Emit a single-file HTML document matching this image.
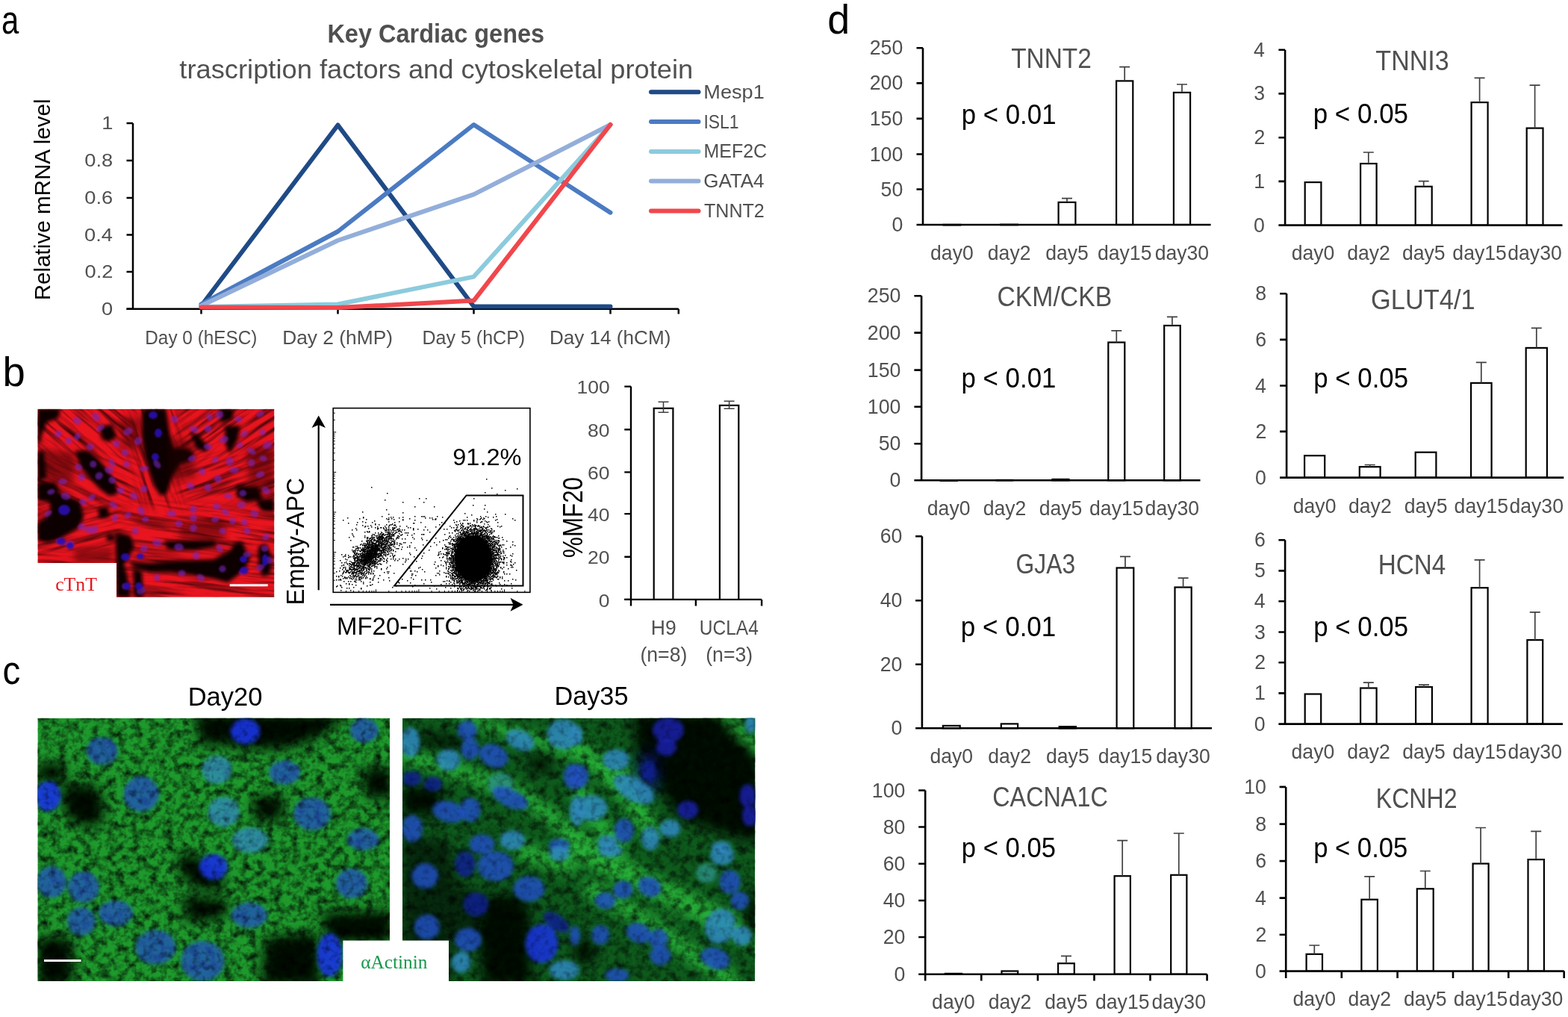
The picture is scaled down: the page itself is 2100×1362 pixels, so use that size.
<!DOCTYPE html>
<html><head><meta charset="utf-8"><title>Figure</title>
<style>html,body{margin:0;padding:0;background:#fff;overflow:hidden}svg{display:block}</style>
</head><body>
<svg width="2100" height="1362" viewBox="0 0 2100 1362">
<rect width="2100" height="1362" fill="#fff"/>
<defs>
<clipPath id="cR"><rect x="50.4" y="547.8" width="317" height="252"/></clipPath>
<clipPath id="cG1"><rect x="50.4" y="961.7" width="471.6" height="352.3"/></clipPath>
<clipPath id="cG2"><rect x="539" y="961.7" width="472.2" height="352.3"/></clipPath>
<filter id="b1" x="-20%" y="-20%" width="140%" height="140%"><feGaussianBlur stdDeviation="1.2"/></filter>
<filter id="b2" x="-20%" y="-20%" width="140%" height="140%"><feGaussianBlur stdDeviation="2.5"/></filter>
<filter id="b4" x="-20%" y="-20%" width="140%" height="140%"><feGaussianBlur stdDeviation="4"/></filter>
<filter id="b8" x="-30%" y="-30%" width="160%" height="160%"><feGaussianBlur stdDeviation="8"/></filter>
<filter id="fibR" x="0" y="0" width="100%" height="100%">
  <feTurbulence type="fractalNoise" baseFrequency="0.012 0.16" numOctaves="3" seed="7" result="n"/>
  <feColorMatrix in="n" type="matrix" values="0 0 0 0 0  0 0 0 0 0  0 0 0 0 0  -2.2 0 0 0 1.25"/>
</filter>
<filter id="fibR2" x="0" y="0" width="100%" height="100%">
  <feTurbulence type="fractalNoise" baseFrequency="0.02 0.2" numOctaves="2" seed="23" result="n"/>
  <feColorMatrix in="n" type="matrix" values="0 0 0 0 0  0 0 0 0 0  0 0 0 0 0  -2.4 0 0 0 1.3"/>
</filter>
<filter id="fibG2" x="0" y="0" width="100%" height="100%">
  <feTurbulence type="fractalNoise" baseFrequency="0.12 0.12" numOctaves="2" seed="19" result="n"/>
  <feColorMatrix in="n" type="matrix" values="0 0 0 0 0  0 0 0 0 0  0 0 0 0 0  -2.5 0 0 0 1.3"/>
</filter>
<filter id="fibG" x="0" y="0" width="100%" height="100%">
  <feTurbulence type="fractalNoise" baseFrequency="0.09 0.09" numOctaves="3" seed="11" result="n"/>
  <feColorMatrix in="n" type="matrix" values="0 0 0 0 0  0 0 0 0 0  0 0 0 0 0  -2.0 0 0 0 1.15"/>
</filter>
</defs>
<text transform="translate(2.02,44.70) scale(0.7975,1)" font-family="'Liberation Sans', sans-serif" font-size="52.59" fill="#000">a</text>
<text transform="translate(3.46,517.40) scale(0.9770,1)" font-family="'Liberation Sans', sans-serif" font-size="55.72" fill="#000">b</text>
<text transform="translate(3.60,916.00) scale(0.8985,1)" font-family="'Liberation Sans', sans-serif" font-size="52.96" fill="#000">c</text>
<text transform="translate(1108.25,44.50) scale(0.9675,1)" font-family="'Liberation Sans', sans-serif" font-size="55.59" fill="#000">d</text>
<text transform="translate(438.39,57.00) scale(0.9423,1)" font-family="'Liberation Sans', sans-serif" font-weight="bold" font-size="34.49" fill="#505050">Key Cardiac genes</text>
<text transform="translate(240.36,105.40) scale(1.0163,1)" font-family="'Liberation Sans', sans-serif" font-size="35.72" fill="#505050">trascription factors and cytoskeletal protein</text>
<text transform="translate(67.00,402.27) rotate(-90) scale(0.9944,1)" font-family="'Liberation Sans', sans-serif" font-size="29.79" fill="#000">Relative mRNA level</text>
<path d="M178.0,165 V413.75 M169.5,413.75 H908.8" stroke="#000" stroke-width="2.5" fill="none"/>
<path d="M169.5,165.0 H178.0 M169.5,215.0 H178.0 M169.5,265.0 H178.0 M169.5,314.5 H178.0 M169.5,364.0 H178.0 M169.5,413.75 H178.0 M269.5,413.75 V420.5 M452.5,413.75 V420.5 M634.5,413.75 V420.5 M817.5,413.75 V420.5 M908.8,413.75 V420.5 " stroke="#000" stroke-width="2.5" fill="none"/>
<text transform="translate(136.20,173.30) scale(1.1091,1)" font-family="'Liberation Sans', sans-serif" font-size="24.57" fill="#505050">1</text>
<text transform="translate(113.31,223.30) scale(1.1091,1)" font-family="'Liberation Sans', sans-serif" font-size="24.57" fill="#505050">0.8</text>
<text transform="translate(113.31,273.30) scale(1.1091,1)" font-family="'Liberation Sans', sans-serif" font-size="24.57" fill="#505050">0.6</text>
<text transform="translate(113.04,322.80) scale(1.1091,1)" font-family="'Liberation Sans', sans-serif" font-size="24.57" fill="#505050">0.4</text>
<text transform="translate(113.58,372.30) scale(1.1091,1)" font-family="'Liberation Sans', sans-serif" font-size="24.57" fill="#505050">0.2</text>
<text transform="translate(135.93,422.05) scale(1.1091,1)" font-family="'Liberation Sans', sans-serif" font-size="24.57" fill="#505050">0</text>
<text transform="translate(194.25,460.80) scale(0.9445,1)" font-family="'Liberation Sans', sans-serif" font-size="25.80" fill="#505050">Day 0 (hESC)</text>
<text transform="translate(378.19,460.80) scale(1.0212,1)" font-family="'Liberation Sans', sans-serif" font-size="25.80" fill="#505050">Day 2 (hMP)</text>
<text transform="translate(565.50,461.20) scale(0.9651,1)" font-family="'Liberation Sans', sans-serif" font-size="25.94" fill="#505050">Day 5 (hCP)</text>
<text transform="translate(735.91,461.20) scale(1.0062,1)" font-family="'Liberation Sans', sans-serif" font-size="25.94" fill="#505050">Day 14 (hCM)</text>
<polyline points="269.5,409.5 452.5,167.5 634.5,410.5 817.5,410.5" fill="none" stroke="#1F4A86" stroke-width="6" stroke-linejoin="round" stroke-linecap="round"/>
<polyline points="269.5,407.5 452.5,310.0 634.5,167.0 817.5,284.7" fill="none" stroke="#4B7BC2" stroke-width="6" stroke-linejoin="round" stroke-linecap="round"/>
<polyline points="269.5,411.0 452.5,407.5 634.5,370.6 817.5,167.0" fill="none" stroke="#8CCBDD" stroke-width="6" stroke-linejoin="round" stroke-linecap="round"/>
<polyline points="269.5,409.5 452.5,322.0 634.5,260.4 817.5,167.0" fill="none" stroke="#93AEDA" stroke-width="6" stroke-linejoin="round" stroke-linecap="round"/>
<polyline points="269.5,411.5 452.5,412.0 634.5,402.6 817.5,167.0" fill="none" stroke="#F0474C" stroke-width="6" stroke-linejoin="round" stroke-linecap="round"/>
<line x1="872" y1="123.2" x2="935.5" y2="123.2" stroke="#1F4A86" stroke-width="6" stroke-linecap="round"/>
<text transform="translate(942.33,131.80) scale(1.0697,1)" font-family="'Liberation Sans', sans-serif" font-size="25.36" fill="#505050">Mesp1</text>
<line x1="872" y1="163.0" x2="935.5" y2="163.0" stroke="#4B7BC2" stroke-width="6" stroke-linecap="round"/>
<text transform="translate(942.44,171.60) scale(0.9167,1)" font-family="'Liberation Sans', sans-serif" font-size="25.00" fill="#505050">ISL1</text>
<line x1="872" y1="203.1" x2="935.5" y2="203.1" stroke="#8CCBDD" stroke-width="6" stroke-linecap="round"/>
<text transform="translate(942.50,211.30) scale(0.9839,1)" font-family="'Liberation Sans', sans-serif" font-size="25.36" fill="#505050">MEF2C</text>
<line x1="872" y1="242.5" x2="935.5" y2="242.5" stroke="#93AEDA" stroke-width="6" stroke-linecap="round"/>
<text transform="translate(942.20,251.40) scale(1.0400,1)" font-family="'Liberation Sans', sans-serif" font-size="25.00" fill="#505050">GATA4</text>
<line x1="872" y1="282.6" x2="935.5" y2="282.6" stroke="#F0474C" stroke-width="6" stroke-linecap="round"/>
<text transform="translate(943.00,290.90) scale(1.0032,1)" font-family="'Liberation Sans', sans-serif" font-size="25.00" fill="#505050">TNNT2</text>
<g clip-path="url(#cR)"><rect x="50.4" y="547.8" width="317" height="252" fill="#E8141E"/><mask id="fr0" maskUnits="userSpaceOnUse" x="0" y="500" width="450" height="350"><rect x="30" y="530" width="150" height="82" fill="#fff" filter="url(#b8)"/></mask><g mask="url(#fr0)"><g transform="rotate(40 105.0 571.0)"><rect x="-95.0" y="371.0" width="400" height="400" fill="#300000" filter="url(#fibR)" opacity="0.75"/></g></g><mask id="fr1" maskUnits="userSpaceOnUse" x="0" y="500" width="450" height="350"><rect x="180" y="530" width="60" height="146" fill="#fff" filter="url(#b8)"/></mask><g mask="url(#fr1)"><g transform="rotate(70 210.0 603.0)"><rect x="10.0" y="403.0" width="400" height="400" fill="#300000" filter="url(#fibR)" opacity="0.75"/></g></g><mask id="fr2" maskUnits="userSpaceOnUse" x="0" y="500" width="450" height="350"><rect x="240" y="530" width="150" height="82" fill="#fff" filter="url(#b8)"/></mask><g mask="url(#fr2)"><g transform="rotate(-35 315.0 571.0)"><rect x="115.0" y="371.0" width="400" height="400" fill="#300000" filter="url(#fibR)" opacity="0.75"/></g></g><mask id="fr3" maskUnits="userSpaceOnUse" x="0" y="500" width="450" height="350"><rect x="30" y="612" width="150" height="64" fill="#fff" filter="url(#b8)"/></mask><g mask="url(#fr3)"><g transform="rotate(25 105.0 644.0)"><rect x="-95.0" y="444.0" width="400" height="400" fill="#300000" filter="url(#fibR)" opacity="0.75"/></g></g><mask id="fr4" maskUnits="userSpaceOnUse" x="0" y="500" width="450" height="350"><rect x="240" y="612" width="150" height="64" fill="#fff" filter="url(#b8)"/></mask><g mask="url(#fr4)"><g transform="rotate(-20 315.0 644.0)"><rect x="115.0" y="444.0" width="400" height="400" fill="#300000" filter="url(#fibR)" opacity="0.75"/></g></g><mask id="fr5" maskUnits="userSpaceOnUse" x="0" y="500" width="450" height="350"><rect x="30" y="676" width="130" height="64" fill="#fff" filter="url(#b8)"/></mask><g mask="url(#fr5)"><g transform="rotate(-15 95.0 708.0)"><rect x="-105.0" y="508.0" width="400" height="400" fill="#300000" filter="url(#fibR)" opacity="0.75"/></g></g><mask id="fr6" maskUnits="userSpaceOnUse" x="0" y="500" width="450" height="350"><rect x="160" y="676" width="230" height="64" fill="#fff" filter="url(#b8)"/></mask><g mask="url(#fr6)"><g transform="rotate(8 275.0 708.0)"><rect x="75.0" y="508.0" width="400" height="400" fill="#300000" filter="url(#fibR)" opacity="0.75"/></g></g><mask id="fr7" maskUnits="userSpaceOnUse" x="0" y="500" width="450" height="350"><rect x="30" y="740" width="360" height="80" fill="#fff" filter="url(#b8)"/></mask><g mask="url(#fr7)"><g transform="rotate(5 210.0 780.0)"><rect x="10.0" y="580.0" width="400" height="400" fill="#300000" filter="url(#fibR)" opacity="0.75"/></g></g><g filter="url(#b2)" fill="#070005"><polygon points="50.0,547.0 81.0,547.0 78.0,560.0 62.0,566.0 57.0,580.0 50.0,600.0"/><polygon points="50.0,604.0 59.0,604.0 63.0,640.0 50.0,645.0"/><polygon points="134.0,572.0 150.0,568.0 156.0,584.0 146.0,592.0 136.0,588.0"/><polygon points="192.0,547.0 222.0,547.0 225.0,565.0 228.0,585.0 232.0,600.0 248.0,600.0 258.0,605.0 258.0,615.0 240.0,622.0 230.0,640.0 224.0,660.0 215.0,664.0 206.0,650.0 200.0,630.0 194.0,610.0 190.0,585.0 190.0,560.0"/><polygon points="255.0,577.0 268.0,585.0 280.0,600.0 275.0,605.0 262.0,600.0"/><polygon points="100.0,604.0 118.0,603.0 131.0,614.0 146.0,632.0 156.0,650.0 157.0,662.0 146.0,664.0 134.0,655.0 120.0,640.0 108.0,625.0"/><polygon points="50.0,646.0 74.0,646.0 80.0,660.0 100.0,668.0 108.0,672.0 112.0,694.0 104.0,708.0 90.0,716.0 78.0,723.0 64.0,727.0 50.0,724.0 50.0,700.0 60.0,694.0 68.0,684.0 66.0,672.0 50.0,670.0"/><polygon points="301.0,570.0 322.0,570.0 318.0,590.0 308.0,607.0 302.0,596.0"/><polygon points="293.0,547.0 313.0,547.0 311.0,562.0 296.0,566.0"/><polygon points="155.0,713.0 174.0,717.0 180.0,732.0 172.0,746.0 166.0,756.0 170.0,770.0 175.0,800.0 156.0,800.0"/><polygon points="178.0,762.0 190.0,765.0 192.0,800.0 180.0,800.0"/><polygon points="172.0,752.0 200.0,754.0 238.0,751.0 286.0,749.0 309.0,737.0 314.0,727.0 324.0,725.0 329.0,737.0 335.0,746.0 329.0,761.0 319.0,770.0 305.0,780.0 286.0,775.0 257.0,770.0 229.0,766.0 200.0,766.0 180.0,760.0"/><polygon points="346.0,732.0 356.0,728.0 364.0,745.0 362.0,768.0 352.0,772.0 346.0,755.0"/><polygon points="343.0,670.0 367.0,668.0 367.0,686.0 350.0,684.0"/><polygon points="131.0,680.0 145.0,679.0 146.0,693.0 133.0,694.0"/><polygon points="143.0,716.0 153.0,716.0 153.0,724.0 143.0,724.0"/><polygon points="219.0,724.0 286.0,724.0 291.0,731.0 260.0,737.0 225.0,736.0"/><polygon points="318.0,650.0 346.0,652.0 352.0,668.0 330.0,672.0 316.0,664.0"/></g><g filter="url(#b4)" fill="#200004" opacity="0.45"><polygon points="222.0,585.0 258.0,590.0 262.0,640.0 226.0,642.0"/><polygon points="58.0,602.0 100.0,606.0 98.0,650.0 60.0,648.0"/><polygon points="240.0,700.0 300.0,698.0 302.0,720.0 242.0,722.0"/><polygon points="330.0,600.0 367.0,598.0 367.0,660.0 334.0,662.0"/><polygon points="160.0,560.0 188.0,560.0 188.0,600.0 165.0,600.0"/><polygon points="100.0,735.0 150.0,735.0 150.0,754.0 100.0,754.0"/></g><g filter="url(#b1)"><ellipse cx="103.4" cy="563.4" rx="5.7" ry="4.6" transform="rotate(35 103.4 563.4)" fill="#7428C0" opacity="0.6"/><ellipse cx="128.7" cy="558.5" rx="6.4" ry="4.6" transform="rotate(51 128.7 558.5)" fill="#7428C0" opacity="0.6"/><ellipse cx="280.5" cy="558.5" rx="4.6" ry="4.2" transform="rotate(53 280.5 558.5)" fill="#7428C0" opacity="0.6"/><ellipse cx="294.1" cy="555.6" rx="5.8" ry="4.9" transform="rotate(-46 294.1 555.6)" fill="#7428C0" opacity="0.6"/><ellipse cx="319.4" cy="561.4" rx="5.4" ry="3.9" transform="rotate(5 319.4 561.4)" fill="#7428C0" opacity="0.6"/><ellipse cx="348.6" cy="554.6" rx="5.6" ry="3.5" transform="rotate(-34 348.6 554.6)" fill="#7428C0" opacity="0.6"/><ellipse cx="233.8" cy="561.4" rx="5.1" ry="4.9" transform="rotate(32 233.8 561.4)" fill="#7428C0" opacity="0.6"/><ellipse cx="78.1" cy="580.9" rx="4.8" ry="4.7" transform="rotate(-43 78.1 580.9)" fill="#7428C0" opacity="0.6"/><ellipse cx="103.4" cy="584.8" rx="5.7" ry="3.7" transform="rotate(-60 103.4 584.8)" fill="#7428C0" opacity="0.6"/><ellipse cx="134.5" cy="573.1" rx="6.2" ry="3.8" transform="rotate(-34 134.5 573.1)" fill="#7428C0" opacity="0.6"/><ellipse cx="171.5" cy="577.9" rx="6.5" ry="4.8" transform="rotate(-25 171.5 577.9)" fill="#7428C0" opacity="0.6"/><ellipse cx="260.0" cy="575.0" rx="6.4" ry="4.3" transform="rotate(21 260.0 575.0)" fill="#7428C0" opacity="0.6"/><ellipse cx="278.5" cy="574.1" rx="4.9" ry="4.9" transform="rotate(23 278.5 574.1)" fill="#7428C0" opacity="0.6"/><ellipse cx="299.9" cy="588.6" rx="6.4" ry="4.8" transform="rotate(-24 299.9 588.6)" fill="#7428C0" opacity="0.6"/><ellipse cx="327.2" cy="580.9" rx="5.2" ry="3.7" transform="rotate(-43 327.2 580.9)" fill="#7428C0" opacity="0.6"/><ellipse cx="351.5" cy="578.9" rx="4.6" ry="4.0" transform="rotate(12 351.5 578.9)" fill="#7428C0" opacity="0.6"/><ellipse cx="91.7" cy="590.6" rx="4.5" ry="4.5" transform="rotate(-19 91.7 590.6)" fill="#7428C0" opacity="0.6"/><ellipse cx="120.9" cy="598.4" rx="5.1" ry="4.7" transform="rotate(-2 120.9 598.4)" fill="#7428C0" opacity="0.6"/><ellipse cx="155.9" cy="594.5" rx="5.1" ry="4.2" transform="rotate(25 155.9 594.5)" fill="#7428C0" opacity="0.6"/><ellipse cx="167.6" cy="606.2" rx="4.6" ry="5.0" transform="rotate(-57 167.6 606.2)" fill="#7428C0" opacity="0.6"/><ellipse cx="185.1" cy="590.6" rx="6.0" ry="4.8" transform="rotate(-58 185.1 590.6)" fill="#7428C0" opacity="0.6"/><ellipse cx="278.5" cy="598.4" rx="6.1" ry="4.0" transform="rotate(9 278.5 598.4)" fill="#7428C0" opacity="0.6"/><ellipse cx="321.3" cy="596.4" rx="4.5" ry="3.6" transform="rotate(-38 321.3 596.4)" fill="#7428C0" opacity="0.6"/><ellipse cx="336.9" cy="604.2" rx="6.4" ry="3.8" transform="rotate(31 336.9 604.2)" fill="#7428C0" opacity="0.6"/><ellipse cx="358.3" cy="596.4" rx="6.4" ry="4.9" transform="rotate(-19 358.3 596.4)" fill="#7428C0" opacity="0.6"/><ellipse cx="105.3" cy="625.6" rx="5.2" ry="4.3" transform="rotate(33 105.3 625.6)" fill="#7428C0" opacity="0.6"/><ellipse cx="124.8" cy="621.7" rx="4.7" ry="4.6" transform="rotate(36 124.8 621.7)" fill="#7428C0" opacity="0.6"/><ellipse cx="150.1" cy="619.8" rx="6.2" ry="3.6" transform="rotate(53 150.1 619.8)" fill="#7428C0" opacity="0.6"/><ellipse cx="169.5" cy="621.7" rx="4.7" ry="4.0" transform="rotate(13 169.5 621.7)" fill="#7428C0" opacity="0.6"/><ellipse cx="210.4" cy="621.7" rx="6.3" ry="4.0" transform="rotate(51 210.4 621.7)" fill="#7428C0" opacity="0.6"/><ellipse cx="257.1" cy="613.9" rx="5.6" ry="4.0" transform="rotate(-22 257.1 613.9)" fill="#7428C0" opacity="0.6"/><ellipse cx="288.2" cy="615.9" rx="4.9" ry="3.6" transform="rotate(-42 288.2 615.9)" fill="#7428C0" opacity="0.6"/><ellipse cx="307.7" cy="617.8" rx="5.9" ry="5.0" transform="rotate(-41 307.7 617.8)" fill="#7428C0" opacity="0.6"/><ellipse cx="336.9" cy="619.8" rx="4.6" ry="5.0" transform="rotate(4 336.9 619.8)" fill="#7428C0" opacity="0.6"/><ellipse cx="352.5" cy="613.9" rx="5.3" ry="3.9" transform="rotate(11 352.5 613.9)" fill="#7428C0" opacity="0.6"/><ellipse cx="83.9" cy="645.1" rx="6.2" ry="4.2" transform="rotate(-9 83.9 645.1)" fill="#7428C0" opacity="0.6"/><ellipse cx="109.2" cy="639.2" rx="4.6" ry="4.9" transform="rotate(-56 109.2 639.2)" fill="#7428C0" opacity="0.6"/><ellipse cx="132.6" cy="637.3" rx="5.5" ry="4.8" transform="rotate(-44 132.6 637.3)" fill="#7428C0" opacity="0.6"/><ellipse cx="146.2" cy="629.5" rx="6.0" ry="4.9" transform="rotate(16 146.2 629.5)" fill="#7428C0" opacity="0.6"/><ellipse cx="192.9" cy="627.6" rx="6.1" ry="3.7" transform="rotate(-8 192.9 627.6)" fill="#7428C0" opacity="0.6"/><ellipse cx="270.7" cy="631.5" rx="4.8" ry="4.8" transform="rotate(-25 270.7 631.5)" fill="#7428C0" opacity="0.6"/><ellipse cx="292.1" cy="641.2" rx="5.4" ry="5.0" transform="rotate(42 292.1 641.2)" fill="#7428C0" opacity="0.6"/><ellipse cx="313.5" cy="629.5" rx="6.5" ry="4.2" transform="rotate(-1 313.5 629.5)" fill="#7428C0" opacity="0.6"/><ellipse cx="348.6" cy="635.3" rx="6.0" ry="4.2" transform="rotate(-25 348.6 635.3)" fill="#7428C0" opacity="0.6"/><ellipse cx="68.4" cy="658.7" rx="5.3" ry="3.7" transform="rotate(-15 68.4 658.7)" fill="#7428C0" opacity="0.6"/><ellipse cx="87.8" cy="664.5" rx="6.5" ry="4.9" transform="rotate(15 87.8 664.5)" fill="#7428C0" opacity="0.6"/><ellipse cx="122.8" cy="666.5" rx="5.5" ry="4.0" transform="rotate(-49 122.8 666.5)" fill="#7428C0" opacity="0.6"/><ellipse cx="150.1" cy="643.1" rx="5.0" ry="4.7" transform="rotate(44 150.1 643.1)" fill="#7428C0" opacity="0.6"/><ellipse cx="161.8" cy="656.8" rx="5.2" ry="4.7" transform="rotate(33 161.8 656.8)" fill="#7428C0" opacity="0.6"/><ellipse cx="179.3" cy="664.5" rx="5.9" ry="4.5" transform="rotate(31 179.3 664.5)" fill="#7428C0" opacity="0.6"/><ellipse cx="192.9" cy="654.8" rx="5.2" ry="4.6" transform="rotate(-26 192.9 654.8)" fill="#7428C0" opacity="0.6"/><ellipse cx="255.2" cy="650.9" rx="5.5" ry="4.7" transform="rotate(23 255.2 650.9)" fill="#7428C0" opacity="0.6"/><ellipse cx="278.5" cy="652.9" rx="5.1" ry="4.9" transform="rotate(18 278.5 652.9)" fill="#7428C0" opacity="0.6"/><ellipse cx="305.8" cy="664.5" rx="5.7" ry="3.5" transform="rotate(6 305.8 664.5)" fill="#7428C0" opacity="0.6"/><ellipse cx="325.2" cy="660.6" rx="5.0" ry="4.5" transform="rotate(-4 325.2 660.6)" fill="#7428C0" opacity="0.6"/><ellipse cx="356.3" cy="656.8" rx="6.1" ry="4.5" transform="rotate(36 356.3 656.8)" fill="#7428C0" opacity="0.6"/><ellipse cx="111.2" cy="672.3" rx="5.2" ry="4.5" transform="rotate(29 111.2 672.3)" fill="#7428C0" opacity="0.6"/><ellipse cx="152.0" cy="676.2" rx="6.2" ry="4.0" transform="rotate(41 152.0 676.2)" fill="#7428C0" opacity="0.6"/><ellipse cx="189.0" cy="684.0" rx="6.2" ry="4.5" transform="rotate(57 189.0 684.0)" fill="#7428C0" opacity="0.6"/><ellipse cx="229.9" cy="687.9" rx="6.4" ry="4.3" transform="rotate(4 229.9 687.9)" fill="#7428C0" opacity="0.6"/><ellipse cx="259.0" cy="682.1" rx="4.8" ry="4.8" transform="rotate(52 259.0 682.1)" fill="#7428C0" opacity="0.6"/><ellipse cx="290.2" cy="678.2" rx="5.5" ry="4.5" transform="rotate(26 290.2 678.2)" fill="#7428C0" opacity="0.6"/><ellipse cx="301.9" cy="685.9" rx="6.0" ry="3.8" transform="rotate(34 301.9 685.9)" fill="#7428C0" opacity="0.6"/><ellipse cx="323.3" cy="676.2" rx="5.7" ry="4.5" transform="rotate(-10 323.3 676.2)" fill="#7428C0" opacity="0.6"/><ellipse cx="340.8" cy="687.9" rx="5.7" ry="4.7" transform="rotate(16 340.8 687.9)" fill="#7428C0" opacity="0.6"/><ellipse cx="64.5" cy="687.9" rx="5.9" ry="3.5" transform="rotate(-41 64.5 687.9)" fill="#7428C0" opacity="0.6"/><ellipse cx="109.2" cy="705.4" rx="5.4" ry="4.5" transform="rotate(-34 109.2 705.4)" fill="#7428C0" opacity="0.6"/><ellipse cx="126.7" cy="709.3" rx="5.9" ry="4.4" transform="rotate(-55 126.7 709.3)" fill="#7428C0" opacity="0.6"/><ellipse cx="154.0" cy="693.7" rx="5.4" ry="3.8" transform="rotate(-54 154.0 693.7)" fill="#7428C0" opacity="0.6"/><ellipse cx="171.5" cy="689.8" rx="4.8" ry="4.0" transform="rotate(-38 171.5 689.8)" fill="#7428C0" opacity="0.6"/><ellipse cx="194.8" cy="695.7" rx="4.9" ry="3.6" transform="rotate(-4 194.8 695.7)" fill="#7428C0" opacity="0.6"/><ellipse cx="239.6" cy="701.5" rx="5.3" ry="4.4" transform="rotate(11 239.6 701.5)" fill="#7428C0" opacity="0.6"/><ellipse cx="259.0" cy="693.7" rx="5.0" ry="4.9" transform="rotate(-60 259.0 693.7)" fill="#7428C0" opacity="0.6"/><ellipse cx="288.2" cy="695.7" rx="5.3" ry="3.9" transform="rotate(-11 288.2 695.7)" fill="#7428C0" opacity="0.6"/><ellipse cx="311.6" cy="697.6" rx="4.7" ry="4.7" transform="rotate(-15 311.6 697.6)" fill="#7428C0" opacity="0.6"/><ellipse cx="327.2" cy="699.6" rx="4.6" ry="4.4" transform="rotate(-49 327.2 699.6)" fill="#7428C0" opacity="0.6"/><ellipse cx="80.0" cy="724.9" rx="5.6" ry="4.0" transform="rotate(10 80.0 724.9)" fill="#7428C0" opacity="0.6"/><ellipse cx="93.6" cy="728.8" rx="6.4" ry="4.7" transform="rotate(-10 93.6 728.8)" fill="#7428C0" opacity="0.6"/><ellipse cx="118.9" cy="709.3" rx="6.1" ry="4.5" transform="rotate(-16 118.9 709.3)" fill="#7428C0" opacity="0.6"/><ellipse cx="181.2" cy="711.2" rx="4.8" ry="4.4" transform="rotate(8 181.2 711.2)" fill="#7428C0" opacity="0.6"/><ellipse cx="210.4" cy="726.8" rx="6.4" ry="5.0" transform="rotate(13 210.4 726.8)" fill="#7428C0" opacity="0.6"/><ellipse cx="259.0" cy="707.3" rx="5.2" ry="4.8" transform="rotate(-60 259.0 707.3)" fill="#7428C0" opacity="0.6"/><ellipse cx="298.0" cy="711.2" rx="4.7" ry="4.3" transform="rotate(14 298.0 711.2)" fill="#7428C0" opacity="0.6"/><ellipse cx="331.0" cy="711.2" rx="4.8" ry="4.4" transform="rotate(47 331.0 711.2)" fill="#7428C0" opacity="0.6"/><ellipse cx="356.3" cy="719.0" rx="5.3" ry="4.1" transform="rotate(-33 356.3 719.0)" fill="#7428C0" opacity="0.6"/><ellipse cx="192.9" cy="734.6" rx="5.1" ry="5.0" transform="rotate(-14 192.9 734.6)" fill="#7428C0" opacity="0.6"/><ellipse cx="239.6" cy="732.6" rx="6.4" ry="4.9" transform="rotate(11 239.6 732.6)" fill="#7428C0" opacity="0.6"/><ellipse cx="262.9" cy="744.3" rx="5.0" ry="5.0" transform="rotate(-0 262.9 744.3)" fill="#7428C0" opacity="0.6"/><ellipse cx="294.1" cy="734.6" rx="5.3" ry="4.0" transform="rotate(58 294.1 734.6)" fill="#7428C0" opacity="0.6"/><ellipse cx="331.0" cy="742.4" rx="5.5" ry="3.9" transform="rotate(-3 331.0 742.4)" fill="#7428C0" opacity="0.6"/><ellipse cx="354.4" cy="734.6" rx="4.7" ry="4.4" transform="rotate(-7 354.4 734.6)" fill="#7428C0" opacity="0.6"/><ellipse cx="360.2" cy="750.2" rx="5.1" ry="4.7" transform="rotate(39 360.2 750.2)" fill="#7428C0" opacity="0.6"/><ellipse cx="167.6" cy="785.2" rx="4.5" ry="4.3" transform="rotate(-27 167.6 785.2)" fill="#7428C0" opacity="0.6"/><ellipse cx="189.0" cy="791.0" rx="6.4" ry="4.7" transform="rotate(-31 189.0 791.0)" fill="#7428C0" opacity="0.6"/><ellipse cx="210.4" cy="773.5" rx="5.0" ry="3.7" transform="rotate(59 210.4 773.5)" fill="#7428C0" opacity="0.6"/><ellipse cx="243.5" cy="767.7" rx="5.1" ry="4.4" transform="rotate(-3 243.5 767.7)" fill="#7428C0" opacity="0.6"/><ellipse cx="268.8" cy="773.5" rx="5.8" ry="4.4" transform="rotate(29 268.8 773.5)" fill="#7428C0" opacity="0.6"/><ellipse cx="298.0" cy="761.8" rx="4.7" ry="4.6" transform="rotate(-24 298.0 761.8)" fill="#7428C0" opacity="0.6"/><ellipse cx="325.2" cy="765.7" rx="5.6" ry="4.0" transform="rotate(-24 325.2 765.7)" fill="#7428C0" opacity="0.6"/><ellipse cx="348.6" cy="759.9" rx="5.6" ry="4.2" transform="rotate(-17 348.6 759.9)" fill="#7428C0" opacity="0.6"/><ellipse cx="86" cy="683" rx="8" ry="7" fill="#2A10B0" opacity="0.9"/><ellipse cx="82" cy="725" rx="6" ry="5" fill="#2A10B0" opacity="0.9"/><ellipse cx="94" cy="731" rx="5" ry="4.5" fill="#2A10B0" opacity="0.9"/><ellipse cx="118" cy="775" rx="5" ry="4" fill="#2A10B0" opacity="0.9"/><ellipse cx="168" cy="746" rx="6" ry="5" fill="#2A10B0" opacity="0.9"/><ellipse cx="188" cy="745" rx="5" ry="4" fill="#2A10B0" opacity="0.9"/><ellipse cx="205" cy="556" rx="6" ry="5" fill="#2A10B0" opacity="0.9"/><ellipse cx="212" cy="580" rx="5" ry="6" fill="#2A10B0" opacity="0.9"/><ellipse cx="208" cy="612" rx="5" ry="5" fill="#2A10B0" opacity="0.9"/><ellipse cx="326" cy="749" rx="5" ry="4.5" fill="#2A10B0" opacity="0.9"/><ellipse cx="327" cy="764" rx="6" ry="5" fill="#2A10B0" opacity="0.9"/><ellipse cx="355" cy="750" rx="4" ry="8" fill="#2A10B0" opacity="0.9"/><ellipse cx="186" cy="785" rx="5" ry="5" fill="#2A10B0" opacity="0.9"/><ellipse cx="170" cy="785" rx="5" ry="5" fill="#2A10B0" opacity="0.9"/></g></g>
<rect x="50" y="754" width="106" height="47" fill="#fff"/>
<rect x="307.7" y="782.3" width="51" height="3" fill="#fff"/>
<text transform="translate(74.17,791.00) scale(1.0235,1)" font-family="'Liberation Serif', serif" font-size="25.19" fill="#E8141C">cTnT</text>
<ellipse cx="634" cy="748" rx="25" ry="31" fill="#000"/><ellipse cx="494" cy="744" rx="16" ry="6" transform="rotate(-48 495 742)" fill="#000" opacity="0.75"/><path d="M616 720h1.5v1.5h-1.5zM619 709h1.5v1.5h-1.5zM610 763h1.5v1.5h-1.5zM640 773h1.5v1.5h-1.5zM639 791h1.5v1.5h-1.5zM626 720h1.5v1.5h-1.5zM658 741h1.5v1.5h-1.5zM610 722h1.5v1.5h-1.5zM605 736h1.5v1.5h-1.5zM615 723h1.5v1.5h-1.5zM626 714h1.5v1.5h-1.5zM638 779h1.5v1.5h-1.5zM617 722h1.5v1.5h-1.5zM659 732h1.5v1.5h-1.5zM644 769h1.5v1.5h-1.5zM608 710h1.5v1.5h-1.5zM646 724h1.5v1.5h-1.5zM632 780h1.5v1.5h-1.5zM655 721h1.5v1.5h-1.5zM603 758h1.5v1.5h-1.5zM614 737h1.5v1.5h-1.5zM641 780h1.5v1.5h-1.5zM656 763h1.5v1.5h-1.5zM607 766h1.5v1.5h-1.5zM675 746h1.5v1.5h-1.5zM629 716h1.5v1.5h-1.5zM631 777h1.5v1.5h-1.5zM660 737h1.5v1.5h-1.5zM607 748h1.5v1.5h-1.5zM636 704h1.5v1.5h-1.5zM627 773h1.5v1.5h-1.5zM652 728h1.5v1.5h-1.5zM662 736h1.5v1.5h-1.5zM653 761h1.5v1.5h-1.5zM606 739h1.5v1.5h-1.5zM614 761h1.5v1.5h-1.5zM626 779h1.5v1.5h-1.5zM609 760h1.5v1.5h-1.5zM609 729h1.5v1.5h-1.5zM657 764h1.5v1.5h-1.5zM662 766h1.5v1.5h-1.5zM644 787h1.5v1.5h-1.5zM640 714h1.5v1.5h-1.5zM659 766h1.5v1.5h-1.5zM623 719h1.5v1.5h-1.5zM612 769h1.5v1.5h-1.5zM607 758h1.5v1.5h-1.5zM633 785h1.5v1.5h-1.5zM665 759h1.5v1.5h-1.5zM667 739h1.5v1.5h-1.5zM640 784h1.5v1.5h-1.5zM613 772h1.5v1.5h-1.5zM612 763h1.5v1.5h-1.5zM611 736h1.5v1.5h-1.5zM596 722h1.5v1.5h-1.5zM661 761h1.5v1.5h-1.5zM660 740h1.5v1.5h-1.5zM612 732h1.5v1.5h-1.5zM633 787h1.5v1.5h-1.5zM607 766h1.5v1.5h-1.5zM629 718h1.5v1.5h-1.5zM623 720h1.5v1.5h-1.5zM614 755h1.5v1.5h-1.5zM657 763h1.5v1.5h-1.5zM654 723h1.5v1.5h-1.5zM645 722h1.5v1.5h-1.5zM658 747h1.5v1.5h-1.5zM620 719h1.5v1.5h-1.5zM610 739h1.5v1.5h-1.5zM631 715h1.5v1.5h-1.5zM660 725h1.5v1.5h-1.5zM614 761h1.5v1.5h-1.5zM631 786h1.5v1.5h-1.5zM611 763h1.5v1.5h-1.5zM603 734h1.5v1.5h-1.5zM651 776h1.5v1.5h-1.5zM654 717h1.5v1.5h-1.5zM636 789h1.5v1.5h-1.5zM616 726h1.5v1.5h-1.5zM657 714h1.5v1.5h-1.5zM630 720h1.5v1.5h-1.5zM642 710h1.5v1.5h-1.5zM663 772h1.5v1.5h-1.5zM637 778h1.5v1.5h-1.5zM640 790h1.5v1.5h-1.5zM615 785h1.5v1.5h-1.5zM609 771h1.5v1.5h-1.5zM671 732h1.5v1.5h-1.5zM632 713h1.5v1.5h-1.5zM613 736h1.5v1.5h-1.5zM664 747h1.5v1.5h-1.5zM617 710h1.5v1.5h-1.5zM622 721h1.5v1.5h-1.5zM623 786h1.5v1.5h-1.5zM615 761h1.5v1.5h-1.5zM622 711h1.5v1.5h-1.5zM627 774h1.5v1.5h-1.5zM607 728h1.5v1.5h-1.5zM612 760h1.5v1.5h-1.5zM650 781h1.5v1.5h-1.5zM617 720h1.5v1.5h-1.5zM639 788h1.5v1.5h-1.5zM617 726h1.5v1.5h-1.5zM613 751h1.5v1.5h-1.5zM638 719h1.5v1.5h-1.5zM648 783h1.5v1.5h-1.5zM646 723h1.5v1.5h-1.5zM618 715h1.5v1.5h-1.5zM613 723h1.5v1.5h-1.5zM651 707h1.5v1.5h-1.5zM632 787h1.5v1.5h-1.5zM637 707h1.5v1.5h-1.5zM628 779h1.5v1.5h-1.5zM609 738h1.5v1.5h-1.5zM663 764h1.5v1.5h-1.5zM614 764h1.5v1.5h-1.5zM626 712h1.5v1.5h-1.5zM612 772h1.5v1.5h-1.5zM667 735h1.5v1.5h-1.5zM608 738h1.5v1.5h-1.5zM663 756h1.5v1.5h-1.5zM613 767h1.5v1.5h-1.5zM662 754h1.5v1.5h-1.5zM658 752h1.5v1.5h-1.5zM617 768h1.5v1.5h-1.5zM638 709h1.5v1.5h-1.5zM660 764h1.5v1.5h-1.5zM665 747h1.5v1.5h-1.5zM636 706h1.5v1.5h-1.5zM660 750h1.5v1.5h-1.5zM639 782h1.5v1.5h-1.5zM648 784h1.5v1.5h-1.5zM665 739h1.5v1.5h-1.5zM619 780h1.5v1.5h-1.5zM660 762h1.5v1.5h-1.5zM651 765h1.5v1.5h-1.5zM659 742h1.5v1.5h-1.5zM609 761h1.5v1.5h-1.5zM652 711h1.5v1.5h-1.5zM613 718h1.5v1.5h-1.5zM661 742h1.5v1.5h-1.5zM605 738h1.5v1.5h-1.5zM651 718h1.5v1.5h-1.5zM653 726h1.5v1.5h-1.5zM661 752h1.5v1.5h-1.5zM639 779h1.5v1.5h-1.5zM633 784h1.5v1.5h-1.5zM653 763h1.5v1.5h-1.5zM611 714h1.5v1.5h-1.5zM601 753h1.5v1.5h-1.5zM635 712h1.5v1.5h-1.5zM655 772h1.5v1.5h-1.5zM610 741h1.5v1.5h-1.5zM631 709h1.5v1.5h-1.5zM629 780h1.5v1.5h-1.5zM660 750h1.5v1.5h-1.5zM666 742h1.5v1.5h-1.5zM602 748h1.5v1.5h-1.5zM608 757h1.5v1.5h-1.5zM607 751h1.5v1.5h-1.5zM656 762h1.5v1.5h-1.5zM625 782h1.5v1.5h-1.5zM635 707h1.5v1.5h-1.5zM601 760h1.5v1.5h-1.5zM662 743h1.5v1.5h-1.5zM663 736h1.5v1.5h-1.5zM621 720h1.5v1.5h-1.5zM611 755h1.5v1.5h-1.5zM635 777h1.5v1.5h-1.5zM658 730h1.5v1.5h-1.5zM618 714h1.5v1.5h-1.5zM656 729h1.5v1.5h-1.5zM650 775h1.5v1.5h-1.5zM651 767h1.5v1.5h-1.5zM663 734h1.5v1.5h-1.5zM612 760h1.5v1.5h-1.5zM663 768h1.5v1.5h-1.5zM664 746h1.5v1.5h-1.5zM655 752h1.5v1.5h-1.5zM647 786h1.5v1.5h-1.5zM606 748h1.5v1.5h-1.5zM653 718h1.5v1.5h-1.5zM625 788h1.5v1.5h-1.5zM622 779h1.5v1.5h-1.5zM598 777h1.5v1.5h-1.5zM609 768h1.5v1.5h-1.5zM633 709h1.5v1.5h-1.5zM660 731h1.5v1.5h-1.5zM657 775h1.5v1.5h-1.5zM608 736h1.5v1.5h-1.5zM663 747h1.5v1.5h-1.5zM602 746h1.5v1.5h-1.5zM626 787h1.5v1.5h-1.5zM612 773h1.5v1.5h-1.5zM652 725h1.5v1.5h-1.5zM631 780h1.5v1.5h-1.5zM646 770h1.5v1.5h-1.5zM605 734h1.5v1.5h-1.5zM624 715h1.5v1.5h-1.5zM640 704h1.5v1.5h-1.5zM606 773h1.5v1.5h-1.5zM659 741h1.5v1.5h-1.5zM651 725h1.5v1.5h-1.5zM601 738h1.5v1.5h-1.5zM646 777h1.5v1.5h-1.5zM618 777h1.5v1.5h-1.5zM655 715h1.5v1.5h-1.5zM626 719h1.5v1.5h-1.5zM623 723h1.5v1.5h-1.5zM634 713h1.5v1.5h-1.5zM601 758h1.5v1.5h-1.5zM656 755h1.5v1.5h-1.5zM606 740h1.5v1.5h-1.5zM653 785h1.5v1.5h-1.5zM658 731h1.5v1.5h-1.5zM634 777h1.5v1.5h-1.5zM619 707h1.5v1.5h-1.5zM615 778h1.5v1.5h-1.5zM649 722h1.5v1.5h-1.5zM612 746h1.5v1.5h-1.5zM627 786h1.5v1.5h-1.5zM628 787h1.5v1.5h-1.5zM611 728h1.5v1.5h-1.5zM626 777h1.5v1.5h-1.5zM610 718h1.5v1.5h-1.5zM622 781h1.5v1.5h-1.5zM632 713h1.5v1.5h-1.5zM649 771h1.5v1.5h-1.5zM599 739h1.5v1.5h-1.5zM599 750h1.5v1.5h-1.5zM617 788h1.5v1.5h-1.5zM657 707h1.5v1.5h-1.5zM657 741h1.5v1.5h-1.5zM608 741h1.5v1.5h-1.5zM617 710h1.5v1.5h-1.5zM640 777h1.5v1.5h-1.5zM608 737h1.5v1.5h-1.5zM657 730h1.5v1.5h-1.5zM652 774h1.5v1.5h-1.5zM653 730h1.5v1.5h-1.5zM619 719h1.5v1.5h-1.5zM650 777h1.5v1.5h-1.5zM599 752h1.5v1.5h-1.5zM614 757h1.5v1.5h-1.5zM654 768h1.5v1.5h-1.5zM615 765h1.5v1.5h-1.5zM654 712h1.5v1.5h-1.5zM664 751h1.5v1.5h-1.5zM652 770h1.5v1.5h-1.5zM641 780h1.5v1.5h-1.5zM652 771h1.5v1.5h-1.5zM621 722h1.5v1.5h-1.5zM622 778h1.5v1.5h-1.5zM632 702h1.5v1.5h-1.5zM611 746h1.5v1.5h-1.5zM667 734h1.5v1.5h-1.5zM606 756h1.5v1.5h-1.5zM604 749h1.5v1.5h-1.5zM657 761h1.5v1.5h-1.5zM659 758h1.5v1.5h-1.5zM657 746h1.5v1.5h-1.5zM610 724h1.5v1.5h-1.5zM638 708h1.5v1.5h-1.5zM613 754h1.5v1.5h-1.5zM653 765h1.5v1.5h-1.5zM614 778h1.5v1.5h-1.5zM660 768h1.5v1.5h-1.5zM645 709h1.5v1.5h-1.5zM651 771h1.5v1.5h-1.5zM632 711h1.5v1.5h-1.5zM618 771h1.5v1.5h-1.5zM622 723h1.5v1.5h-1.5zM634 711h1.5v1.5h-1.5zM654 709h1.5v1.5h-1.5zM666 752h1.5v1.5h-1.5zM633 781h1.5v1.5h-1.5zM612 771h1.5v1.5h-1.5zM638 778h1.5v1.5h-1.5zM614 769h1.5v1.5h-1.5zM658 758h1.5v1.5h-1.5zM625 718h1.5v1.5h-1.5zM631 775h1.5v1.5h-1.5zM613 758h1.5v1.5h-1.5zM655 757h1.5v1.5h-1.5zM659 749h1.5v1.5h-1.5zM624 777h1.5v1.5h-1.5zM650 778h1.5v1.5h-1.5zM672 761h1.5v1.5h-1.5zM607 729h1.5v1.5h-1.5zM656 772h1.5v1.5h-1.5zM650 712h1.5v1.5h-1.5zM649 721h1.5v1.5h-1.5zM624 776h1.5v1.5h-1.5zM647 772h1.5v1.5h-1.5zM620 768h1.5v1.5h-1.5zM644 721h1.5v1.5h-1.5zM639 704h1.5v1.5h-1.5zM659 729h1.5v1.5h-1.5zM612 722h1.5v1.5h-1.5zM610 759h1.5v1.5h-1.5zM661 759h1.5v1.5h-1.5zM648 723h1.5v1.5h-1.5zM651 717h1.5v1.5h-1.5zM642 716h1.5v1.5h-1.5zM643 716h1.5v1.5h-1.5zM658 760h1.5v1.5h-1.5zM619 773h1.5v1.5h-1.5zM607 761h1.5v1.5h-1.5zM650 774h1.5v1.5h-1.5zM613 726h1.5v1.5h-1.5zM664 762h1.5v1.5h-1.5zM620 773h1.5v1.5h-1.5zM620 704h1.5v1.5h-1.5zM659 736h1.5v1.5h-1.5zM618 706h1.5v1.5h-1.5zM621 708h1.5v1.5h-1.5zM617 773h1.5v1.5h-1.5zM661 736h1.5v1.5h-1.5zM650 723h1.5v1.5h-1.5zM646 720h1.5v1.5h-1.5zM656 778h1.5v1.5h-1.5zM643 721h1.5v1.5h-1.5zM609 765h1.5v1.5h-1.5zM612 756h1.5v1.5h-1.5zM625 775h1.5v1.5h-1.5zM654 712h1.5v1.5h-1.5zM628 777h1.5v1.5h-1.5zM659 740h1.5v1.5h-1.5zM618 720h1.5v1.5h-1.5zM656 769h1.5v1.5h-1.5zM630 789h1.5v1.5h-1.5zM608 759h1.5v1.5h-1.5zM660 753h1.5v1.5h-1.5zM637 787h1.5v1.5h-1.5zM646 718h1.5v1.5h-1.5zM654 771h1.5v1.5h-1.5zM627 715h1.5v1.5h-1.5zM657 759h1.5v1.5h-1.5zM609 742h1.5v1.5h-1.5zM659 770h1.5v1.5h-1.5zM662 752h1.5v1.5h-1.5zM612 725h1.5v1.5h-1.5zM616 707h1.5v1.5h-1.5zM609 745h1.5v1.5h-1.5zM609 774h1.5v1.5h-1.5zM658 749h1.5v1.5h-1.5zM629 708h1.5v1.5h-1.5zM660 756h1.5v1.5h-1.5zM643 773h1.5v1.5h-1.5zM649 711h1.5v1.5h-1.5zM612 755h1.5v1.5h-1.5zM652 734h1.5v1.5h-1.5zM614 740h1.5v1.5h-1.5zM641 711h1.5v1.5h-1.5zM660 776h1.5v1.5h-1.5zM607 777h1.5v1.5h-1.5zM661 765h1.5v1.5h-1.5zM611 738h1.5v1.5h-1.5zM610 727h1.5v1.5h-1.5zM613 780h1.5v1.5h-1.5zM657 763h1.5v1.5h-1.5zM667 737h1.5v1.5h-1.5zM639 716h1.5v1.5h-1.5zM610 771h1.5v1.5h-1.5zM621 714h1.5v1.5h-1.5zM601 741h1.5v1.5h-1.5zM636 785h1.5v1.5h-1.5zM613 737h1.5v1.5h-1.5zM607 760h1.5v1.5h-1.5zM654 769h1.5v1.5h-1.5zM655 727h1.5v1.5h-1.5zM619 787h1.5v1.5h-1.5zM600 735h1.5v1.5h-1.5zM609 709h1.5v1.5h-1.5zM652 768h1.5v1.5h-1.5zM609 739h1.5v1.5h-1.5zM610 735h1.5v1.5h-1.5zM622 687h1.5v1.5h-1.5zM653 702h1.5v1.5h-1.5zM620 717h1.5v1.5h-1.5zM638 717h1.5v1.5h-1.5zM656 731h1.5v1.5h-1.5zM650 773h1.5v1.5h-1.5zM664 732h1.5v1.5h-1.5zM632 784h1.5v1.5h-1.5zM606 740h1.5v1.5h-1.5zM663 734h1.5v1.5h-1.5zM649 712h1.5v1.5h-1.5zM667 752h1.5v1.5h-1.5zM635 714h1.5v1.5h-1.5zM606 749h1.5v1.5h-1.5zM642 716h1.5v1.5h-1.5zM662 762h1.5v1.5h-1.5zM615 731h1.5v1.5h-1.5zM627 705h1.5v1.5h-1.5zM607 735h1.5v1.5h-1.5zM632 775h1.5v1.5h-1.5zM612 726h1.5v1.5h-1.5zM598 747h1.5v1.5h-1.5zM620 789h1.5v1.5h-1.5zM639 776h1.5v1.5h-1.5zM602 746h1.5v1.5h-1.5zM645 723h1.5v1.5h-1.5zM629 716h1.5v1.5h-1.5zM643 780h1.5v1.5h-1.5zM609 748h1.5v1.5h-1.5zM653 767h1.5v1.5h-1.5zM646 709h1.5v1.5h-1.5zM606 745h1.5v1.5h-1.5zM653 770h1.5v1.5h-1.5zM608 746h1.5v1.5h-1.5zM652 783h1.5v1.5h-1.5zM645 715h1.5v1.5h-1.5zM625 775h1.5v1.5h-1.5zM600 720h1.5v1.5h-1.5zM623 714h1.5v1.5h-1.5zM636 715h1.5v1.5h-1.5zM612 728h1.5v1.5h-1.5zM653 779h1.5v1.5h-1.5zM657 737h1.5v1.5h-1.5zM622 718h1.5v1.5h-1.5zM659 729h1.5v1.5h-1.5zM639 778h1.5v1.5h-1.5zM610 743h1.5v1.5h-1.5zM618 771h1.5v1.5h-1.5zM616 722h1.5v1.5h-1.5zM609 739h1.5v1.5h-1.5zM628 775h1.5v1.5h-1.5zM620 775h1.5v1.5h-1.5zM631 781h1.5v1.5h-1.5zM652 705h1.5v1.5h-1.5zM630 777h1.5v1.5h-1.5zM632 783h1.5v1.5h-1.5zM608 730h1.5v1.5h-1.5zM657 768h1.5v1.5h-1.5zM605 738h1.5v1.5h-1.5zM607 756h1.5v1.5h-1.5zM617 785h1.5v1.5h-1.5zM606 736h1.5v1.5h-1.5zM662 730h1.5v1.5h-1.5zM670 747h1.5v1.5h-1.5zM669 729h1.5v1.5h-1.5zM616 738h1.5v1.5h-1.5zM627 782h1.5v1.5h-1.5zM647 724h1.5v1.5h-1.5zM656 769h1.5v1.5h-1.5zM638 713h1.5v1.5h-1.5zM605 744h1.5v1.5h-1.5zM646 778h1.5v1.5h-1.5zM626 773h1.5v1.5h-1.5zM664 763h1.5v1.5h-1.5zM603 773h1.5v1.5h-1.5zM656 770h1.5v1.5h-1.5zM617 729h1.5v1.5h-1.5zM607 723h1.5v1.5h-1.5zM601 755h1.5v1.5h-1.5zM611 756h1.5v1.5h-1.5zM609 738h1.5v1.5h-1.5zM651 775h1.5v1.5h-1.5zM613 732h1.5v1.5h-1.5zM646 711h1.5v1.5h-1.5zM612 752h1.5v1.5h-1.5zM610 767h1.5v1.5h-1.5zM625 774h1.5v1.5h-1.5zM670 730h1.5v1.5h-1.5zM637 713h1.5v1.5h-1.5zM611 703h1.5v1.5h-1.5zM659 726h1.5v1.5h-1.5zM616 712h1.5v1.5h-1.5zM638 776h1.5v1.5h-1.5zM635 782h1.5v1.5h-1.5zM655 768h1.5v1.5h-1.5zM636 718h1.5v1.5h-1.5zM658 752h1.5v1.5h-1.5zM655 756h1.5v1.5h-1.5zM654 722h1.5v1.5h-1.5zM625 779h1.5v1.5h-1.5zM619 714h1.5v1.5h-1.5zM649 772h1.5v1.5h-1.5zM660 735h1.5v1.5h-1.5zM613 724h1.5v1.5h-1.5zM612 764h1.5v1.5h-1.5zM644 713h1.5v1.5h-1.5zM651 771h1.5v1.5h-1.5zM611 714h1.5v1.5h-1.5zM644 783h1.5v1.5h-1.5zM612 728h1.5v1.5h-1.5zM599 732h1.5v1.5h-1.5zM622 777h1.5v1.5h-1.5zM658 772h1.5v1.5h-1.5zM635 782h1.5v1.5h-1.5zM637 715h1.5v1.5h-1.5zM621 769h1.5v1.5h-1.5zM654 744h1.5v1.5h-1.5zM659 728h1.5v1.5h-1.5zM649 775h1.5v1.5h-1.5zM611 731h1.5v1.5h-1.5zM646 716h1.5v1.5h-1.5zM627 722h1.5v1.5h-1.5zM610 751h1.5v1.5h-1.5zM644 775h1.5v1.5h-1.5zM617 721h1.5v1.5h-1.5zM652 714h1.5v1.5h-1.5zM664 747h1.5v1.5h-1.5zM610 722h1.5v1.5h-1.5zM658 747h1.5v1.5h-1.5zM661 743h1.5v1.5h-1.5zM618 716h1.5v1.5h-1.5zM645 719h1.5v1.5h-1.5zM609 733h1.5v1.5h-1.5zM621 716h1.5v1.5h-1.5zM659 770h1.5v1.5h-1.5zM660 757h1.5v1.5h-1.5zM636 718h1.5v1.5h-1.5zM655 765h1.5v1.5h-1.5zM661 718h1.5v1.5h-1.5zM665 767h1.5v1.5h-1.5zM654 738h1.5v1.5h-1.5zM647 776h1.5v1.5h-1.5zM612 769h1.5v1.5h-1.5zM664 742h1.5v1.5h-1.5zM639 712h1.5v1.5h-1.5zM638 714h1.5v1.5h-1.5zM623 717h1.5v1.5h-1.5zM628 709h1.5v1.5h-1.5zM625 710h1.5v1.5h-1.5zM660 749h1.5v1.5h-1.5zM631 777h1.5v1.5h-1.5zM614 765h1.5v1.5h-1.5zM657 765h1.5v1.5h-1.5zM616 770h1.5v1.5h-1.5zM660 725h1.5v1.5h-1.5zM652 776h1.5v1.5h-1.5zM662 761h1.5v1.5h-1.5zM634 778h1.5v1.5h-1.5zM615 729h1.5v1.5h-1.5zM613 787h1.5v1.5h-1.5zM622 782h1.5v1.5h-1.5zM657 786h1.5v1.5h-1.5zM647 784h1.5v1.5h-1.5zM624 719h1.5v1.5h-1.5zM637 786h1.5v1.5h-1.5zM609 734h1.5v1.5h-1.5zM616 700h1.5v1.5h-1.5zM643 717h1.5v1.5h-1.5zM634 774h1.5v1.5h-1.5zM646 695h1.5v1.5h-1.5zM612 745h1.5v1.5h-1.5zM609 740h1.5v1.5h-1.5zM618 722h1.5v1.5h-1.5zM620 721h1.5v1.5h-1.5zM601 741h1.5v1.5h-1.5zM605 759h1.5v1.5h-1.5zM611 764h1.5v1.5h-1.5zM624 775h1.5v1.5h-1.5zM604 751h1.5v1.5h-1.5zM625 780h1.5v1.5h-1.5zM649 720h1.5v1.5h-1.5zM608 733h1.5v1.5h-1.5zM617 723h1.5v1.5h-1.5zM616 724h1.5v1.5h-1.5zM642 780h1.5v1.5h-1.5zM668 764h1.5v1.5h-1.5zM606 759h1.5v1.5h-1.5zM604 739h1.5v1.5h-1.5zM618 775h1.5v1.5h-1.5zM642 718h1.5v1.5h-1.5zM652 771h1.5v1.5h-1.5zM643 776h1.5v1.5h-1.5zM616 770h1.5v1.5h-1.5zM615 697h1.5v1.5h-1.5zM650 773h1.5v1.5h-1.5zM656 758h1.5v1.5h-1.5zM664 738h1.5v1.5h-1.5zM622 707h1.5v1.5h-1.5zM657 751h1.5v1.5h-1.5zM630 778h1.5v1.5h-1.5zM650 766h1.5v1.5h-1.5zM665 756h1.5v1.5h-1.5zM669 744h1.5v1.5h-1.5zM662 747h1.5v1.5h-1.5zM654 698h1.5v1.5h-1.5zM643 714h1.5v1.5h-1.5zM627 717h1.5v1.5h-1.5zM642 779h1.5v1.5h-1.5zM628 782h1.5v1.5h-1.5zM634 779h1.5v1.5h-1.5zM620 705h1.5v1.5h-1.5zM673 744h1.5v1.5h-1.5zM652 727h1.5v1.5h-1.5zM631 781h1.5v1.5h-1.5zM661 770h1.5v1.5h-1.5zM669 730h1.5v1.5h-1.5zM637 716h1.5v1.5h-1.5zM607 757h1.5v1.5h-1.5zM638 779h1.5v1.5h-1.5zM606 752h1.5v1.5h-1.5zM667 758h1.5v1.5h-1.5zM649 724h1.5v1.5h-1.5zM661 740h1.5v1.5h-1.5zM652 778h1.5v1.5h-1.5zM622 724h1.5v1.5h-1.5zM613 768h1.5v1.5h-1.5zM635 785h1.5v1.5h-1.5zM650 770h1.5v1.5h-1.5zM659 751h1.5v1.5h-1.5zM651 769h1.5v1.5h-1.5zM631 713h1.5v1.5h-1.5zM638 715h1.5v1.5h-1.5zM612 756h1.5v1.5h-1.5zM654 780h1.5v1.5h-1.5zM654 764h1.5v1.5h-1.5zM612 772h1.5v1.5h-1.5zM656 763h1.5v1.5h-1.5zM612 729h1.5v1.5h-1.5zM622 784h1.5v1.5h-1.5zM634 721h1.5v1.5h-1.5zM602 749h1.5v1.5h-1.5zM598 722h1.5v1.5h-1.5zM652 768h1.5v1.5h-1.5zM613 775h1.5v1.5h-1.5zM661 751h1.5v1.5h-1.5zM668 755h1.5v1.5h-1.5zM609 748h1.5v1.5h-1.5zM662 767h1.5v1.5h-1.5zM606 747h1.5v1.5h-1.5zM605 740h1.5v1.5h-1.5zM663 761h1.5v1.5h-1.5zM649 719h1.5v1.5h-1.5zM613 729h1.5v1.5h-1.5zM634 708h1.5v1.5h-1.5zM657 737h1.5v1.5h-1.5zM630 717h1.5v1.5h-1.5zM656 724h1.5v1.5h-1.5zM643 719h1.5v1.5h-1.5zM661 766h1.5v1.5h-1.5zM604 747h1.5v1.5h-1.5zM610 731h1.5v1.5h-1.5zM598 745h1.5v1.5h-1.5zM656 710h1.5v1.5h-1.5zM619 782h1.5v1.5h-1.5zM631 779h1.5v1.5h-1.5zM645 769h1.5v1.5h-1.5zM617 787h1.5v1.5h-1.5zM608 728h1.5v1.5h-1.5zM643 785h1.5v1.5h-1.5zM650 712h1.5v1.5h-1.5zM647 723h1.5v1.5h-1.5zM629 711h1.5v1.5h-1.5zM661 719h1.5v1.5h-1.5zM666 771h1.5v1.5h-1.5zM648 709h1.5v1.5h-1.5zM636 786h1.5v1.5h-1.5zM640 715h1.5v1.5h-1.5zM660 765h1.5v1.5h-1.5zM613 730h1.5v1.5h-1.5zM611 740h1.5v1.5h-1.5zM626 775h1.5v1.5h-1.5zM649 711h1.5v1.5h-1.5zM647 721h1.5v1.5h-1.5zM604 743h1.5v1.5h-1.5zM664 742h1.5v1.5h-1.5zM631 780h1.5v1.5h-1.5zM657 782h1.5v1.5h-1.5zM643 723h1.5v1.5h-1.5zM658 758h1.5v1.5h-1.5zM645 719h1.5v1.5h-1.5zM640 781h1.5v1.5h-1.5zM659 720h1.5v1.5h-1.5zM609 766h1.5v1.5h-1.5zM630 780h1.5v1.5h-1.5zM615 718h1.5v1.5h-1.5zM657 743h1.5v1.5h-1.5zM654 731h1.5v1.5h-1.5zM646 777h1.5v1.5h-1.5zM664 760h1.5v1.5h-1.5zM638 697h1.5v1.5h-1.5zM632 780h1.5v1.5h-1.5zM660 760h1.5v1.5h-1.5zM615 777h1.5v1.5h-1.5zM648 783h1.5v1.5h-1.5zM670 752h1.5v1.5h-1.5zM609 737h1.5v1.5h-1.5zM609 750h1.5v1.5h-1.5zM655 763h1.5v1.5h-1.5zM654 734h1.5v1.5h-1.5zM625 705h1.5v1.5h-1.5zM615 730h1.5v1.5h-1.5zM651 709h1.5v1.5h-1.5zM607 774h1.5v1.5h-1.5zM658 778h1.5v1.5h-1.5zM612 710h1.5v1.5h-1.5zM621 708h1.5v1.5h-1.5zM648 785h1.5v1.5h-1.5zM660 746h1.5v1.5h-1.5zM601 718h1.5v1.5h-1.5zM665 734h1.5v1.5h-1.5zM636 781h1.5v1.5h-1.5zM626 715h1.5v1.5h-1.5zM613 758h1.5v1.5h-1.5zM655 767h1.5v1.5h-1.5zM629 700h1.5v1.5h-1.5zM613 740h1.5v1.5h-1.5zM651 720h1.5v1.5h-1.5zM660 735h1.5v1.5h-1.5zM605 735h1.5v1.5h-1.5zM609 730h1.5v1.5h-1.5zM648 774h1.5v1.5h-1.5zM654 764h1.5v1.5h-1.5zM630 707h1.5v1.5h-1.5zM637 787h1.5v1.5h-1.5zM616 773h1.5v1.5h-1.5zM630 777h1.5v1.5h-1.5zM624 781h1.5v1.5h-1.5zM615 771h1.5v1.5h-1.5zM634 778h1.5v1.5h-1.5zM621 712h1.5v1.5h-1.5zM608 728h1.5v1.5h-1.5zM648 714h1.5v1.5h-1.5zM655 723h1.5v1.5h-1.5zM653 732h1.5v1.5h-1.5zM639 710h1.5v1.5h-1.5zM648 771h1.5v1.5h-1.5zM604 764h1.5v1.5h-1.5zM658 728h1.5v1.5h-1.5zM613 769h1.5v1.5h-1.5zM656 718h1.5v1.5h-1.5zM606 743h1.5v1.5h-1.5zM639 708h1.5v1.5h-1.5zM609 733h1.5v1.5h-1.5zM612 726h1.5v1.5h-1.5zM626 712h1.5v1.5h-1.5zM664 751h1.5v1.5h-1.5zM628 791h1.5v1.5h-1.5zM656 776h1.5v1.5h-1.5zM646 720h1.5v1.5h-1.5zM641 777h1.5v1.5h-1.5zM634 707h1.5v1.5h-1.5zM624 774h1.5v1.5h-1.5zM648 724h1.5v1.5h-1.5zM652 711h1.5v1.5h-1.5zM654 733h1.5v1.5h-1.5zM614 719h1.5v1.5h-1.5zM615 772h1.5v1.5h-1.5zM618 780h1.5v1.5h-1.5zM633 715h1.5v1.5h-1.5zM614 732h1.5v1.5h-1.5zM618 722h1.5v1.5h-1.5zM639 718h1.5v1.5h-1.5zM641 724h1.5v1.5h-1.5zM617 718h1.5v1.5h-1.5zM606 752h1.5v1.5h-1.5zM611 768h1.5v1.5h-1.5zM608 776h1.5v1.5h-1.5zM627 779h1.5v1.5h-1.5zM649 727h1.5v1.5h-1.5zM654 729h1.5v1.5h-1.5zM648 701h1.5v1.5h-1.5zM617 715h1.5v1.5h-1.5zM657 755h1.5v1.5h-1.5zM637 787h1.5v1.5h-1.5zM655 730h1.5v1.5h-1.5zM659 718h1.5v1.5h-1.5zM653 768h1.5v1.5h-1.5zM622 717h1.5v1.5h-1.5zM604 754h1.5v1.5h-1.5zM649 728h1.5v1.5h-1.5zM617 767h1.5v1.5h-1.5zM640 779h1.5v1.5h-1.5zM658 727h1.5v1.5h-1.5zM615 721h1.5v1.5h-1.5zM634 714h1.5v1.5h-1.5zM659 764h1.5v1.5h-1.5zM610 775h1.5v1.5h-1.5zM614 773h1.5v1.5h-1.5zM621 716h1.5v1.5h-1.5zM626 716h1.5v1.5h-1.5zM649 777h1.5v1.5h-1.5zM626 775h1.5v1.5h-1.5zM668 748h1.5v1.5h-1.5zM619 777h1.5v1.5h-1.5zM637 779h1.5v1.5h-1.5zM631 713h1.5v1.5h-1.5zM665 755h1.5v1.5h-1.5zM592 734h1.5v1.5h-1.5zM611 774h1.5v1.5h-1.5zM612 720h1.5v1.5h-1.5zM623 723h1.5v1.5h-1.5zM660 771h1.5v1.5h-1.5zM607 744h1.5v1.5h-1.5zM626 785h1.5v1.5h-1.5zM617 789h1.5v1.5h-1.5zM656 728h1.5v1.5h-1.5zM609 744h1.5v1.5h-1.5zM638 778h1.5v1.5h-1.5zM659 770h1.5v1.5h-1.5zM626 777h1.5v1.5h-1.5zM638 715h1.5v1.5h-1.5zM656 726h1.5v1.5h-1.5zM652 789h1.5v1.5h-1.5zM652 715h1.5v1.5h-1.5zM645 713h1.5v1.5h-1.5zM648 778h1.5v1.5h-1.5zM641 717h1.5v1.5h-1.5zM670 741h1.5v1.5h-1.5zM660 758h1.5v1.5h-1.5zM624 712h1.5v1.5h-1.5zM660 741h1.5v1.5h-1.5zM610 742h1.5v1.5h-1.5zM618 774h1.5v1.5h-1.5zM655 704h1.5v1.5h-1.5zM650 772h1.5v1.5h-1.5zM655 720h1.5v1.5h-1.5zM674 765h1.5v1.5h-1.5zM616 764h1.5v1.5h-1.5zM652 718h1.5v1.5h-1.5zM609 746h1.5v1.5h-1.5zM663 748h1.5v1.5h-1.5zM617 726h1.5v1.5h-1.5zM665 735h1.5v1.5h-1.5zM640 784h1.5v1.5h-1.5zM618 717h1.5v1.5h-1.5zM637 719h1.5v1.5h-1.5zM659 755h1.5v1.5h-1.5zM660 773h1.5v1.5h-1.5zM661 732h1.5v1.5h-1.5zM657 775h1.5v1.5h-1.5zM650 710h1.5v1.5h-1.5zM597 739h1.5v1.5h-1.5zM654 723h1.5v1.5h-1.5zM666 741h1.5v1.5h-1.5zM673 738h1.5v1.5h-1.5zM609 763h1.5v1.5h-1.5zM655 712h1.5v1.5h-1.5zM619 723h1.5v1.5h-1.5zM622 715h1.5v1.5h-1.5zM667 736h1.5v1.5h-1.5zM616 773h1.5v1.5h-1.5zM619 712h1.5v1.5h-1.5zM651 717h1.5v1.5h-1.5zM665 754h1.5v1.5h-1.5zM652 784h1.5v1.5h-1.5zM646 721h1.5v1.5h-1.5zM630 708h1.5v1.5h-1.5zM623 779h1.5v1.5h-1.5zM632 788h1.5v1.5h-1.5zM661 724h1.5v1.5h-1.5zM634 708h1.5v1.5h-1.5zM609 736h1.5v1.5h-1.5zM635 783h1.5v1.5h-1.5zM626 777h1.5v1.5h-1.5zM612 723h1.5v1.5h-1.5zM639 717h1.5v1.5h-1.5zM647 780h1.5v1.5h-1.5zM657 767h1.5v1.5h-1.5zM622 775h1.5v1.5h-1.5zM667 742h1.5v1.5h-1.5zM616 788h1.5v1.5h-1.5zM614 772h1.5v1.5h-1.5zM649 781h1.5v1.5h-1.5zM609 763h1.5v1.5h-1.5zM638 694h1.5v1.5h-1.5zM635 713h1.5v1.5h-1.5zM659 756h1.5v1.5h-1.5zM614 732h1.5v1.5h-1.5zM609 762h1.5v1.5h-1.5zM627 710h1.5v1.5h-1.5zM652 768h1.5v1.5h-1.5zM605 762h1.5v1.5h-1.5zM607 750h1.5v1.5h-1.5zM605 736h1.5v1.5h-1.5zM618 709h1.5v1.5h-1.5zM618 779h1.5v1.5h-1.5zM639 775h1.5v1.5h-1.5zM668 746h1.5v1.5h-1.5zM628 778h1.5v1.5h-1.5zM620 782h1.5v1.5h-1.5zM611 724h1.5v1.5h-1.5zM610 733h1.5v1.5h-1.5zM635 778h1.5v1.5h-1.5zM597 759h1.5v1.5h-1.5zM610 738h1.5v1.5h-1.5zM655 780h1.5v1.5h-1.5zM654 728h1.5v1.5h-1.5zM656 752h1.5v1.5h-1.5zM607 722h1.5v1.5h-1.5zM605 752h1.5v1.5h-1.5zM636 777h1.5v1.5h-1.5zM616 714h1.5v1.5h-1.5zM607 744h1.5v1.5h-1.5zM662 734h1.5v1.5h-1.5zM615 779h1.5v1.5h-1.5zM657 760h1.5v1.5h-1.5zM608 783h1.5v1.5h-1.5zM662 757h1.5v1.5h-1.5zM650 712h1.5v1.5h-1.5zM609 736h1.5v1.5h-1.5zM648 714h1.5v1.5h-1.5zM604 750h1.5v1.5h-1.5zM650 770h1.5v1.5h-1.5zM655 767h1.5v1.5h-1.5zM604 753h1.5v1.5h-1.5zM647 719h1.5v1.5h-1.5zM619 725h1.5v1.5h-1.5zM657 759h1.5v1.5h-1.5zM613 735h1.5v1.5h-1.5zM622 718h1.5v1.5h-1.5zM655 722h1.5v1.5h-1.5zM610 728h1.5v1.5h-1.5zM631 786h1.5v1.5h-1.5zM607 756h1.5v1.5h-1.5zM643 775h1.5v1.5h-1.5zM613 760h1.5v1.5h-1.5zM658 753h1.5v1.5h-1.5zM654 767h1.5v1.5h-1.5zM659 722h1.5v1.5h-1.5zM610 742h1.5v1.5h-1.5zM642 717h1.5v1.5h-1.5zM611 731h1.5v1.5h-1.5zM653 721h1.5v1.5h-1.5zM628 715h1.5v1.5h-1.5zM659 774h1.5v1.5h-1.5zM617 776h1.5v1.5h-1.5zM632 780h1.5v1.5h-1.5zM640 710h1.5v1.5h-1.5zM624 778h1.5v1.5h-1.5zM630 711h1.5v1.5h-1.5zM625 712h1.5v1.5h-1.5zM613 766h1.5v1.5h-1.5zM652 782h1.5v1.5h-1.5zM664 768h1.5v1.5h-1.5zM639 777h1.5v1.5h-1.5zM609 772h1.5v1.5h-1.5zM628 788h1.5v1.5h-1.5zM612 745h1.5v1.5h-1.5zM640 712h1.5v1.5h-1.5zM632 713h1.5v1.5h-1.5zM625 782h1.5v1.5h-1.5zM655 764h1.5v1.5h-1.5zM645 705h1.5v1.5h-1.5zM625 710h1.5v1.5h-1.5zM633 716h1.5v1.5h-1.5zM613 731h1.5v1.5h-1.5zM665 766h1.5v1.5h-1.5zM625 778h1.5v1.5h-1.5zM659 751h1.5v1.5h-1.5zM650 716h1.5v1.5h-1.5zM605 752h1.5v1.5h-1.5zM619 701h1.5v1.5h-1.5zM658 771h1.5v1.5h-1.5zM636 708h1.5v1.5h-1.5zM646 725h1.5v1.5h-1.5zM656 732h1.5v1.5h-1.5zM639 719h1.5v1.5h-1.5zM604 748h1.5v1.5h-1.5zM619 700h1.5v1.5h-1.5zM661 748h1.5v1.5h-1.5zM605 752h1.5v1.5h-1.5zM625 722h1.5v1.5h-1.5zM630 776h1.5v1.5h-1.5zM654 767h1.5v1.5h-1.5zM611 761h1.5v1.5h-1.5zM643 721h1.5v1.5h-1.5zM660 746h1.5v1.5h-1.5zM621 788h1.5v1.5h-1.5zM614 765h1.5v1.5h-1.5zM654 765h1.5v1.5h-1.5zM643 786h1.5v1.5h-1.5zM612 779h1.5v1.5h-1.5zM631 712h1.5v1.5h-1.5zM655 781h1.5v1.5h-1.5zM617 778h1.5v1.5h-1.5zM647 775h1.5v1.5h-1.5zM630 776h1.5v1.5h-1.5zM653 720h1.5v1.5h-1.5zM623 720h1.5v1.5h-1.5zM656 765h1.5v1.5h-1.5zM637 714h1.5v1.5h-1.5zM657 722h1.5v1.5h-1.5zM628 778h1.5v1.5h-1.5zM622 720h1.5v1.5h-1.5zM602 753h1.5v1.5h-1.5zM664 739h1.5v1.5h-1.5zM608 724h1.5v1.5h-1.5zM617 723h1.5v1.5h-1.5zM608 738h1.5v1.5h-1.5zM628 779h1.5v1.5h-1.5zM651 723h1.5v1.5h-1.5zM656 737h1.5v1.5h-1.5zM613 761h1.5v1.5h-1.5zM613 762h1.5v1.5h-1.5zM645 771h1.5v1.5h-1.5zM611 765h1.5v1.5h-1.5zM654 729h1.5v1.5h-1.5zM644 709h1.5v1.5h-1.5zM647 775h1.5v1.5h-1.5zM615 724h1.5v1.5h-1.5zM660 758h1.5v1.5h-1.5zM628 714h1.5v1.5h-1.5zM651 776h1.5v1.5h-1.5zM666 747h1.5v1.5h-1.5zM615 785h1.5v1.5h-1.5zM658 762h1.5v1.5h-1.5zM634 784h1.5v1.5h-1.5zM632 709h1.5v1.5h-1.5zM663 743h1.5v1.5h-1.5zM625 782h1.5v1.5h-1.5zM607 745h1.5v1.5h-1.5zM643 787h1.5v1.5h-1.5zM631 787h1.5v1.5h-1.5zM662 732h1.5v1.5h-1.5zM660 761h1.5v1.5h-1.5zM640 779h1.5v1.5h-1.5zM615 781h1.5v1.5h-1.5zM606 750h1.5v1.5h-1.5zM643 780h1.5v1.5h-1.5zM626 784h1.5v1.5h-1.5zM612 777h1.5v1.5h-1.5zM662 749h1.5v1.5h-1.5zM634 776h1.5v1.5h-1.5zM608 742h1.5v1.5h-1.5zM615 726h1.5v1.5h-1.5zM653 726h1.5v1.5h-1.5zM648 715h1.5v1.5h-1.5zM628 719h1.5v1.5h-1.5zM657 736h1.5v1.5h-1.5zM661 722h1.5v1.5h-1.5zM626 717h1.5v1.5h-1.5zM630 773h1.5v1.5h-1.5zM652 765h1.5v1.5h-1.5zM634 785h1.5v1.5h-1.5zM634 714h1.5v1.5h-1.5zM605 753h1.5v1.5h-1.5zM659 747h1.5v1.5h-1.5zM622 778h1.5v1.5h-1.5zM605 762h1.5v1.5h-1.5zM613 736h1.5v1.5h-1.5zM657 740h1.5v1.5h-1.5zM629 703h1.5v1.5h-1.5zM626 778h1.5v1.5h-1.5zM657 712h1.5v1.5h-1.5zM604 734h1.5v1.5h-1.5zM651 778h1.5v1.5h-1.5zM610 733h1.5v1.5h-1.5zM666 771h1.5v1.5h-1.5zM644 709h1.5v1.5h-1.5zM619 704h1.5v1.5h-1.5zM630 714h1.5v1.5h-1.5zM655 758h1.5v1.5h-1.5zM655 719h1.5v1.5h-1.5zM620 723h1.5v1.5h-1.5zM626 782h1.5v1.5h-1.5zM650 777h1.5v1.5h-1.5zM611 768h1.5v1.5h-1.5zM611 745h1.5v1.5h-1.5zM656 762h1.5v1.5h-1.5zM611 769h1.5v1.5h-1.5zM660 761h1.5v1.5h-1.5zM663 728h1.5v1.5h-1.5zM623 776h1.5v1.5h-1.5zM623 787h1.5v1.5h-1.5zM651 771h1.5v1.5h-1.5zM646 784h1.5v1.5h-1.5zM650 725h1.5v1.5h-1.5zM610 757h1.5v1.5h-1.5zM632 711h1.5v1.5h-1.5zM665 752h1.5v1.5h-1.5zM629 774h1.5v1.5h-1.5zM656 756h1.5v1.5h-1.5zM648 718h1.5v1.5h-1.5zM665 742h1.5v1.5h-1.5zM652 720h1.5v1.5h-1.5zM656 734h1.5v1.5h-1.5zM616 774h1.5v1.5h-1.5zM669 739h1.5v1.5h-1.5zM660 720h1.5v1.5h-1.5zM612 739h1.5v1.5h-1.5zM656 769h1.5v1.5h-1.5zM613 726h1.5v1.5h-1.5zM612 737h1.5v1.5h-1.5zM650 724h1.5v1.5h-1.5zM600 741h1.5v1.5h-1.5zM657 734h1.5v1.5h-1.5zM629 700h1.5v1.5h-1.5zM610 769h1.5v1.5h-1.5zM658 767h1.5v1.5h-1.5zM624 711h1.5v1.5h-1.5zM614 727h1.5v1.5h-1.5zM650 721h1.5v1.5h-1.5zM637 717h1.5v1.5h-1.5zM609 762h1.5v1.5h-1.5zM660 733h1.5v1.5h-1.5zM609 749h1.5v1.5h-1.5zM663 755h1.5v1.5h-1.5zM620 782h1.5v1.5h-1.5zM654 721h1.5v1.5h-1.5zM611 758h1.5v1.5h-1.5zM615 763h1.5v1.5h-1.5zM609 744h1.5v1.5h-1.5zM625 780h1.5v1.5h-1.5zM650 768h1.5v1.5h-1.5zM610 764h1.5v1.5h-1.5zM613 730h1.5v1.5h-1.5zM627 717h1.5v1.5h-1.5zM629 715h1.5v1.5h-1.5zM607 744h1.5v1.5h-1.5zM604 742h1.5v1.5h-1.5zM659 726h1.5v1.5h-1.5zM649 773h1.5v1.5h-1.5zM623 780h1.5v1.5h-1.5zM616 725h1.5v1.5h-1.5zM631 788h1.5v1.5h-1.5zM598 735h1.5v1.5h-1.5zM602 753h1.5v1.5h-1.5zM648 715h1.5v1.5h-1.5zM614 709h1.5v1.5h-1.5zM624 788h1.5v1.5h-1.5zM612 762h1.5v1.5h-1.5zM609 725h1.5v1.5h-1.5zM597 761h1.5v1.5h-1.5zM616 771h1.5v1.5h-1.5zM608 764h1.5v1.5h-1.5zM627 785h1.5v1.5h-1.5zM625 717h1.5v1.5h-1.5zM664 744h1.5v1.5h-1.5zM660 732h1.5v1.5h-1.5zM654 774h1.5v1.5h-1.5zM645 778h1.5v1.5h-1.5zM658 743h1.5v1.5h-1.5zM650 716h1.5v1.5h-1.5zM612 764h1.5v1.5h-1.5zM641 778h1.5v1.5h-1.5zM624 783h1.5v1.5h-1.5zM621 769h1.5v1.5h-1.5zM661 752h1.5v1.5h-1.5zM662 725h1.5v1.5h-1.5zM599 750h1.5v1.5h-1.5zM650 718h1.5v1.5h-1.5zM641 782h1.5v1.5h-1.5zM663 719h1.5v1.5h-1.5zM657 742h1.5v1.5h-1.5zM608 732h1.5v1.5h-1.5zM636 716h1.5v1.5h-1.5zM653 733h1.5v1.5h-1.5zM654 720h1.5v1.5h-1.5zM622 711h1.5v1.5h-1.5zM612 743h1.5v1.5h-1.5zM624 717h1.5v1.5h-1.5zM610 742h1.5v1.5h-1.5zM612 730h1.5v1.5h-1.5zM629 782h1.5v1.5h-1.5zM654 771h1.5v1.5h-1.5zM611 746h1.5v1.5h-1.5zM658 761h1.5v1.5h-1.5zM609 759h1.5v1.5h-1.5zM604 722h1.5v1.5h-1.5zM613 702h1.5v1.5h-1.5zM602 755h1.5v1.5h-1.5zM638 788h1.5v1.5h-1.5zM612 722h1.5v1.5h-1.5zM643 706h1.5v1.5h-1.5zM663 753h1.5v1.5h-1.5zM636 717h1.5v1.5h-1.5zM641 708h1.5v1.5h-1.5zM608 767h1.5v1.5h-1.5zM622 770h1.5v1.5h-1.5zM642 704h1.5v1.5h-1.5zM624 723h1.5v1.5h-1.5zM605 727h1.5v1.5h-1.5zM647 722h1.5v1.5h-1.5zM666 765h1.5v1.5h-1.5zM604 748h1.5v1.5h-1.5zM646 708h1.5v1.5h-1.5zM649 771h1.5v1.5h-1.5zM613 768h1.5v1.5h-1.5zM609 731h1.5v1.5h-1.5zM674 729h1.5v1.5h-1.5zM653 769h1.5v1.5h-1.5zM650 721h1.5v1.5h-1.5zM606 738h1.5v1.5h-1.5zM661 730h1.5v1.5h-1.5zM628 718h1.5v1.5h-1.5zM667 743h1.5v1.5h-1.5zM639 714h1.5v1.5h-1.5zM647 781h1.5v1.5h-1.5zM642 774h1.5v1.5h-1.5zM649 721h1.5v1.5h-1.5zM627 712h1.5v1.5h-1.5zM620 771h1.5v1.5h-1.5zM600 740h1.5v1.5h-1.5zM643 710h1.5v1.5h-1.5zM652 733h1.5v1.5h-1.5zM611 752h1.5v1.5h-1.5zM659 745h1.5v1.5h-1.5zM609 745h1.5v1.5h-1.5zM644 772h1.5v1.5h-1.5zM609 757h1.5v1.5h-1.5zM644 710h1.5v1.5h-1.5zM665 769h1.5v1.5h-1.5zM664 744h1.5v1.5h-1.5zM616 718h1.5v1.5h-1.5zM648 777h1.5v1.5h-1.5zM598 740h1.5v1.5h-1.5zM605 757h1.5v1.5h-1.5zM609 753h1.5v1.5h-1.5zM604 764h1.5v1.5h-1.5zM623 771h1.5v1.5h-1.5zM614 730h1.5v1.5h-1.5zM607 735h1.5v1.5h-1.5zM660 748h1.5v1.5h-1.5zM629 777h1.5v1.5h-1.5zM660 771h1.5v1.5h-1.5zM609 711h1.5v1.5h-1.5zM664 738h1.5v1.5h-1.5zM625 791h1.5v1.5h-1.5zM613 771h1.5v1.5h-1.5zM658 735h1.5v1.5h-1.5zM616 730h1.5v1.5h-1.5zM648 768h1.5v1.5h-1.5zM627 705h1.5v1.5h-1.5zM615 735h1.5v1.5h-1.5zM620 722h1.5v1.5h-1.5zM657 735h1.5v1.5h-1.5zM646 721h1.5v1.5h-1.5zM657 737h1.5v1.5h-1.5zM607 732h1.5v1.5h-1.5zM615 720h1.5v1.5h-1.5zM609 738h1.5v1.5h-1.5zM619 722h1.5v1.5h-1.5zM617 776h1.5v1.5h-1.5zM632 715h1.5v1.5h-1.5zM621 784h1.5v1.5h-1.5zM666 757h1.5v1.5h-1.5zM667 757h1.5v1.5h-1.5zM622 713h1.5v1.5h-1.5zM612 734h1.5v1.5h-1.5zM627 718h1.5v1.5h-1.5zM640 718h1.5v1.5h-1.5zM613 728h1.5v1.5h-1.5zM639 774h1.5v1.5h-1.5zM646 707h1.5v1.5h-1.5zM600 726h1.5v1.5h-1.5zM648 773h1.5v1.5h-1.5zM600 732h1.5v1.5h-1.5zM658 750h1.5v1.5h-1.5zM620 720h1.5v1.5h-1.5zM640 719h1.5v1.5h-1.5zM599 743h1.5v1.5h-1.5zM613 722h1.5v1.5h-1.5zM618 725h1.5v1.5h-1.5zM619 767h1.5v1.5h-1.5zM636 776h1.5v1.5h-1.5zM609 755h1.5v1.5h-1.5zM641 720h1.5v1.5h-1.5zM652 788h1.5v1.5h-1.5zM656 772h1.5v1.5h-1.5zM608 781h1.5v1.5h-1.5zM608 752h1.5v1.5h-1.5zM616 770h1.5v1.5h-1.5zM615 723h1.5v1.5h-1.5zM610 757h1.5v1.5h-1.5zM640 710h1.5v1.5h-1.5zM651 789h1.5v1.5h-1.5zM649 720h1.5v1.5h-1.5zM654 755h1.5v1.5h-1.5zM664 756h1.5v1.5h-1.5zM600 762h1.5v1.5h-1.5zM655 750h1.5v1.5h-1.5zM619 721h1.5v1.5h-1.5zM611 752h1.5v1.5h-1.5zM653 724h1.5v1.5h-1.5zM619 779h1.5v1.5h-1.5zM596 731h1.5v1.5h-1.5zM660 769h1.5v1.5h-1.5zM621 715h1.5v1.5h-1.5zM615 774h1.5v1.5h-1.5zM662 762h1.5v1.5h-1.5zM613 732h1.5v1.5h-1.5zM635 717h1.5v1.5h-1.5zM630 788h1.5v1.5h-1.5zM607 749h1.5v1.5h-1.5zM601 741h1.5v1.5h-1.5zM644 706h1.5v1.5h-1.5zM652 729h1.5v1.5h-1.5zM659 728h1.5v1.5h-1.5zM622 716h1.5v1.5h-1.5zM606 744h1.5v1.5h-1.5zM650 771h1.5v1.5h-1.5zM620 725h1.5v1.5h-1.5zM618 773h1.5v1.5h-1.5zM649 717h1.5v1.5h-1.5zM649 769h1.5v1.5h-1.5zM665 739h1.5v1.5h-1.5zM618 776h1.5v1.5h-1.5zM644 775h1.5v1.5h-1.5zM613 772h1.5v1.5h-1.5zM624 781h1.5v1.5h-1.5zM630 782h1.5v1.5h-1.5zM610 733h1.5v1.5h-1.5zM623 713h1.5v1.5h-1.5zM605 760h1.5v1.5h-1.5zM616 722h1.5v1.5h-1.5zM657 751h1.5v1.5h-1.5zM621 715h1.5v1.5h-1.5zM616 776h1.5v1.5h-1.5zM626 784h1.5v1.5h-1.5zM658 714h1.5v1.5h-1.5zM671 740h1.5v1.5h-1.5zM660 768h1.5v1.5h-1.5zM651 726h1.5v1.5h-1.5zM653 766h1.5v1.5h-1.5zM605 768h1.5v1.5h-1.5zM643 779h1.5v1.5h-1.5zM603 756h1.5v1.5h-1.5zM630 789h1.5v1.5h-1.5zM652 729h1.5v1.5h-1.5zM626 720h1.5v1.5h-1.5zM675 768h1.5v1.5h-1.5zM605 730h1.5v1.5h-1.5zM648 721h1.5v1.5h-1.5zM658 782h1.5v1.5h-1.5zM624 717h1.5v1.5h-1.5zM662 750h1.5v1.5h-1.5zM606 751h1.5v1.5h-1.5zM640 781h1.5v1.5h-1.5zM657 763h1.5v1.5h-1.5zM620 767h1.5v1.5h-1.5zM613 730h1.5v1.5h-1.5zM644 722h1.5v1.5h-1.5zM625 717h1.5v1.5h-1.5zM637 721h1.5v1.5h-1.5zM604 744h1.5v1.5h-1.5zM634 787h1.5v1.5h-1.5zM666 729h1.5v1.5h-1.5zM644 777h1.5v1.5h-1.5zM668 733h1.5v1.5h-1.5zM609 746h1.5v1.5h-1.5zM614 733h1.5v1.5h-1.5zM647 773h1.5v1.5h-1.5zM657 768h1.5v1.5h-1.5zM628 709h1.5v1.5h-1.5zM646 781h1.5v1.5h-1.5zM640 776h1.5v1.5h-1.5zM666 740h1.5v1.5h-1.5zM650 790h1.5v1.5h-1.5zM609 753h1.5v1.5h-1.5zM659 764h1.5v1.5h-1.5zM657 733h1.5v1.5h-1.5zM663 742h1.5v1.5h-1.5zM646 721h1.5v1.5h-1.5zM605 771h1.5v1.5h-1.5zM610 767h1.5v1.5h-1.5zM632 780h1.5v1.5h-1.5zM651 772h1.5v1.5h-1.5zM659 743h1.5v1.5h-1.5zM637 711h1.5v1.5h-1.5zM619 715h1.5v1.5h-1.5zM601 735h1.5v1.5h-1.5zM607 762h1.5v1.5h-1.5zM619 714h1.5v1.5h-1.5zM649 721h1.5v1.5h-1.5zM601 746h1.5v1.5h-1.5zM618 790h1.5v1.5h-1.5zM651 719h1.5v1.5h-1.5zM621 774h1.5v1.5h-1.5zM618 775h1.5v1.5h-1.5zM607 724h1.5v1.5h-1.5zM626 774h1.5v1.5h-1.5zM651 718h1.5v1.5h-1.5zM613 764h1.5v1.5h-1.5zM654 763h1.5v1.5h-1.5zM621 770h1.5v1.5h-1.5zM600 765h1.5v1.5h-1.5zM599 737h1.5v1.5h-1.5zM662 746h1.5v1.5h-1.5zM656 761h1.5v1.5h-1.5zM613 714h1.5v1.5h-1.5zM607 756h1.5v1.5h-1.5zM658 750h1.5v1.5h-1.5zM658 738h1.5v1.5h-1.5zM605 730h1.5v1.5h-1.5zM607 763h1.5v1.5h-1.5zM631 786h1.5v1.5h-1.5zM654 768h1.5v1.5h-1.5zM659 754h1.5v1.5h-1.5zM616 713h1.5v1.5h-1.5zM611 770h1.5v1.5h-1.5zM629 708h1.5v1.5h-1.5zM630 711h1.5v1.5h-1.5zM669 730h1.5v1.5h-1.5zM638 786h1.5v1.5h-1.5zM610 771h1.5v1.5h-1.5zM632 776h1.5v1.5h-1.5zM613 770h1.5v1.5h-1.5zM664 737h1.5v1.5h-1.5zM614 775h1.5v1.5h-1.5zM615 726h1.5v1.5h-1.5zM649 710h1.5v1.5h-1.5zM634 789h1.5v1.5h-1.5zM657 724h1.5v1.5h-1.5zM650 730h1.5v1.5h-1.5zM647 718h1.5v1.5h-1.5zM648 710h1.5v1.5h-1.5zM612 780h1.5v1.5h-1.5zM666 754h1.5v1.5h-1.5zM617 724h1.5v1.5h-1.5zM598 743h1.5v1.5h-1.5zM610 750h1.5v1.5h-1.5zM645 707h1.5v1.5h-1.5zM646 787h1.5v1.5h-1.5zM661 736h1.5v1.5h-1.5zM605 713h1.5v1.5h-1.5zM649 784h1.5v1.5h-1.5zM633 783h1.5v1.5h-1.5zM626 719h1.5v1.5h-1.5zM610 756h1.5v1.5h-1.5zM652 720h1.5v1.5h-1.5zM604 745h1.5v1.5h-1.5zM626 790h1.5v1.5h-1.5zM613 765h1.5v1.5h-1.5zM608 755h1.5v1.5h-1.5zM633 720h1.5v1.5h-1.5zM641 775h1.5v1.5h-1.5zM632 777h1.5v1.5h-1.5zM609 772h1.5v1.5h-1.5zM652 767h1.5v1.5h-1.5zM652 722h1.5v1.5h-1.5zM650 723h1.5v1.5h-1.5zM634 781h1.5v1.5h-1.5zM639 695h1.5v1.5h-1.5zM660 757h1.5v1.5h-1.5zM598 767h1.5v1.5h-1.5zM626 718h1.5v1.5h-1.5zM648 783h1.5v1.5h-1.5zM628 781h1.5v1.5h-1.5zM601 740h1.5v1.5h-1.5zM653 761h1.5v1.5h-1.5zM623 719h1.5v1.5h-1.5zM603 724h1.5v1.5h-1.5zM645 718h1.5v1.5h-1.5zM657 741h1.5v1.5h-1.5zM657 740h1.5v1.5h-1.5zM618 723h1.5v1.5h-1.5zM660 762h1.5v1.5h-1.5zM659 740h1.5v1.5h-1.5zM654 717h1.5v1.5h-1.5zM616 713h1.5v1.5h-1.5zM636 713h1.5v1.5h-1.5zM611 758h1.5v1.5h-1.5zM638 782h1.5v1.5h-1.5zM656 776h1.5v1.5h-1.5zM657 756h1.5v1.5h-1.5zM654 766h1.5v1.5h-1.5zM616 769h1.5v1.5h-1.5zM634 785h1.5v1.5h-1.5zM659 771h1.5v1.5h-1.5zM655 768h1.5v1.5h-1.5zM668 736h1.5v1.5h-1.5zM612 721h1.5v1.5h-1.5zM608 772h1.5v1.5h-1.5zM603 763h1.5v1.5h-1.5zM606 755h1.5v1.5h-1.5zM651 780h1.5v1.5h-1.5zM631 718h1.5v1.5h-1.5zM630 709h1.5v1.5h-1.5zM602 749h1.5v1.5h-1.5zM621 717h1.5v1.5h-1.5zM606 766h1.5v1.5h-1.5zM658 720h1.5v1.5h-1.5zM656 730h1.5v1.5h-1.5zM668 735h1.5v1.5h-1.5zM629 715h1.5v1.5h-1.5zM628 783h1.5v1.5h-1.5zM654 772h1.5v1.5h-1.5zM661 747h1.5v1.5h-1.5zM670 760h1.5v1.5h-1.5zM647 718h1.5v1.5h-1.5zM664 763h1.5v1.5h-1.5zM632 781h1.5v1.5h-1.5zM601 741h1.5v1.5h-1.5zM662 731h1.5v1.5h-1.5zM656 739h1.5v1.5h-1.5zM655 720h1.5v1.5h-1.5zM627 784h1.5v1.5h-1.5zM652 717h1.5v1.5h-1.5zM643 716h1.5v1.5h-1.5zM663 765h1.5v1.5h-1.5zM652 777h1.5v1.5h-1.5zM636 777h1.5v1.5h-1.5zM651 719h1.5v1.5h-1.5zM657 754h1.5v1.5h-1.5zM666 775h1.5v1.5h-1.5zM652 782h1.5v1.5h-1.5zM662 725h1.5v1.5h-1.5zM626 713h1.5v1.5h-1.5zM620 713h1.5v1.5h-1.5zM633 717h1.5v1.5h-1.5zM661 727h1.5v1.5h-1.5zM643 787h1.5v1.5h-1.5zM659 720h1.5v1.5h-1.5zM642 773h1.5v1.5h-1.5zM635 710h1.5v1.5h-1.5zM629 781h1.5v1.5h-1.5zM617 730h1.5v1.5h-1.5zM669 782h1.5v1.5h-1.5zM617 725h1.5v1.5h-1.5zM626 776h1.5v1.5h-1.5zM660 740h1.5v1.5h-1.5zM621 772h1.5v1.5h-1.5zM626 707h1.5v1.5h-1.5zM616 784h1.5v1.5h-1.5zM628 716h1.5v1.5h-1.5zM660 759h1.5v1.5h-1.5zM608 741h1.5v1.5h-1.5zM617 764h1.5v1.5h-1.5zM654 733h1.5v1.5h-1.5zM646 719h1.5v1.5h-1.5zM627 715h1.5v1.5h-1.5zM642 790h1.5v1.5h-1.5zM652 769h1.5v1.5h-1.5zM662 747h1.5v1.5h-1.5zM643 715h1.5v1.5h-1.5zM656 728h1.5v1.5h-1.5zM606 730h1.5v1.5h-1.5zM641 704h1.5v1.5h-1.5zM607 758h1.5v1.5h-1.5zM606 770h1.5v1.5h-1.5zM597 735h1.5v1.5h-1.5zM655 715h1.5v1.5h-1.5zM639 718h1.5v1.5h-1.5zM659 755h1.5v1.5h-1.5zM657 750h1.5v1.5h-1.5zM600 761h1.5v1.5h-1.5zM605 775h1.5v1.5h-1.5zM633 779h1.5v1.5h-1.5zM634 780h1.5v1.5h-1.5zM613 766h1.5v1.5h-1.5zM656 759h1.5v1.5h-1.5zM613 764h1.5v1.5h-1.5zM642 776h1.5v1.5h-1.5zM609 749h1.5v1.5h-1.5zM617 763h1.5v1.5h-1.5zM616 704h1.5v1.5h-1.5zM641 718h1.5v1.5h-1.5zM651 720h1.5v1.5h-1.5zM615 770h1.5v1.5h-1.5zM660 755h1.5v1.5h-1.5zM662 737h1.5v1.5h-1.5zM633 713h1.5v1.5h-1.5zM625 719h1.5v1.5h-1.5zM602 750h1.5v1.5h-1.5zM625 709h1.5v1.5h-1.5zM639 720h1.5v1.5h-1.5zM625 708h1.5v1.5h-1.5zM660 735h1.5v1.5h-1.5zM654 734h1.5v1.5h-1.5zM616 726h1.5v1.5h-1.5zM613 779h1.5v1.5h-1.5zM606 735h1.5v1.5h-1.5zM663 763h1.5v1.5h-1.5zM632 779h1.5v1.5h-1.5zM641 771h1.5v1.5h-1.5zM624 713h1.5v1.5h-1.5zM656 732h1.5v1.5h-1.5zM623 721h1.5v1.5h-1.5zM635 714h1.5v1.5h-1.5zM606 759h1.5v1.5h-1.5zM597 772h1.5v1.5h-1.5zM642 714h1.5v1.5h-1.5zM623 772h1.5v1.5h-1.5zM655 737h1.5v1.5h-1.5zM606 728h1.5v1.5h-1.5zM612 717h1.5v1.5h-1.5zM618 770h1.5v1.5h-1.5zM636 787h1.5v1.5h-1.5zM615 782h1.5v1.5h-1.5zM644 777h1.5v1.5h-1.5zM615 758h1.5v1.5h-1.5zM613 759h1.5v1.5h-1.5zM620 785h1.5v1.5h-1.5zM648 725h1.5v1.5h-1.5zM643 785h1.5v1.5h-1.5zM613 788h1.5v1.5h-1.5zM614 725h1.5v1.5h-1.5zM664 737h1.5v1.5h-1.5zM661 745h1.5v1.5h-1.5zM662 754h1.5v1.5h-1.5zM637 708h1.5v1.5h-1.5zM646 782h1.5v1.5h-1.5zM607 735h1.5v1.5h-1.5zM647 721h1.5v1.5h-1.5zM629 773h1.5v1.5h-1.5zM674 740h1.5v1.5h-1.5zM654 727h1.5v1.5h-1.5zM643 781h1.5v1.5h-1.5zM611 729h1.5v1.5h-1.5zM641 776h1.5v1.5h-1.5zM619 787h1.5v1.5h-1.5zM667 738h1.5v1.5h-1.5zM663 769h1.5v1.5h-1.5zM605 746h1.5v1.5h-1.5zM626 710h1.5v1.5h-1.5zM608 771h1.5v1.5h-1.5zM642 774h1.5v1.5h-1.5zM622 783h1.5v1.5h-1.5zM610 738h1.5v1.5h-1.5zM609 757h1.5v1.5h-1.5zM610 761h1.5v1.5h-1.5zM644 717h1.5v1.5h-1.5zM617 720h1.5v1.5h-1.5zM652 714h1.5v1.5h-1.5zM666 775h1.5v1.5h-1.5zM619 709h1.5v1.5h-1.5zM669 746h1.5v1.5h-1.5zM672 752h1.5v1.5h-1.5zM641 710h1.5v1.5h-1.5zM604 753h1.5v1.5h-1.5zM651 774h1.5v1.5h-1.5zM604 741h1.5v1.5h-1.5zM629 704h1.5v1.5h-1.5zM637 713h1.5v1.5h-1.5zM606 758h1.5v1.5h-1.5zM638 711h1.5v1.5h-1.5zM657 754h1.5v1.5h-1.5zM615 786h1.5v1.5h-1.5zM603 719h1.5v1.5h-1.5zM601 728h1.5v1.5h-1.5zM611 750h1.5v1.5h-1.5zM651 778h1.5v1.5h-1.5zM597 754h1.5v1.5h-1.5zM639 779h1.5v1.5h-1.5zM596 753h1.5v1.5h-1.5zM623 716h1.5v1.5h-1.5zM653 776h1.5v1.5h-1.5zM661 725h1.5v1.5h-1.5zM612 735h1.5v1.5h-1.5zM625 712h1.5v1.5h-1.5zM614 727h1.5v1.5h-1.5zM627 701h1.5v1.5h-1.5zM651 727h1.5v1.5h-1.5zM624 786h1.5v1.5h-1.5zM608 748h1.5v1.5h-1.5zM660 746h1.5v1.5h-1.5zM603 757h1.5v1.5h-1.5zM634 709h1.5v1.5h-1.5zM671 749h1.5v1.5h-1.5zM603 752h1.5v1.5h-1.5zM635 781h1.5v1.5h-1.5zM652 785h1.5v1.5h-1.5zM626 785h1.5v1.5h-1.5zM641 788h1.5v1.5h-1.5zM652 709h1.5v1.5h-1.5zM659 745h1.5v1.5h-1.5zM659 734h1.5v1.5h-1.5zM625 720h1.5v1.5h-1.5zM652 787h1.5v1.5h-1.5zM608 738h1.5v1.5h-1.5zM641 777h1.5v1.5h-1.5zM644 717h1.5v1.5h-1.5zM623 774h1.5v1.5h-1.5zM668 780h1.5v1.5h-1.5zM656 736h1.5v1.5h-1.5zM620 710h1.5v1.5h-1.5zM616 719h1.5v1.5h-1.5zM652 716h1.5v1.5h-1.5zM622 783h1.5v1.5h-1.5zM645 780h1.5v1.5h-1.5zM606 722h1.5v1.5h-1.5zM659 745h1.5v1.5h-1.5zM622 776h1.5v1.5h-1.5zM654 728h1.5v1.5h-1.5zM607 722h1.5v1.5h-1.5zM599 764h1.5v1.5h-1.5zM618 725h1.5v1.5h-1.5zM661 771h1.5v1.5h-1.5zM656 760h1.5v1.5h-1.5zM631 719h1.5v1.5h-1.5zM606 757h1.5v1.5h-1.5zM644 698h1.5v1.5h-1.5zM649 720h1.5v1.5h-1.5zM612 726h1.5v1.5h-1.5zM603 759h1.5v1.5h-1.5zM661 763h1.5v1.5h-1.5zM595 751h1.5v1.5h-1.5zM609 747h1.5v1.5h-1.5zM603 771h1.5v1.5h-1.5zM653 729h1.5v1.5h-1.5zM624 716h1.5v1.5h-1.5zM619 709h1.5v1.5h-1.5zM632 788h1.5v1.5h-1.5zM636 705h1.5v1.5h-1.5zM656 726h1.5v1.5h-1.5zM610 760h1.5v1.5h-1.5zM611 706h1.5v1.5h-1.5zM606 769h1.5v1.5h-1.5zM652 699h1.5v1.5h-1.5zM623 708h1.5v1.5h-1.5zM618 766h1.5v1.5h-1.5zM613 743h1.5v1.5h-1.5zM655 743h1.5v1.5h-1.5zM610 762h1.5v1.5h-1.5zM662 771h1.5v1.5h-1.5zM626 779h1.5v1.5h-1.5zM616 716h1.5v1.5h-1.5zM621 771h1.5v1.5h-1.5zM620 781h1.5v1.5h-1.5zM656 766h1.5v1.5h-1.5zM667 730h1.5v1.5h-1.5zM626 783h1.5v1.5h-1.5zM598 741h1.5v1.5h-1.5zM640 722h1.5v1.5h-1.5zM621 722h1.5v1.5h-1.5zM630 710h1.5v1.5h-1.5zM636 703h1.5v1.5h-1.5zM608 731h1.5v1.5h-1.5zM639 780h1.5v1.5h-1.5zM608 778h1.5v1.5h-1.5zM653 757h1.5v1.5h-1.5zM661 742h1.5v1.5h-1.5zM599 741h1.5v1.5h-1.5zM609 772h1.5v1.5h-1.5zM651 709h1.5v1.5h-1.5zM605 727h1.5v1.5h-1.5zM658 774h1.5v1.5h-1.5zM609 747h1.5v1.5h-1.5zM666 743h1.5v1.5h-1.5zM646 707h1.5v1.5h-1.5zM653 719h1.5v1.5h-1.5zM617 706h1.5v1.5h-1.5zM628 714h1.5v1.5h-1.5zM632 714h1.5v1.5h-1.5zM625 717h1.5v1.5h-1.5zM636 778h1.5v1.5h-1.5zM611 730h1.5v1.5h-1.5zM652 779h1.5v1.5h-1.5zM665 772h1.5v1.5h-1.5zM665 757h1.5v1.5h-1.5zM610 718h1.5v1.5h-1.5zM636 791h1.5v1.5h-1.5zM615 767h1.5v1.5h-1.5zM617 720h1.5v1.5h-1.5zM663 767h1.5v1.5h-1.5zM612 734h1.5v1.5h-1.5zM611 759h1.5v1.5h-1.5zM667 752h1.5v1.5h-1.5zM643 714h1.5v1.5h-1.5zM659 739h1.5v1.5h-1.5zM610 736h1.5v1.5h-1.5zM652 766h1.5v1.5h-1.5zM663 754h1.5v1.5h-1.5zM614 775h1.5v1.5h-1.5zM629 774h1.5v1.5h-1.5zM638 712h1.5v1.5h-1.5zM608 742h1.5v1.5h-1.5zM612 740h1.5v1.5h-1.5zM644 781h1.5v1.5h-1.5zM659 738h1.5v1.5h-1.5zM610 760h1.5v1.5h-1.5zM652 760h1.5v1.5h-1.5zM650 723h1.5v1.5h-1.5zM611 780h1.5v1.5h-1.5zM643 774h1.5v1.5h-1.5zM603 737h1.5v1.5h-1.5zM599 735h1.5v1.5h-1.5zM603 779h1.5v1.5h-1.5zM656 773h1.5v1.5h-1.5zM651 776h1.5v1.5h-1.5zM645 698h1.5v1.5h-1.5zM600 767h1.5v1.5h-1.5zM657 790h1.5v1.5h-1.5zM599 733h1.5v1.5h-1.5zM609 744h1.5v1.5h-1.5zM596 742h1.5v1.5h-1.5zM614 721h1.5v1.5h-1.5zM626 715h1.5v1.5h-1.5zM668 731h1.5v1.5h-1.5zM603 743h1.5v1.5h-1.5zM652 726h1.5v1.5h-1.5zM615 769h1.5v1.5h-1.5zM656 732h1.5v1.5h-1.5zM631 712h1.5v1.5h-1.5zM610 709h1.5v1.5h-1.5zM605 754h1.5v1.5h-1.5zM619 781h1.5v1.5h-1.5zM657 764h1.5v1.5h-1.5zM653 770h1.5v1.5h-1.5zM643 772h1.5v1.5h-1.5zM648 778h1.5v1.5h-1.5zM617 772h1.5v1.5h-1.5zM614 763h1.5v1.5h-1.5zM649 773h1.5v1.5h-1.5zM607 763h1.5v1.5h-1.5zM630 714h1.5v1.5h-1.5zM650 776h1.5v1.5h-1.5zM671 748h1.5v1.5h-1.5zM649 782h1.5v1.5h-1.5zM619 730h1.5v1.5h-1.5zM657 733h1.5v1.5h-1.5zM660 766h1.5v1.5h-1.5zM637 788h1.5v1.5h-1.5zM616 776h1.5v1.5h-1.5zM658 756h1.5v1.5h-1.5zM607 753h1.5v1.5h-1.5zM645 780h1.5v1.5h-1.5zM657 749h1.5v1.5h-1.5zM621 773h1.5v1.5h-1.5zM612 774h1.5v1.5h-1.5zM614 768h1.5v1.5h-1.5zM636 784h1.5v1.5h-1.5zM665 719h1.5v1.5h-1.5zM658 730h1.5v1.5h-1.5zM656 732h1.5v1.5h-1.5zM656 774h1.5v1.5h-1.5zM639 713h1.5v1.5h-1.5zM655 720h1.5v1.5h-1.5zM622 707h1.5v1.5h-1.5zM608 743h1.5v1.5h-1.5zM659 733h1.5v1.5h-1.5zM646 717h1.5v1.5h-1.5zM617 778h1.5v1.5h-1.5zM616 729h1.5v1.5h-1.5zM642 789h1.5v1.5h-1.5zM674 738h1.5v1.5h-1.5zM661 772h1.5v1.5h-1.5zM616 714h1.5v1.5h-1.5zM639 782h1.5v1.5h-1.5zM641 721h1.5v1.5h-1.5zM611 778h1.5v1.5h-1.5zM649 780h1.5v1.5h-1.5zM630 709h1.5v1.5h-1.5zM649 774h1.5v1.5h-1.5zM656 764h1.5v1.5h-1.5zM605 721h1.5v1.5h-1.5zM643 722h1.5v1.5h-1.5zM673 753h1.5v1.5h-1.5zM618 778h1.5v1.5h-1.5zM652 777h1.5v1.5h-1.5zM613 719h1.5v1.5h-1.5zM660 729h1.5v1.5h-1.5zM640 784h1.5v1.5h-1.5zM610 721h1.5v1.5h-1.5zM611 726h1.5v1.5h-1.5zM645 716h1.5v1.5h-1.5zM667 766h1.5v1.5h-1.5zM609 735h1.5v1.5h-1.5zM648 788h1.5v1.5h-1.5zM643 712h1.5v1.5h-1.5zM608 731h1.5v1.5h-1.5zM597 731h1.5v1.5h-1.5zM651 719h1.5v1.5h-1.5zM628 788h1.5v1.5h-1.5zM635 778h1.5v1.5h-1.5zM655 778h1.5v1.5h-1.5zM656 742h1.5v1.5h-1.5zM618 770h1.5v1.5h-1.5zM611 735h1.5v1.5h-1.5zM633 704h1.5v1.5h-1.5zM611 766h1.5v1.5h-1.5zM634 718h1.5v1.5h-1.5zM654 718h1.5v1.5h-1.5zM664 726h1.5v1.5h-1.5zM654 741h1.5v1.5h-1.5zM654 769h1.5v1.5h-1.5zM646 712h1.5v1.5h-1.5zM652 780h1.5v1.5h-1.5zM662 762h1.5v1.5h-1.5zM615 718h1.5v1.5h-1.5zM620 772h1.5v1.5h-1.5zM631 705h1.5v1.5h-1.5zM662 772h1.5v1.5h-1.5zM651 777h1.5v1.5h-1.5zM658 724h1.5v1.5h-1.5zM658 739h1.5v1.5h-1.5zM616 774h1.5v1.5h-1.5zM651 729h1.5v1.5h-1.5zM664 767h1.5v1.5h-1.5zM663 739h1.5v1.5h-1.5zM662 768h1.5v1.5h-1.5zM617 774h1.5v1.5h-1.5zM639 718h1.5v1.5h-1.5zM613 710h1.5v1.5h-1.5zM602 726h1.5v1.5h-1.5zM662 729h1.5v1.5h-1.5zM671 748h1.5v1.5h-1.5zM648 772h1.5v1.5h-1.5zM668 724h1.5v1.5h-1.5zM610 752h1.5v1.5h-1.5zM653 781h1.5v1.5h-1.5zM612 731h1.5v1.5h-1.5zM660 736h1.5v1.5h-1.5zM629 714h1.5v1.5h-1.5zM625 724h1.5v1.5h-1.5zM617 779h1.5v1.5h-1.5zM617 777h1.5v1.5h-1.5zM607 775h1.5v1.5h-1.5zM621 720h1.5v1.5h-1.5zM661 711h1.5v1.5h-1.5zM659 749h1.5v1.5h-1.5zM664 784h1.5v1.5h-1.5zM658 744h1.5v1.5h-1.5zM649 780h1.5v1.5h-1.5zM662 752h1.5v1.5h-1.5zM614 716h1.5v1.5h-1.5zM645 777h1.5v1.5h-1.5zM609 728h1.5v1.5h-1.5zM663 726h1.5v1.5h-1.5zM665 725h1.5v1.5h-1.5zM667 750h1.5v1.5h-1.5zM628 781h1.5v1.5h-1.5zM605 771h1.5v1.5h-1.5zM611 762h1.5v1.5h-1.5zM647 710h1.5v1.5h-1.5zM661 739h1.5v1.5h-1.5zM621 721h1.5v1.5h-1.5zM652 730h1.5v1.5h-1.5zM653 764h1.5v1.5h-1.5zM651 713h1.5v1.5h-1.5zM615 722h1.5v1.5h-1.5zM653 776h1.5v1.5h-1.5zM622 770h1.5v1.5h-1.5zM635 783h1.5v1.5h-1.5zM616 721h1.5v1.5h-1.5zM664 773h1.5v1.5h-1.5zM662 751h1.5v1.5h-1.5zM602 717h1.5v1.5h-1.5zM616 728h1.5v1.5h-1.5zM632 714h1.5v1.5h-1.5zM613 747h1.5v1.5h-1.5zM654 767h1.5v1.5h-1.5zM665 733h1.5v1.5h-1.5zM662 736h1.5v1.5h-1.5zM598 748h1.5v1.5h-1.5zM646 780h1.5v1.5h-1.5zM620 776h1.5v1.5h-1.5zM613 758h1.5v1.5h-1.5zM612 721h1.5v1.5h-1.5zM618 724h1.5v1.5h-1.5zM665 755h1.5v1.5h-1.5zM614 712h1.5v1.5h-1.5zM660 753h1.5v1.5h-1.5zM640 715h1.5v1.5h-1.5zM612 750h1.5v1.5h-1.5zM607 732h1.5v1.5h-1.5zM627 774h1.5v1.5h-1.5zM658 710h1.5v1.5h-1.5zM622 780h1.5v1.5h-1.5zM648 694h1.5v1.5h-1.5zM645 775h1.5v1.5h-1.5zM614 735h1.5v1.5h-1.5zM667 724h1.5v1.5h-1.5zM603 774h1.5v1.5h-1.5zM623 706h1.5v1.5h-1.5zM605 764h1.5v1.5h-1.5zM664 727h1.5v1.5h-1.5zM650 728h1.5v1.5h-1.5zM646 712h1.5v1.5h-1.5zM651 774h1.5v1.5h-1.5zM660 721h1.5v1.5h-1.5zM660 744h1.5v1.5h-1.5zM639 777h1.5v1.5h-1.5zM652 721h1.5v1.5h-1.5zM639 775h1.5v1.5h-1.5zM656 763h1.5v1.5h-1.5zM635 717h1.5v1.5h-1.5zM656 787h1.5v1.5h-1.5zM640 717h1.5v1.5h-1.5zM653 721h1.5v1.5h-1.5zM649 728h1.5v1.5h-1.5zM659 751h1.5v1.5h-1.5zM631 778h1.5v1.5h-1.5zM624 784h1.5v1.5h-1.5zM665 737h1.5v1.5h-1.5zM615 723h1.5v1.5h-1.5zM651 765h1.5v1.5h-1.5zM614 728h1.5v1.5h-1.5zM610 754h1.5v1.5h-1.5zM636 778h1.5v1.5h-1.5zM659 783h1.5v1.5h-1.5zM648 717h1.5v1.5h-1.5zM610 732h1.5v1.5h-1.5zM629 715h1.5v1.5h-1.5zM659 745h1.5v1.5h-1.5zM624 718h1.5v1.5h-1.5zM661 743h1.5v1.5h-1.5zM635 779h1.5v1.5h-1.5zM661 739h1.5v1.5h-1.5zM667 717h1.5v1.5h-1.5zM625 719h1.5v1.5h-1.5zM609 767h1.5v1.5h-1.5zM619 772h1.5v1.5h-1.5zM600 758h1.5v1.5h-1.5zM592 746h1.5v1.5h-1.5zM653 779h1.5v1.5h-1.5zM627 781h1.5v1.5h-1.5zM660 756h1.5v1.5h-1.5zM611 760h1.5v1.5h-1.5zM635 781h1.5v1.5h-1.5zM638 709h1.5v1.5h-1.5zM637 777h1.5v1.5h-1.5zM614 771h1.5v1.5h-1.5zM606 754h1.5v1.5h-1.5zM607 770h1.5v1.5h-1.5zM634 715h1.5v1.5h-1.5zM627 776h1.5v1.5h-1.5zM605 774h1.5v1.5h-1.5zM664 760h1.5v1.5h-1.5zM620 722h1.5v1.5h-1.5zM621 781h1.5v1.5h-1.5zM623 722h1.5v1.5h-1.5zM631 714h1.5v1.5h-1.5zM674 749h1.5v1.5h-1.5zM638 777h1.5v1.5h-1.5zM610 755h1.5v1.5h-1.5zM650 707h1.5v1.5h-1.5zM644 714h1.5v1.5h-1.5zM606 748h1.5v1.5h-1.5zM611 754h1.5v1.5h-1.5zM659 726h1.5v1.5h-1.5zM607 746h1.5v1.5h-1.5zM619 724h1.5v1.5h-1.5zM618 774h1.5v1.5h-1.5zM620 790h1.5v1.5h-1.5zM618 718h1.5v1.5h-1.5zM662 728h1.5v1.5h-1.5zM659 774h1.5v1.5h-1.5zM611 770h1.5v1.5h-1.5zM648 775h1.5v1.5h-1.5zM635 719h1.5v1.5h-1.5zM635 702h1.5v1.5h-1.5zM611 723h1.5v1.5h-1.5zM614 722h1.5v1.5h-1.5zM641 776h1.5v1.5h-1.5zM644 786h1.5v1.5h-1.5zM611 765h1.5v1.5h-1.5zM641 774h1.5v1.5h-1.5zM647 715h1.5v1.5h-1.5zM615 777h1.5v1.5h-1.5zM654 762h1.5v1.5h-1.5zM612 728h1.5v1.5h-1.5zM659 734h1.5v1.5h-1.5zM652 724h1.5v1.5h-1.5zM602 727h1.5v1.5h-1.5zM655 756h1.5v1.5h-1.5zM631 779h1.5v1.5h-1.5zM654 724h1.5v1.5h-1.5zM663 734h1.5v1.5h-1.5zM660 755h1.5v1.5h-1.5zM618 721h1.5v1.5h-1.5zM674 754h1.5v1.5h-1.5zM647 704h1.5v1.5h-1.5zM625 713h1.5v1.5h-1.5zM658 725h1.5v1.5h-1.5zM643 777h1.5v1.5h-1.5zM639 783h1.5v1.5h-1.5zM643 699h1.5v1.5h-1.5zM644 720h1.5v1.5h-1.5zM647 779h1.5v1.5h-1.5zM625 779h1.5v1.5h-1.5zM630 718h1.5v1.5h-1.5zM636 780h1.5v1.5h-1.5zM616 718h1.5v1.5h-1.5zM613 723h1.5v1.5h-1.5zM652 773h1.5v1.5h-1.5zM615 771h1.5v1.5h-1.5zM658 742h1.5v1.5h-1.5zM611 747h1.5v1.5h-1.5zM615 767h1.5v1.5h-1.5zM603 747h1.5v1.5h-1.5zM658 755h1.5v1.5h-1.5zM625 775h1.5v1.5h-1.5zM643 711h1.5v1.5h-1.5zM613 769h1.5v1.5h-1.5zM597 756h1.5v1.5h-1.5zM663 783h1.5v1.5h-1.5zM647 777h1.5v1.5h-1.5zM608 750h1.5v1.5h-1.5zM660 759h1.5v1.5h-1.5zM660 762h1.5v1.5h-1.5zM627 712h1.5v1.5h-1.5zM657 734h1.5v1.5h-1.5zM612 727h1.5v1.5h-1.5zM606 729h1.5v1.5h-1.5zM651 706h1.5v1.5h-1.5zM672 772h1.5v1.5h-1.5zM639 785h1.5v1.5h-1.5zM664 758h1.5v1.5h-1.5zM647 721h1.5v1.5h-1.5zM634 774h1.5v1.5h-1.5zM602 769h1.5v1.5h-1.5zM650 769h1.5v1.5h-1.5zM613 762h1.5v1.5h-1.5zM614 724h1.5v1.5h-1.5zM654 736h1.5v1.5h-1.5zM657 713h1.5v1.5h-1.5zM607 734h1.5v1.5h-1.5zM657 721h1.5v1.5h-1.5zM670 759h1.5v1.5h-1.5zM607 759h1.5v1.5h-1.5zM607 753h1.5v1.5h-1.5zM612 770h1.5v1.5h-1.5zM605 733h1.5v1.5h-1.5zM621 780h1.5v1.5h-1.5zM609 743h1.5v1.5h-1.5zM654 764h1.5v1.5h-1.5zM656 725h1.5v1.5h-1.5zM654 745h1.5v1.5h-1.5zM642 776h1.5v1.5h-1.5zM669 752h1.5v1.5h-1.5zM642 784h1.5v1.5h-1.5zM649 714h1.5v1.5h-1.5zM626 701h1.5v1.5h-1.5zM616 752h1.5v1.5h-1.5zM633 790h1.5v1.5h-1.5zM668 742h1.5v1.5h-1.5zM650 758h1.5v1.5h-1.5zM667 763h1.5v1.5h-1.5zM633 724h1.5v1.5h-1.5zM620 743h1.5v1.5h-1.5zM620 724h1.5v1.5h-1.5zM594 766h1.5v1.5h-1.5zM641 725h1.5v1.5h-1.5zM652 716h1.5v1.5h-1.5zM640 740h1.5v1.5h-1.5zM634 742h1.5v1.5h-1.5zM649 761h1.5v1.5h-1.5zM664 732h1.5v1.5h-1.5zM635 757h1.5v1.5h-1.5zM633 759h1.5v1.5h-1.5zM671 704h1.5v1.5h-1.5zM643 744h1.5v1.5h-1.5zM623 738h1.5v1.5h-1.5zM645 766h1.5v1.5h-1.5zM634 766h1.5v1.5h-1.5zM607 747h1.5v1.5h-1.5zM643 762h1.5v1.5h-1.5zM638 763h1.5v1.5h-1.5zM600 748h1.5v1.5h-1.5zM621 758h1.5v1.5h-1.5zM627 745h1.5v1.5h-1.5zM667 775h1.5v1.5h-1.5zM637 725h1.5v1.5h-1.5zM653 740h1.5v1.5h-1.5zM631 734h1.5v1.5h-1.5zM619 748h1.5v1.5h-1.5zM659 767h1.5v1.5h-1.5zM626 706h1.5v1.5h-1.5zM600 748h1.5v1.5h-1.5zM615 746h1.5v1.5h-1.5zM638 763h1.5v1.5h-1.5zM594 742h1.5v1.5h-1.5zM637 736h1.5v1.5h-1.5zM638 726h1.5v1.5h-1.5zM628 765h1.5v1.5h-1.5zM617 752h1.5v1.5h-1.5zM649 734h1.5v1.5h-1.5zM634 723h1.5v1.5h-1.5zM643 726h1.5v1.5h-1.5zM643 758h1.5v1.5h-1.5zM602 704h1.5v1.5h-1.5zM622 731h1.5v1.5h-1.5zM633 741h1.5v1.5h-1.5zM630 703h1.5v1.5h-1.5zM662 763h1.5v1.5h-1.5zM665 723h1.5v1.5h-1.5zM608 733h1.5v1.5h-1.5zM617 741h1.5v1.5h-1.5zM640 757h1.5v1.5h-1.5zM597 734h1.5v1.5h-1.5zM641 785h1.5v1.5h-1.5zM651 733h1.5v1.5h-1.5zM641 742h1.5v1.5h-1.5zM683 751h1.5v1.5h-1.5zM652 758h1.5v1.5h-1.5zM624 745h1.5v1.5h-1.5zM631 760h1.5v1.5h-1.5zM638 727h1.5v1.5h-1.5zM635 756h1.5v1.5h-1.5zM642 711h1.5v1.5h-1.5zM658 772h1.5v1.5h-1.5zM635 754h1.5v1.5h-1.5zM665 760h1.5v1.5h-1.5zM638 720h1.5v1.5h-1.5zM674 748h1.5v1.5h-1.5zM627 736h1.5v1.5h-1.5zM633 703h1.5v1.5h-1.5zM645 773h1.5v1.5h-1.5zM629 763h1.5v1.5h-1.5zM632 744h1.5v1.5h-1.5zM634 759h1.5v1.5h-1.5zM620 747h1.5v1.5h-1.5zM680 777h1.5v1.5h-1.5zM615 734h1.5v1.5h-1.5zM657 728h1.5v1.5h-1.5zM636 748h1.5v1.5h-1.5zM616 744h1.5v1.5h-1.5zM618 765h1.5v1.5h-1.5zM647 754h1.5v1.5h-1.5zM656 740h1.5v1.5h-1.5zM638 766h1.5v1.5h-1.5zM610 731h1.5v1.5h-1.5zM618 780h1.5v1.5h-1.5zM645 742h1.5v1.5h-1.5zM655 784h1.5v1.5h-1.5zM621 745h1.5v1.5h-1.5zM653 769h1.5v1.5h-1.5zM604 750h1.5v1.5h-1.5zM623 737h1.5v1.5h-1.5zM638 727h1.5v1.5h-1.5zM629 763h1.5v1.5h-1.5zM646 760h1.5v1.5h-1.5zM617 735h1.5v1.5h-1.5zM667 745h1.5v1.5h-1.5zM637 703h1.5v1.5h-1.5zM619 738h1.5v1.5h-1.5zM626 727h1.5v1.5h-1.5zM630 717h1.5v1.5h-1.5zM676 688h1.5v1.5h-1.5zM644 749h1.5v1.5h-1.5zM630 723h1.5v1.5h-1.5zM637 730h1.5v1.5h-1.5zM636 730h1.5v1.5h-1.5zM587 767h1.5v1.5h-1.5zM656 750h1.5v1.5h-1.5zM653 780h1.5v1.5h-1.5zM617 737h1.5v1.5h-1.5zM630 768h1.5v1.5h-1.5zM625 719h1.5v1.5h-1.5zM622 729h1.5v1.5h-1.5zM630 734h1.5v1.5h-1.5zM623 742h1.5v1.5h-1.5zM621 742h1.5v1.5h-1.5zM590 756h1.5v1.5h-1.5zM665 728h1.5v1.5h-1.5zM642 734h1.5v1.5h-1.5zM657 745h1.5v1.5h-1.5zM640 751h1.5v1.5h-1.5zM653 741h1.5v1.5h-1.5zM619 739h1.5v1.5h-1.5zM646 762h1.5v1.5h-1.5zM623 738h1.5v1.5h-1.5zM604 706h1.5v1.5h-1.5zM630 786h1.5v1.5h-1.5zM623 754h1.5v1.5h-1.5zM646 750h1.5v1.5h-1.5zM634 725h1.5v1.5h-1.5zM635 755h1.5v1.5h-1.5zM644 715h1.5v1.5h-1.5zM638 724h1.5v1.5h-1.5zM640 713h1.5v1.5h-1.5zM630 785h1.5v1.5h-1.5zM657 719h1.5v1.5h-1.5zM624 746h1.5v1.5h-1.5zM649 676h1.5v1.5h-1.5zM666 767h1.5v1.5h-1.5zM643 755h1.5v1.5h-1.5zM648 730h1.5v1.5h-1.5zM641 739h1.5v1.5h-1.5zM615 742h1.5v1.5h-1.5zM627 726h1.5v1.5h-1.5zM626 744h1.5v1.5h-1.5zM618 736h1.5v1.5h-1.5zM619 761h1.5v1.5h-1.5zM627 770h1.5v1.5h-1.5zM595 735h1.5v1.5h-1.5zM663 696h1.5v1.5h-1.5zM672 729h1.5v1.5h-1.5zM616 735h1.5v1.5h-1.5zM633 748h1.5v1.5h-1.5zM621 763h1.5v1.5h-1.5zM620 711h1.5v1.5h-1.5zM642 773h1.5v1.5h-1.5zM683 743h1.5v1.5h-1.5zM627 754h1.5v1.5h-1.5zM636 741h1.5v1.5h-1.5zM613 754h1.5v1.5h-1.5zM653 745h1.5v1.5h-1.5zM652 756h1.5v1.5h-1.5zM632 740h1.5v1.5h-1.5zM632 770h1.5v1.5h-1.5zM666 754h1.5v1.5h-1.5zM635 776h1.5v1.5h-1.5zM673 736h1.5v1.5h-1.5zM666 704h1.5v1.5h-1.5zM664 743h1.5v1.5h-1.5zM613 746h1.5v1.5h-1.5zM660 717h1.5v1.5h-1.5zM638 738h1.5v1.5h-1.5zM678 753h1.5v1.5h-1.5zM655 775h1.5v1.5h-1.5zM643 735h1.5v1.5h-1.5zM602 766h1.5v1.5h-1.5zM663 755h1.5v1.5h-1.5zM644 748h1.5v1.5h-1.5zM581 726h1.5v1.5h-1.5zM645 774h1.5v1.5h-1.5zM674 749h1.5v1.5h-1.5zM646 728h1.5v1.5h-1.5zM625 696h1.5v1.5h-1.5zM595 715h1.5v1.5h-1.5zM589 738h1.5v1.5h-1.5zM605 769h1.5v1.5h-1.5zM632 737h1.5v1.5h-1.5zM635 734h1.5v1.5h-1.5zM621 750h1.5v1.5h-1.5zM644 770h1.5v1.5h-1.5zM637 742h1.5v1.5h-1.5zM633 765h1.5v1.5h-1.5zM622 769h1.5v1.5h-1.5zM627 716h1.5v1.5h-1.5zM626 747h1.5v1.5h-1.5zM669 736h1.5v1.5h-1.5zM639 728h1.5v1.5h-1.5zM630 751h1.5v1.5h-1.5zM634 727h1.5v1.5h-1.5zM651 716h1.5v1.5h-1.5zM647 735h1.5v1.5h-1.5zM636 732h1.5v1.5h-1.5zM666 756h1.5v1.5h-1.5zM641 755h1.5v1.5h-1.5zM630 759h1.5v1.5h-1.5zM643 761h1.5v1.5h-1.5zM631 727h1.5v1.5h-1.5zM610 746h1.5v1.5h-1.5zM619 771h1.5v1.5h-1.5zM609 754h1.5v1.5h-1.5zM639 739h1.5v1.5h-1.5zM646 724h1.5v1.5h-1.5zM623 740h1.5v1.5h-1.5zM631 724h1.5v1.5h-1.5zM649 706h1.5v1.5h-1.5zM644 778h1.5v1.5h-1.5zM598 743h1.5v1.5h-1.5zM638 734h1.5v1.5h-1.5zM631 745h1.5v1.5h-1.5zM658 766h1.5v1.5h-1.5zM640 756h1.5v1.5h-1.5zM620 732h1.5v1.5h-1.5zM617 765h1.5v1.5h-1.5zM672 774h1.5v1.5h-1.5zM628 768h1.5v1.5h-1.5zM638 748h1.5v1.5h-1.5zM644 720h1.5v1.5h-1.5zM617 733h1.5v1.5h-1.5zM605 770h1.5v1.5h-1.5zM636 766h1.5v1.5h-1.5zM660 717h1.5v1.5h-1.5zM606 763h1.5v1.5h-1.5zM655 737h1.5v1.5h-1.5zM673 722h1.5v1.5h-1.5zM683 732h1.5v1.5h-1.5zM640 703h1.5v1.5h-1.5zM624 748h1.5v1.5h-1.5zM647 744h1.5v1.5h-1.5zM649 731h1.5v1.5h-1.5zM649 752h1.5v1.5h-1.5zM639 754h1.5v1.5h-1.5zM637 779h1.5v1.5h-1.5zM647 726h1.5v1.5h-1.5zM618 747h1.5v1.5h-1.5zM606 750h1.5v1.5h-1.5zM622 696h1.5v1.5h-1.5zM627 706h1.5v1.5h-1.5zM645 751h1.5v1.5h-1.5zM637 732h1.5v1.5h-1.5zM642 695h1.5v1.5h-1.5zM650 710h1.5v1.5h-1.5zM618 755h1.5v1.5h-1.5zM634 713h1.5v1.5h-1.5zM641 775h1.5v1.5h-1.5zM638 722h1.5v1.5h-1.5zM616 780h1.5v1.5h-1.5zM610 719h1.5v1.5h-1.5zM644 755h1.5v1.5h-1.5zM641 768h1.5v1.5h-1.5zM620 772h1.5v1.5h-1.5zM621 752h1.5v1.5h-1.5zM608 772h1.5v1.5h-1.5zM685 757h1.5v1.5h-1.5zM625 750h1.5v1.5h-1.5zM628 746h1.5v1.5h-1.5zM632 734h1.5v1.5h-1.5zM659 712h1.5v1.5h-1.5zM653 746h1.5v1.5h-1.5zM618 734h1.5v1.5h-1.5zM614 751h1.5v1.5h-1.5zM656 738h1.5v1.5h-1.5zM638 725h1.5v1.5h-1.5zM607 719h1.5v1.5h-1.5zM618 751h1.5v1.5h-1.5zM618 747h1.5v1.5h-1.5zM617 739h1.5v1.5h-1.5zM648 681h1.5v1.5h-1.5zM617 740h1.5v1.5h-1.5zM631 732h1.5v1.5h-1.5zM612 790h1.5v1.5h-1.5zM625 736h1.5v1.5h-1.5zM630 746h1.5v1.5h-1.5zM634 755h1.5v1.5h-1.5zM617 745h1.5v1.5h-1.5zM659 722h1.5v1.5h-1.5zM636 765h1.5v1.5h-1.5zM624 740h1.5v1.5h-1.5zM634 747h1.5v1.5h-1.5zM623 773h1.5v1.5h-1.5zM620 732h1.5v1.5h-1.5zM668 753h1.5v1.5h-1.5zM636 754h1.5v1.5h-1.5zM663 765h1.5v1.5h-1.5zM622 726h1.5v1.5h-1.5zM630 728h1.5v1.5h-1.5zM653 705h1.5v1.5h-1.5zM628 753h1.5v1.5h-1.5zM650 729h1.5v1.5h-1.5zM644 743h1.5v1.5h-1.5zM666 727h1.5v1.5h-1.5zM632 746h1.5v1.5h-1.5zM651 739h1.5v1.5h-1.5zM612 705h1.5v1.5h-1.5zM647 723h1.5v1.5h-1.5zM646 754h1.5v1.5h-1.5zM635 764h1.5v1.5h-1.5zM597 740h1.5v1.5h-1.5zM637 785h1.5v1.5h-1.5zM620 762h1.5v1.5h-1.5zM637 719h1.5v1.5h-1.5zM635 704h1.5v1.5h-1.5zM601 713h1.5v1.5h-1.5zM629 727h1.5v1.5h-1.5zM633 746h1.5v1.5h-1.5zM627 750h1.5v1.5h-1.5zM633 775h1.5v1.5h-1.5zM637 748h1.5v1.5h-1.5zM633 751h1.5v1.5h-1.5zM629 779h1.5v1.5h-1.5zM648 717h1.5v1.5h-1.5zM624 729h1.5v1.5h-1.5zM601 778h1.5v1.5h-1.5zM654 746h1.5v1.5h-1.5zM624 765h1.5v1.5h-1.5zM629 728h1.5v1.5h-1.5zM674 753h1.5v1.5h-1.5zM619 736h1.5v1.5h-1.5zM625 758h1.5v1.5h-1.5zM664 750h1.5v1.5h-1.5zM645 763h1.5v1.5h-1.5zM576 776h1.5v1.5h-1.5zM689 753h1.5v1.5h-1.5zM614 735h1.5v1.5h-1.5zM641 736h1.5v1.5h-1.5zM625 738h1.5v1.5h-1.5zM655 778h1.5v1.5h-1.5zM634 721h1.5v1.5h-1.5zM608 765h1.5v1.5h-1.5zM628 764h1.5v1.5h-1.5zM669 773h1.5v1.5h-1.5zM669 734h1.5v1.5h-1.5zM626 770h1.5v1.5h-1.5zM605 773h1.5v1.5h-1.5zM614 745h1.5v1.5h-1.5zM646 722h1.5v1.5h-1.5zM647 737h1.5v1.5h-1.5zM630 772h1.5v1.5h-1.5zM625 766h1.5v1.5h-1.5zM656 788h1.5v1.5h-1.5zM614 766h1.5v1.5h-1.5zM663 744h1.5v1.5h-1.5zM631 689h1.5v1.5h-1.5zM629 760h1.5v1.5h-1.5zM616 733h1.5v1.5h-1.5zM652 756h1.5v1.5h-1.5zM634 696h1.5v1.5h-1.5zM622 720h1.5v1.5h-1.5zM661 710h1.5v1.5h-1.5zM646 763h1.5v1.5h-1.5zM645 734h1.5v1.5h-1.5zM678 724h1.5v1.5h-1.5zM629 761h1.5v1.5h-1.5zM647 734h1.5v1.5h-1.5zM621 748h1.5v1.5h-1.5zM588 702h1.5v1.5h-1.5zM652 685h1.5v1.5h-1.5zM622 731h1.5v1.5h-1.5zM646 737h1.5v1.5h-1.5zM586 758h1.5v1.5h-1.5zM641 744h1.5v1.5h-1.5zM618 703h1.5v1.5h-1.5zM676 743h1.5v1.5h-1.5zM655 754h1.5v1.5h-1.5zM661 771h1.5v1.5h-1.5zM621 721h1.5v1.5h-1.5zM659 748h1.5v1.5h-1.5zM634 725h1.5v1.5h-1.5zM606 769h1.5v1.5h-1.5zM638 722h1.5v1.5h-1.5zM631 717h1.5v1.5h-1.5zM624 724h1.5v1.5h-1.5zM644 753h1.5v1.5h-1.5zM636 733h1.5v1.5h-1.5zM646 765h1.5v1.5h-1.5zM612 787h1.5v1.5h-1.5zM640 729h1.5v1.5h-1.5zM659 763h1.5v1.5h-1.5zM674 766h1.5v1.5h-1.5zM621 745h1.5v1.5h-1.5zM603 758h1.5v1.5h-1.5zM628 716h1.5v1.5h-1.5zM608 722h1.5v1.5h-1.5zM646 759h1.5v1.5h-1.5zM639 766h1.5v1.5h-1.5zM625 758h1.5v1.5h-1.5zM647 739h1.5v1.5h-1.5zM621 725h1.5v1.5h-1.5zM620 751h1.5v1.5h-1.5zM635 709h1.5v1.5h-1.5zM650 747h1.5v1.5h-1.5zM627 773h1.5v1.5h-1.5zM634 667h1.5v1.5h-1.5zM645 763h1.5v1.5h-1.5zM658 781h1.5v1.5h-1.5zM628 764h1.5v1.5h-1.5zM651 724h1.5v1.5h-1.5zM648 769h1.5v1.5h-1.5zM655 788h1.5v1.5h-1.5zM684 749h1.5v1.5h-1.5zM627 761h1.5v1.5h-1.5zM639 762h1.5v1.5h-1.5zM642 704h1.5v1.5h-1.5zM625 727h1.5v1.5h-1.5zM593 757h1.5v1.5h-1.5zM668 720h1.5v1.5h-1.5zM656 711h1.5v1.5h-1.5zM622 741h1.5v1.5h-1.5zM629 750h1.5v1.5h-1.5zM613 735h1.5v1.5h-1.5zM634 697h1.5v1.5h-1.5zM643 743h1.5v1.5h-1.5zM622 737h1.5v1.5h-1.5zM625 713h1.5v1.5h-1.5zM630 746h1.5v1.5h-1.5zM647 752h1.5v1.5h-1.5zM640 737h1.5v1.5h-1.5zM656 728h1.5v1.5h-1.5zM649 750h1.5v1.5h-1.5zM639 724h1.5v1.5h-1.5zM627 733h1.5v1.5h-1.5zM642 750h1.5v1.5h-1.5zM644 771h1.5v1.5h-1.5zM641 770h1.5v1.5h-1.5zM642 735h1.5v1.5h-1.5zM662 718h1.5v1.5h-1.5zM619 727h1.5v1.5h-1.5zM670 744h1.5v1.5h-1.5zM617 728h1.5v1.5h-1.5zM647 769h1.5v1.5h-1.5zM587 739h1.5v1.5h-1.5zM624 788h1.5v1.5h-1.5zM636 762h1.5v1.5h-1.5zM620 737h1.5v1.5h-1.5zM585 767h1.5v1.5h-1.5zM658 735h1.5v1.5h-1.5zM624 747h1.5v1.5h-1.5zM655 754h1.5v1.5h-1.5zM642 706h1.5v1.5h-1.5zM641 770h1.5v1.5h-1.5zM626 770h1.5v1.5h-1.5zM649 756h1.5v1.5h-1.5zM616 725h1.5v1.5h-1.5zM643 755h1.5v1.5h-1.5zM640 704h1.5v1.5h-1.5zM652 719h1.5v1.5h-1.5zM665 740h1.5v1.5h-1.5zM644 705h1.5v1.5h-1.5zM597 752h1.5v1.5h-1.5zM632 756h1.5v1.5h-1.5zM627 763h1.5v1.5h-1.5zM635 719h1.5v1.5h-1.5zM593 778h1.5v1.5h-1.5zM614 777h1.5v1.5h-1.5zM670 738h1.5v1.5h-1.5zM667 748h1.5v1.5h-1.5zM644 779h1.5v1.5h-1.5zM631 765h1.5v1.5h-1.5zM624 770h1.5v1.5h-1.5zM640 759h1.5v1.5h-1.5zM597 743h1.5v1.5h-1.5zM648 755h1.5v1.5h-1.5zM626 767h1.5v1.5h-1.5zM642 743h1.5v1.5h-1.5zM620 714h1.5v1.5h-1.5zM655 730h1.5v1.5h-1.5zM631 775h1.5v1.5h-1.5zM629 752h1.5v1.5h-1.5zM626 730h1.5v1.5h-1.5zM605 782h1.5v1.5h-1.5zM644 752h1.5v1.5h-1.5zM636 724h1.5v1.5h-1.5zM643 755h1.5v1.5h-1.5zM632 759h1.5v1.5h-1.5zM649 753h1.5v1.5h-1.5zM634 772h1.5v1.5h-1.5zM635 749h1.5v1.5h-1.5zM637 735h1.5v1.5h-1.5zM643 709h1.5v1.5h-1.5zM621 785h1.5v1.5h-1.5zM654 730h1.5v1.5h-1.5zM646 734h1.5v1.5h-1.5zM614 749h1.5v1.5h-1.5zM621 774h1.5v1.5h-1.5zM632 727h1.5v1.5h-1.5zM636 739h1.5v1.5h-1.5zM651 760h1.5v1.5h-1.5zM618 760h1.5v1.5h-1.5zM659 752h1.5v1.5h-1.5zM657 747h1.5v1.5h-1.5zM659 749h1.5v1.5h-1.5zM647 705h1.5v1.5h-1.5zM477 761h1.5v1.5h-1.5zM474 750h1.5v1.5h-1.5zM453 772h1.5v1.5h-1.5zM493 730h1.5v1.5h-1.5zM495 721h1.5v1.5h-1.5zM531 719h1.5v1.5h-1.5zM450 765h1.5v1.5h-1.5zM488 730h1.5v1.5h-1.5zM487 754h1.5v1.5h-1.5zM470 774h1.5v1.5h-1.5zM487 734h1.5v1.5h-1.5zM519 725h1.5v1.5h-1.5zM491 757h1.5v1.5h-1.5zM478 740h1.5v1.5h-1.5zM494 744h1.5v1.5h-1.5zM494 742h1.5v1.5h-1.5zM497 739h1.5v1.5h-1.5zM504 745h1.5v1.5h-1.5zM499 746h1.5v1.5h-1.5zM486 742h1.5v1.5h-1.5zM477 765h1.5v1.5h-1.5zM492 731h1.5v1.5h-1.5zM485 770h1.5v1.5h-1.5zM500 733h1.5v1.5h-1.5zM494 735h1.5v1.5h-1.5zM498 741h1.5v1.5h-1.5zM467 757h1.5v1.5h-1.5zM508 727h1.5v1.5h-1.5zM495 749h1.5v1.5h-1.5zM503 743h1.5v1.5h-1.5zM487 754h1.5v1.5h-1.5zM504 730h1.5v1.5h-1.5zM493 749h1.5v1.5h-1.5zM506 724h1.5v1.5h-1.5zM499 729h1.5v1.5h-1.5zM476 768h1.5v1.5h-1.5zM490 736h1.5v1.5h-1.5zM483 757h1.5v1.5h-1.5zM505 743h1.5v1.5h-1.5zM497 736h1.5v1.5h-1.5zM521 738h1.5v1.5h-1.5zM492 739h1.5v1.5h-1.5zM494 738h1.5v1.5h-1.5zM476 762h1.5v1.5h-1.5zM492 736h1.5v1.5h-1.5zM525 741h1.5v1.5h-1.5zM496 731h1.5v1.5h-1.5zM498 744h1.5v1.5h-1.5zM494 743h1.5v1.5h-1.5zM496 730h1.5v1.5h-1.5zM501 728h1.5v1.5h-1.5zM520 710h1.5v1.5h-1.5zM473 772h1.5v1.5h-1.5zM496 783h1.5v1.5h-1.5zM518 727h1.5v1.5h-1.5zM487 758h1.5v1.5h-1.5zM506 728h1.5v1.5h-1.5zM485 745h1.5v1.5h-1.5zM506 737h1.5v1.5h-1.5zM488 747h1.5v1.5h-1.5zM515 736h1.5v1.5h-1.5zM495 738h1.5v1.5h-1.5zM496 720h1.5v1.5h-1.5zM484 744h1.5v1.5h-1.5zM490 750h1.5v1.5h-1.5zM523 737h1.5v1.5h-1.5zM518 715h1.5v1.5h-1.5zM497 734h1.5v1.5h-1.5zM500 734h1.5v1.5h-1.5zM510 738h1.5v1.5h-1.5zM495 756h1.5v1.5h-1.5zM504 729h1.5v1.5h-1.5zM493 762h1.5v1.5h-1.5zM490 767h1.5v1.5h-1.5zM528 714h1.5v1.5h-1.5zM499 736h1.5v1.5h-1.5zM486 761h1.5v1.5h-1.5zM487 749h1.5v1.5h-1.5zM529 710h1.5v1.5h-1.5zM542 713h1.5v1.5h-1.5zM513 732h1.5v1.5h-1.5zM524 710h1.5v1.5h-1.5zM488 748h1.5v1.5h-1.5zM475 753h1.5v1.5h-1.5zM495 754h1.5v1.5h-1.5zM501 733h1.5v1.5h-1.5zM473 753h1.5v1.5h-1.5zM472 767h1.5v1.5h-1.5zM499 732h1.5v1.5h-1.5zM500 743h1.5v1.5h-1.5zM503 737h1.5v1.5h-1.5zM476 774h1.5v1.5h-1.5zM507 735h1.5v1.5h-1.5zM512 740h1.5v1.5h-1.5zM489 774h1.5v1.5h-1.5zM482 744h1.5v1.5h-1.5zM464 763h1.5v1.5h-1.5zM480 765h1.5v1.5h-1.5zM460 765h1.5v1.5h-1.5zM530 712h1.5v1.5h-1.5zM494 746h1.5v1.5h-1.5zM502 742h1.5v1.5h-1.5zM499 740h1.5v1.5h-1.5zM496 735h1.5v1.5h-1.5zM493 757h1.5v1.5h-1.5zM483 755h1.5v1.5h-1.5zM470 752h1.5v1.5h-1.5zM479 752h1.5v1.5h-1.5zM507 745h1.5v1.5h-1.5zM488 747h1.5v1.5h-1.5zM500 756h1.5v1.5h-1.5zM506 726h1.5v1.5h-1.5zM503 729h1.5v1.5h-1.5zM497 728h1.5v1.5h-1.5zM473 759h1.5v1.5h-1.5zM485 743h1.5v1.5h-1.5zM490 746h1.5v1.5h-1.5zM487 762h1.5v1.5h-1.5zM503 733h1.5v1.5h-1.5zM504 745h1.5v1.5h-1.5zM515 731h1.5v1.5h-1.5zM497 761h1.5v1.5h-1.5zM495 753h1.5v1.5h-1.5zM502 735h1.5v1.5h-1.5zM504 724h1.5v1.5h-1.5zM475 778h1.5v1.5h-1.5zM506 731h1.5v1.5h-1.5zM521 718h1.5v1.5h-1.5zM489 760h1.5v1.5h-1.5zM521 733h1.5v1.5h-1.5zM468 766h1.5v1.5h-1.5zM492 751h1.5v1.5h-1.5zM511 721h1.5v1.5h-1.5zM493 748h1.5v1.5h-1.5zM513 738h1.5v1.5h-1.5zM468 754h1.5v1.5h-1.5zM493 737h1.5v1.5h-1.5zM513 719h1.5v1.5h-1.5zM500 730h1.5v1.5h-1.5zM528 702h1.5v1.5h-1.5zM497 763h1.5v1.5h-1.5zM525 708h1.5v1.5h-1.5zM489 750h1.5v1.5h-1.5zM496 741h1.5v1.5h-1.5zM502 749h1.5v1.5h-1.5zM494 766h1.5v1.5h-1.5zM459 760h1.5v1.5h-1.5zM512 729h1.5v1.5h-1.5zM521 733h1.5v1.5h-1.5zM489 728h1.5v1.5h-1.5zM506 729h1.5v1.5h-1.5zM494 728h1.5v1.5h-1.5zM490 751h1.5v1.5h-1.5zM497 736h1.5v1.5h-1.5zM507 728h1.5v1.5h-1.5zM500 733h1.5v1.5h-1.5zM482 729h1.5v1.5h-1.5zM510 737h1.5v1.5h-1.5zM477 744h1.5v1.5h-1.5zM504 734h1.5v1.5h-1.5zM496 746h1.5v1.5h-1.5zM480 748h1.5v1.5h-1.5zM519 730h1.5v1.5h-1.5zM491 747h1.5v1.5h-1.5zM527 707h1.5v1.5h-1.5zM493 752h1.5v1.5h-1.5zM510 726h1.5v1.5h-1.5zM478 762h1.5v1.5h-1.5zM507 718h1.5v1.5h-1.5zM495 724h1.5v1.5h-1.5zM499 743h1.5v1.5h-1.5zM516 720h1.5v1.5h-1.5zM482 749h1.5v1.5h-1.5zM506 719h1.5v1.5h-1.5zM505 708h1.5v1.5h-1.5zM481 764h1.5v1.5h-1.5zM501 729h1.5v1.5h-1.5zM490 738h1.5v1.5h-1.5zM502 748h1.5v1.5h-1.5zM476 771h1.5v1.5h-1.5zM523 726h1.5v1.5h-1.5zM503 747h1.5v1.5h-1.5zM473 755h1.5v1.5h-1.5zM522 727h1.5v1.5h-1.5zM485 739h1.5v1.5h-1.5zM499 728h1.5v1.5h-1.5zM461 773h1.5v1.5h-1.5zM486 762h1.5v1.5h-1.5zM469 758h1.5v1.5h-1.5zM513 720h1.5v1.5h-1.5zM521 729h1.5v1.5h-1.5zM487 762h1.5v1.5h-1.5zM506 725h1.5v1.5h-1.5zM482 767h1.5v1.5h-1.5zM488 765h1.5v1.5h-1.5zM503 723h1.5v1.5h-1.5zM459 774h1.5v1.5h-1.5zM498 725h1.5v1.5h-1.5zM493 728h1.5v1.5h-1.5zM516 723h1.5v1.5h-1.5zM534 707h1.5v1.5h-1.5zM530 721h1.5v1.5h-1.5zM496 724h1.5v1.5h-1.5zM500 731h1.5v1.5h-1.5zM498 730h1.5v1.5h-1.5zM507 729h1.5v1.5h-1.5zM492 746h1.5v1.5h-1.5zM456 790h1.5v1.5h-1.5zM503 754h1.5v1.5h-1.5zM511 744h1.5v1.5h-1.5zM482 752h1.5v1.5h-1.5zM487 756h1.5v1.5h-1.5zM499 719h1.5v1.5h-1.5zM501 728h1.5v1.5h-1.5zM498 732h1.5v1.5h-1.5zM497 735h1.5v1.5h-1.5zM485 736h1.5v1.5h-1.5zM506 741h1.5v1.5h-1.5zM502 753h1.5v1.5h-1.5zM487 766h1.5v1.5h-1.5zM511 715h1.5v1.5h-1.5zM515 731h1.5v1.5h-1.5zM511 716h1.5v1.5h-1.5zM469 761h1.5v1.5h-1.5zM480 754h1.5v1.5h-1.5zM490 741h1.5v1.5h-1.5zM517 728h1.5v1.5h-1.5zM503 726h1.5v1.5h-1.5zM480 755h1.5v1.5h-1.5zM501 733h1.5v1.5h-1.5zM520 712h1.5v1.5h-1.5zM503 728h1.5v1.5h-1.5zM489 746h1.5v1.5h-1.5zM512 725h1.5v1.5h-1.5zM516 725h1.5v1.5h-1.5zM487 743h1.5v1.5h-1.5zM468 770h1.5v1.5h-1.5zM507 729h1.5v1.5h-1.5zM506 746h1.5v1.5h-1.5zM497 741h1.5v1.5h-1.5zM497 742h1.5v1.5h-1.5zM468 755h1.5v1.5h-1.5zM483 761h1.5v1.5h-1.5zM480 753h1.5v1.5h-1.5zM502 723h1.5v1.5h-1.5zM467 754h1.5v1.5h-1.5zM520 715h1.5v1.5h-1.5zM471 736h1.5v1.5h-1.5zM496 733h1.5v1.5h-1.5zM482 772h1.5v1.5h-1.5zM506 727h1.5v1.5h-1.5zM482 776h1.5v1.5h-1.5zM523 730h1.5v1.5h-1.5zM521 714h1.5v1.5h-1.5zM479 758h1.5v1.5h-1.5zM494 762h1.5v1.5h-1.5zM472 754h1.5v1.5h-1.5zM485 737h1.5v1.5h-1.5zM450 776h1.5v1.5h-1.5zM518 724h1.5v1.5h-1.5zM480 757h1.5v1.5h-1.5zM504 731h1.5v1.5h-1.5zM476 756h1.5v1.5h-1.5zM511 730h1.5v1.5h-1.5zM492 741h1.5v1.5h-1.5zM486 737h1.5v1.5h-1.5zM516 715h1.5v1.5h-1.5zM486 738h1.5v1.5h-1.5zM474 737h1.5v1.5h-1.5zM506 730h1.5v1.5h-1.5zM480 761h1.5v1.5h-1.5zM464 764h1.5v1.5h-1.5zM503 732h1.5v1.5h-1.5zM472 761h1.5v1.5h-1.5zM496 742h1.5v1.5h-1.5zM473 753h1.5v1.5h-1.5zM493 748h1.5v1.5h-1.5zM516 719h1.5v1.5h-1.5zM471 763h1.5v1.5h-1.5zM491 738h1.5v1.5h-1.5zM471 755h1.5v1.5h-1.5zM503 740h1.5v1.5h-1.5zM481 746h1.5v1.5h-1.5zM502 738h1.5v1.5h-1.5zM512 720h1.5v1.5h-1.5zM509 725h1.5v1.5h-1.5zM481 765h1.5v1.5h-1.5zM508 736h1.5v1.5h-1.5zM510 733h1.5v1.5h-1.5zM478 737h1.5v1.5h-1.5zM486 751h1.5v1.5h-1.5zM489 752h1.5v1.5h-1.5zM517 719h1.5v1.5h-1.5zM490 763h1.5v1.5h-1.5zM493 744h1.5v1.5h-1.5zM454 764h1.5v1.5h-1.5zM511 730h1.5v1.5h-1.5zM526 736h1.5v1.5h-1.5zM494 742h1.5v1.5h-1.5zM508 721h1.5v1.5h-1.5zM510 706h1.5v1.5h-1.5zM510 741h1.5v1.5h-1.5zM487 768h1.5v1.5h-1.5zM510 719h1.5v1.5h-1.5zM463 764h1.5v1.5h-1.5zM478 737h1.5v1.5h-1.5zM502 740h1.5v1.5h-1.5zM496 738h1.5v1.5h-1.5zM516 725h1.5v1.5h-1.5zM527 703h1.5v1.5h-1.5zM497 732h1.5v1.5h-1.5zM497 750h1.5v1.5h-1.5zM509 740h1.5v1.5h-1.5zM507 723h1.5v1.5h-1.5zM521 703h1.5v1.5h-1.5zM510 721h1.5v1.5h-1.5zM487 758h1.5v1.5h-1.5zM514 732h1.5v1.5h-1.5zM493 753h1.5v1.5h-1.5zM507 750h1.5v1.5h-1.5zM506 741h1.5v1.5h-1.5zM484 772h1.5v1.5h-1.5zM516 712h1.5v1.5h-1.5zM512 716h1.5v1.5h-1.5zM473 762h1.5v1.5h-1.5zM494 756h1.5v1.5h-1.5zM477 754h1.5v1.5h-1.5zM485 760h1.5v1.5h-1.5zM504 742h1.5v1.5h-1.5zM488 752h1.5v1.5h-1.5zM509 724h1.5v1.5h-1.5zM503 734h1.5v1.5h-1.5zM474 757h1.5v1.5h-1.5zM495 775h1.5v1.5h-1.5zM491 727h1.5v1.5h-1.5zM484 740h1.5v1.5h-1.5zM534 710h1.5v1.5h-1.5zM495 755h1.5v1.5h-1.5zM508 721h1.5v1.5h-1.5zM474 749h1.5v1.5h-1.5zM491 745h1.5v1.5h-1.5zM496 748h1.5v1.5h-1.5zM500 736h1.5v1.5h-1.5zM501 716h1.5v1.5h-1.5zM489 735h1.5v1.5h-1.5zM507 740h1.5v1.5h-1.5zM475 739h1.5v1.5h-1.5zM533 720h1.5v1.5h-1.5zM510 717h1.5v1.5h-1.5zM507 734h1.5v1.5h-1.5zM509 744h1.5v1.5h-1.5zM531 709h1.5v1.5h-1.5zM510 744h1.5v1.5h-1.5zM497 739h1.5v1.5h-1.5zM505 705h1.5v1.5h-1.5zM523 712h1.5v1.5h-1.5zM483 769h1.5v1.5h-1.5zM505 734h1.5v1.5h-1.5zM504 749h1.5v1.5h-1.5zM504 725h1.5v1.5h-1.5zM465 763h1.5v1.5h-1.5zM486 745h1.5v1.5h-1.5zM508 717h1.5v1.5h-1.5zM500 753h1.5v1.5h-1.5zM485 758h1.5v1.5h-1.5zM501 759h1.5v1.5h-1.5zM498 728h1.5v1.5h-1.5zM475 753h1.5v1.5h-1.5zM482 765h1.5v1.5h-1.5zM477 765h1.5v1.5h-1.5zM507 746h1.5v1.5h-1.5zM527 725h1.5v1.5h-1.5zM487 751h1.5v1.5h-1.5zM490 771h1.5v1.5h-1.5zM503 751h1.5v1.5h-1.5zM508 725h1.5v1.5h-1.5zM483 752h1.5v1.5h-1.5zM488 746h1.5v1.5h-1.5zM523 728h1.5v1.5h-1.5zM515 704h1.5v1.5h-1.5zM477 755h1.5v1.5h-1.5zM542 721h1.5v1.5h-1.5zM489 749h1.5v1.5h-1.5zM509 748h1.5v1.5h-1.5zM514 740h1.5v1.5h-1.5zM496 733h1.5v1.5h-1.5zM480 749h1.5v1.5h-1.5zM514 735h1.5v1.5h-1.5zM533 711h1.5v1.5h-1.5zM494 736h1.5v1.5h-1.5zM503 743h1.5v1.5h-1.5zM458 768h1.5v1.5h-1.5zM486 773h1.5v1.5h-1.5zM509 743h1.5v1.5h-1.5zM491 750h1.5v1.5h-1.5zM496 745h1.5v1.5h-1.5zM483 744h1.5v1.5h-1.5zM499 735h1.5v1.5h-1.5zM503 748h1.5v1.5h-1.5zM487 748h1.5v1.5h-1.5zM501 736h1.5v1.5h-1.5zM485 741h1.5v1.5h-1.5zM474 760h1.5v1.5h-1.5zM523 736h1.5v1.5h-1.5zM492 749h1.5v1.5h-1.5zM507 735h1.5v1.5h-1.5zM486 760h1.5v1.5h-1.5zM498 722h1.5v1.5h-1.5zM506 736h1.5v1.5h-1.5zM478 749h1.5v1.5h-1.5zM520 704h1.5v1.5h-1.5zM485 745h1.5v1.5h-1.5zM488 732h1.5v1.5h-1.5zM483 748h1.5v1.5h-1.5zM512 724h1.5v1.5h-1.5zM502 732h1.5v1.5h-1.5zM481 754h1.5v1.5h-1.5zM515 735h1.5v1.5h-1.5zM526 737h1.5v1.5h-1.5zM527 710h1.5v1.5h-1.5zM495 744h1.5v1.5h-1.5zM496 735h1.5v1.5h-1.5zM475 766h1.5v1.5h-1.5zM485 750h1.5v1.5h-1.5zM478 771h1.5v1.5h-1.5zM484 774h1.5v1.5h-1.5zM485 758h1.5v1.5h-1.5zM489 736h1.5v1.5h-1.5zM488 756h1.5v1.5h-1.5zM494 753h1.5v1.5h-1.5zM491 739h1.5v1.5h-1.5zM501 743h1.5v1.5h-1.5zM516 742h1.5v1.5h-1.5zM479 745h1.5v1.5h-1.5zM492 734h1.5v1.5h-1.5zM487 744h1.5v1.5h-1.5zM502 739h1.5v1.5h-1.5zM485 744h1.5v1.5h-1.5zM501 719h1.5v1.5h-1.5zM491 743h1.5v1.5h-1.5zM506 745h1.5v1.5h-1.5zM508 738h1.5v1.5h-1.5zM486 750h1.5v1.5h-1.5zM477 766h1.5v1.5h-1.5zM484 764h1.5v1.5h-1.5zM501 754h1.5v1.5h-1.5zM487 748h1.5v1.5h-1.5zM480 768h1.5v1.5h-1.5zM506 742h1.5v1.5h-1.5zM468 773h1.5v1.5h-1.5zM528 727h1.5v1.5h-1.5zM493 768h1.5v1.5h-1.5zM472 753h1.5v1.5h-1.5zM507 719h1.5v1.5h-1.5zM495 737h1.5v1.5h-1.5zM526 712h1.5v1.5h-1.5zM527 717h1.5v1.5h-1.5zM493 765h1.5v1.5h-1.5zM501 742h1.5v1.5h-1.5zM512 746h1.5v1.5h-1.5zM483 772h1.5v1.5h-1.5zM467 760h1.5v1.5h-1.5zM474 766h1.5v1.5h-1.5zM497 745h1.5v1.5h-1.5zM462 766h1.5v1.5h-1.5zM509 737h1.5v1.5h-1.5zM512 737h1.5v1.5h-1.5zM457 786h1.5v1.5h-1.5zM474 741h1.5v1.5h-1.5zM517 718h1.5v1.5h-1.5zM510 736h1.5v1.5h-1.5zM489 756h1.5v1.5h-1.5zM498 741h1.5v1.5h-1.5zM477 741h1.5v1.5h-1.5zM511 720h1.5v1.5h-1.5zM519 739h1.5v1.5h-1.5zM529 703h1.5v1.5h-1.5zM463 764h1.5v1.5h-1.5zM526 709h1.5v1.5h-1.5zM504 735h1.5v1.5h-1.5zM496 751h1.5v1.5h-1.5zM537 728h1.5v1.5h-1.5zM494 727h1.5v1.5h-1.5zM475 736h1.5v1.5h-1.5zM517 727h1.5v1.5h-1.5zM496 739h1.5v1.5h-1.5zM505 725h1.5v1.5h-1.5zM519 737h1.5v1.5h-1.5zM504 741h1.5v1.5h-1.5zM461 772h1.5v1.5h-1.5zM464 774h1.5v1.5h-1.5zM508 732h1.5v1.5h-1.5zM493 746h1.5v1.5h-1.5zM488 731h1.5v1.5h-1.5zM491 748h1.5v1.5h-1.5zM516 719h1.5v1.5h-1.5zM495 740h1.5v1.5h-1.5zM480 774h1.5v1.5h-1.5zM494 745h1.5v1.5h-1.5zM478 744h1.5v1.5h-1.5zM490 764h1.5v1.5h-1.5zM505 717h1.5v1.5h-1.5zM487 755h1.5v1.5h-1.5zM516 715h1.5v1.5h-1.5zM504 758h1.5v1.5h-1.5zM500 734h1.5v1.5h-1.5zM489 748h1.5v1.5h-1.5zM498 721h1.5v1.5h-1.5zM502 738h1.5v1.5h-1.5zM492 750h1.5v1.5h-1.5zM496 723h1.5v1.5h-1.5zM524 715h1.5v1.5h-1.5zM505 721h1.5v1.5h-1.5zM514 736h1.5v1.5h-1.5zM503 725h1.5v1.5h-1.5zM508 715h1.5v1.5h-1.5zM504 737h1.5v1.5h-1.5zM494 739h1.5v1.5h-1.5zM534 718h1.5v1.5h-1.5zM523 715h1.5v1.5h-1.5zM498 742h1.5v1.5h-1.5zM510 732h1.5v1.5h-1.5zM478 757h1.5v1.5h-1.5zM525 743h1.5v1.5h-1.5zM486 746h1.5v1.5h-1.5zM498 755h1.5v1.5h-1.5zM498 736h1.5v1.5h-1.5zM513 735h1.5v1.5h-1.5zM518 716h1.5v1.5h-1.5zM492 740h1.5v1.5h-1.5zM505 741h1.5v1.5h-1.5zM505 732h1.5v1.5h-1.5zM478 748h1.5v1.5h-1.5zM478 751h1.5v1.5h-1.5zM498 751h1.5v1.5h-1.5zM500 721h1.5v1.5h-1.5zM473 761h1.5v1.5h-1.5zM494 739h1.5v1.5h-1.5zM510 730h1.5v1.5h-1.5zM487 735h1.5v1.5h-1.5zM490 729h1.5v1.5h-1.5zM521 717h1.5v1.5h-1.5zM480 742h1.5v1.5h-1.5zM508 732h1.5v1.5h-1.5zM500 727h1.5v1.5h-1.5zM489 735h1.5v1.5h-1.5zM471 766h1.5v1.5h-1.5zM491 784h1.5v1.5h-1.5zM510 741h1.5v1.5h-1.5zM511 729h1.5v1.5h-1.5zM481 759h1.5v1.5h-1.5zM517 710h1.5v1.5h-1.5zM512 723h1.5v1.5h-1.5zM518 733h1.5v1.5h-1.5zM508 737h1.5v1.5h-1.5zM511 739h1.5v1.5h-1.5zM501 741h1.5v1.5h-1.5zM495 744h1.5v1.5h-1.5zM489 754h1.5v1.5h-1.5zM512 721h1.5v1.5h-1.5zM488 737h1.5v1.5h-1.5zM501 735h1.5v1.5h-1.5zM494 755h1.5v1.5h-1.5zM497 748h1.5v1.5h-1.5zM518 712h1.5v1.5h-1.5zM496 747h1.5v1.5h-1.5zM475 750h1.5v1.5h-1.5zM490 749h1.5v1.5h-1.5zM507 736h1.5v1.5h-1.5zM483 735h1.5v1.5h-1.5zM502 727h1.5v1.5h-1.5zM504 743h1.5v1.5h-1.5zM509 750h1.5v1.5h-1.5zM493 766h1.5v1.5h-1.5zM520 713h1.5v1.5h-1.5zM475 757h1.5v1.5h-1.5zM494 749h1.5v1.5h-1.5zM508 736h1.5v1.5h-1.5zM459 756h1.5v1.5h-1.5zM505 746h1.5v1.5h-1.5zM507 750h1.5v1.5h-1.5zM480 758h1.5v1.5h-1.5zM515 724h1.5v1.5h-1.5zM521 726h1.5v1.5h-1.5zM490 744h1.5v1.5h-1.5zM517 702h1.5v1.5h-1.5zM500 749h1.5v1.5h-1.5zM492 726h1.5v1.5h-1.5zM497 746h1.5v1.5h-1.5zM504 749h1.5v1.5h-1.5zM491 764h1.5v1.5h-1.5zM488 750h1.5v1.5h-1.5zM498 748h1.5v1.5h-1.5zM516 720h1.5v1.5h-1.5zM467 766h1.5v1.5h-1.5zM463 752h1.5v1.5h-1.5zM488 745h1.5v1.5h-1.5zM485 734h1.5v1.5h-1.5zM514 742h1.5v1.5h-1.5zM499 757h1.5v1.5h-1.5zM476 771h1.5v1.5h-1.5zM508 730h1.5v1.5h-1.5zM499 740h1.5v1.5h-1.5zM474 747h1.5v1.5h-1.5zM513 729h1.5v1.5h-1.5zM502 732h1.5v1.5h-1.5zM470 756h1.5v1.5h-1.5zM508 735h1.5v1.5h-1.5zM500 754h1.5v1.5h-1.5zM488 751h1.5v1.5h-1.5zM531 726h1.5v1.5h-1.5zM525 728h1.5v1.5h-1.5zM481 753h1.5v1.5h-1.5zM494 759h1.5v1.5h-1.5zM474 758h1.5v1.5h-1.5zM483 745h1.5v1.5h-1.5zM491 764h1.5v1.5h-1.5zM509 730h1.5v1.5h-1.5zM476 756h1.5v1.5h-1.5zM492 740h1.5v1.5h-1.5zM502 737h1.5v1.5h-1.5zM512 736h1.5v1.5h-1.5zM505 729h1.5v1.5h-1.5zM484 724h1.5v1.5h-1.5zM492 754h1.5v1.5h-1.5zM490 734h1.5v1.5h-1.5zM477 757h1.5v1.5h-1.5zM483 746h1.5v1.5h-1.5zM519 735h1.5v1.5h-1.5zM497 729h1.5v1.5h-1.5zM528 725h1.5v1.5h-1.5zM479 747h1.5v1.5h-1.5zM526 717h1.5v1.5h-1.5zM498 742h1.5v1.5h-1.5zM502 743h1.5v1.5h-1.5zM522 734h1.5v1.5h-1.5zM483 754h1.5v1.5h-1.5zM489 731h1.5v1.5h-1.5zM522 717h1.5v1.5h-1.5zM474 764h1.5v1.5h-1.5zM484 740h1.5v1.5h-1.5zM517 724h1.5v1.5h-1.5zM507 744h1.5v1.5h-1.5zM520 718h1.5v1.5h-1.5zM481 751h1.5v1.5h-1.5zM506 744h1.5v1.5h-1.5zM513 715h1.5v1.5h-1.5zM498 752h1.5v1.5h-1.5zM487 750h1.5v1.5h-1.5zM509 743h1.5v1.5h-1.5zM493 752h1.5v1.5h-1.5zM498 745h1.5v1.5h-1.5zM496 743h1.5v1.5h-1.5zM474 753h1.5v1.5h-1.5zM480 756h1.5v1.5h-1.5zM499 741h1.5v1.5h-1.5zM497 723h1.5v1.5h-1.5zM501 731h1.5v1.5h-1.5zM470 759h1.5v1.5h-1.5zM501 722h1.5v1.5h-1.5zM511 713h1.5v1.5h-1.5zM494 746h1.5v1.5h-1.5zM478 749h1.5v1.5h-1.5zM502 729h1.5v1.5h-1.5zM483 754h1.5v1.5h-1.5zM492 756h1.5v1.5h-1.5zM484 736h1.5v1.5h-1.5zM483 757h1.5v1.5h-1.5zM486 727h1.5v1.5h-1.5zM477 762h1.5v1.5h-1.5zM495 726h1.5v1.5h-1.5zM501 735h1.5v1.5h-1.5zM496 741h1.5v1.5h-1.5zM501 737h1.5v1.5h-1.5zM478 731h1.5v1.5h-1.5zM461 753h1.5v1.5h-1.5zM499 754h1.5v1.5h-1.5zM496 744h1.5v1.5h-1.5zM504 737h1.5v1.5h-1.5zM466 778h1.5v1.5h-1.5zM528 707h1.5v1.5h-1.5zM516 731h1.5v1.5h-1.5zM519 712h1.5v1.5h-1.5zM513 706h1.5v1.5h-1.5zM502 740h1.5v1.5h-1.5zM488 737h1.5v1.5h-1.5zM508 717h1.5v1.5h-1.5zM497 743h1.5v1.5h-1.5zM490 745h1.5v1.5h-1.5zM489 741h1.5v1.5h-1.5zM487 756h1.5v1.5h-1.5zM513 727h1.5v1.5h-1.5zM488 751h1.5v1.5h-1.5zM464 749h1.5v1.5h-1.5zM507 718h1.5v1.5h-1.5zM501 752h1.5v1.5h-1.5zM505 731h1.5v1.5h-1.5zM477 741h1.5v1.5h-1.5zM500 736h1.5v1.5h-1.5zM465 764h1.5v1.5h-1.5zM471 759h1.5v1.5h-1.5zM495 726h1.5v1.5h-1.5zM491 737h1.5v1.5h-1.5zM511 732h1.5v1.5h-1.5zM498 726h1.5v1.5h-1.5zM481 773h1.5v1.5h-1.5zM487 736h1.5v1.5h-1.5zM493 758h1.5v1.5h-1.5zM483 762h1.5v1.5h-1.5zM476 783h1.5v1.5h-1.5zM494 737h1.5v1.5h-1.5zM472 745h1.5v1.5h-1.5zM485 742h1.5v1.5h-1.5zM502 734h1.5v1.5h-1.5zM512 718h1.5v1.5h-1.5zM473 743h1.5v1.5h-1.5zM487 771h1.5v1.5h-1.5zM504 732h1.5v1.5h-1.5zM490 760h1.5v1.5h-1.5zM485 730h1.5v1.5h-1.5zM453 771h1.5v1.5h-1.5zM494 723h1.5v1.5h-1.5zM479 770h1.5v1.5h-1.5zM519 695h1.5v1.5h-1.5zM484 749h1.5v1.5h-1.5zM458 771h1.5v1.5h-1.5zM487 733h1.5v1.5h-1.5zM494 730h1.5v1.5h-1.5zM480 776h1.5v1.5h-1.5zM467 767h1.5v1.5h-1.5zM503 744h1.5v1.5h-1.5zM480 767h1.5v1.5h-1.5zM517 729h1.5v1.5h-1.5zM471 772h1.5v1.5h-1.5zM502 731h1.5v1.5h-1.5zM489 748h1.5v1.5h-1.5zM501 739h1.5v1.5h-1.5zM478 771h1.5v1.5h-1.5zM489 747h1.5v1.5h-1.5zM496 739h1.5v1.5h-1.5zM509 724h1.5v1.5h-1.5zM490 755h1.5v1.5h-1.5zM488 740h1.5v1.5h-1.5zM490 751h1.5v1.5h-1.5zM481 763h1.5v1.5h-1.5zM476 763h1.5v1.5h-1.5zM514 726h1.5v1.5h-1.5zM510 729h1.5v1.5h-1.5zM520 720h1.5v1.5h-1.5zM502 727h1.5v1.5h-1.5zM482 741h1.5v1.5h-1.5zM483 778h1.5v1.5h-1.5zM493 745h1.5v1.5h-1.5zM514 726h1.5v1.5h-1.5zM507 723h1.5v1.5h-1.5zM489 746h1.5v1.5h-1.5zM484 735h1.5v1.5h-1.5zM508 723h1.5v1.5h-1.5zM492 737h1.5v1.5h-1.5zM500 737h1.5v1.5h-1.5zM495 760h1.5v1.5h-1.5zM500 731h1.5v1.5h-1.5zM524 729h1.5v1.5h-1.5zM491 720h1.5v1.5h-1.5zM481 760h1.5v1.5h-1.5zM475 766h1.5v1.5h-1.5zM477 776h1.5v1.5h-1.5zM492 742h1.5v1.5h-1.5zM472 756h1.5v1.5h-1.5zM464 774h1.5v1.5h-1.5zM496 747h1.5v1.5h-1.5zM505 736h1.5v1.5h-1.5zM498 732h1.5v1.5h-1.5zM513 714h1.5v1.5h-1.5zM506 733h1.5v1.5h-1.5zM490 761h1.5v1.5h-1.5zM499 731h1.5v1.5h-1.5zM518 733h1.5v1.5h-1.5zM512 720h1.5v1.5h-1.5zM485 756h1.5v1.5h-1.5zM494 741h1.5v1.5h-1.5zM472 762h1.5v1.5h-1.5zM490 744h1.5v1.5h-1.5zM485 754h1.5v1.5h-1.5zM479 753h1.5v1.5h-1.5zM508 732h1.5v1.5h-1.5zM508 726h1.5v1.5h-1.5zM475 776h1.5v1.5h-1.5zM516 709h1.5v1.5h-1.5zM473 757h1.5v1.5h-1.5zM491 753h1.5v1.5h-1.5zM524 721h1.5v1.5h-1.5zM507 741h1.5v1.5h-1.5zM485 750h1.5v1.5h-1.5zM503 739h1.5v1.5h-1.5zM495 741h1.5v1.5h-1.5zM524 720h1.5v1.5h-1.5zM500 733h1.5v1.5h-1.5zM517 709h1.5v1.5h-1.5zM496 734h1.5v1.5h-1.5zM480 759h1.5v1.5h-1.5zM511 732h1.5v1.5h-1.5zM479 748h1.5v1.5h-1.5zM496 735h1.5v1.5h-1.5zM513 734h1.5v1.5h-1.5zM451 784h1.5v1.5h-1.5zM484 750h1.5v1.5h-1.5zM487 729h1.5v1.5h-1.5zM497 744h1.5v1.5h-1.5zM473 774h1.5v1.5h-1.5zM496 739h1.5v1.5h-1.5zM469 745h1.5v1.5h-1.5zM484 762h1.5v1.5h-1.5zM507 717h1.5v1.5h-1.5zM515 733h1.5v1.5h-1.5zM494 721h1.5v1.5h-1.5zM474 748h1.5v1.5h-1.5zM513 737h1.5v1.5h-1.5zM498 757h1.5v1.5h-1.5zM493 745h1.5v1.5h-1.5zM503 736h1.5v1.5h-1.5zM486 758h1.5v1.5h-1.5zM497 717h1.5v1.5h-1.5zM496 754h1.5v1.5h-1.5zM494 752h1.5v1.5h-1.5zM511 722h1.5v1.5h-1.5zM480 772h1.5v1.5h-1.5zM480 741h1.5v1.5h-1.5zM511 719h1.5v1.5h-1.5zM480 745h1.5v1.5h-1.5zM490 748h1.5v1.5h-1.5zM474 761h1.5v1.5h-1.5zM500 746h1.5v1.5h-1.5zM498 748h1.5v1.5h-1.5zM517 707h1.5v1.5h-1.5zM481 751h1.5v1.5h-1.5zM495 761h1.5v1.5h-1.5zM480 756h1.5v1.5h-1.5zM475 746h1.5v1.5h-1.5zM493 734h1.5v1.5h-1.5zM486 741h1.5v1.5h-1.5zM482 752h1.5v1.5h-1.5zM496 728h1.5v1.5h-1.5zM514 738h1.5v1.5h-1.5zM506 720h1.5v1.5h-1.5zM512 744h1.5v1.5h-1.5zM498 733h1.5v1.5h-1.5zM481 746h1.5v1.5h-1.5zM500 751h1.5v1.5h-1.5zM487 748h1.5v1.5h-1.5zM485 747h1.5v1.5h-1.5zM521 712h1.5v1.5h-1.5zM497 740h1.5v1.5h-1.5zM520 741h1.5v1.5h-1.5zM515 721h1.5v1.5h-1.5zM499 752h1.5v1.5h-1.5zM464 787h1.5v1.5h-1.5zM479 751h1.5v1.5h-1.5zM492 749h1.5v1.5h-1.5zM496 738h1.5v1.5h-1.5zM484 751h1.5v1.5h-1.5zM492 720h1.5v1.5h-1.5zM507 721h1.5v1.5h-1.5zM510 728h1.5v1.5h-1.5zM485 746h1.5v1.5h-1.5zM488 753h1.5v1.5h-1.5zM477 750h1.5v1.5h-1.5zM500 751h1.5v1.5h-1.5zM498 733h1.5v1.5h-1.5zM482 752h1.5v1.5h-1.5zM510 747h1.5v1.5h-1.5zM498 733h1.5v1.5h-1.5zM460 759h1.5v1.5h-1.5zM521 726h1.5v1.5h-1.5zM507 729h1.5v1.5h-1.5zM504 740h1.5v1.5h-1.5zM481 750h1.5v1.5h-1.5zM500 742h1.5v1.5h-1.5zM520 725h1.5v1.5h-1.5zM476 767h1.5v1.5h-1.5zM487 760h1.5v1.5h-1.5zM502 758h1.5v1.5h-1.5zM470 768h1.5v1.5h-1.5zM475 762h1.5v1.5h-1.5zM501 723h1.5v1.5h-1.5zM485 764h1.5v1.5h-1.5zM483 767h1.5v1.5h-1.5zM489 753h1.5v1.5h-1.5zM479 751h1.5v1.5h-1.5zM532 708h1.5v1.5h-1.5zM505 749h1.5v1.5h-1.5zM473 770h1.5v1.5h-1.5zM487 759h1.5v1.5h-1.5zM480 733h1.5v1.5h-1.5zM508 734h1.5v1.5h-1.5zM503 745h1.5v1.5h-1.5zM513 724h1.5v1.5h-1.5zM478 747h1.5v1.5h-1.5zM498 720h1.5v1.5h-1.5zM510 726h1.5v1.5h-1.5zM494 738h1.5v1.5h-1.5zM493 741h1.5v1.5h-1.5zM532 717h1.5v1.5h-1.5zM485 754h1.5v1.5h-1.5zM504 729h1.5v1.5h-1.5zM495 755h1.5v1.5h-1.5zM499 743h1.5v1.5h-1.5zM519 723h1.5v1.5h-1.5zM492 719h1.5v1.5h-1.5zM458 771h1.5v1.5h-1.5zM502 730h1.5v1.5h-1.5zM493 740h1.5v1.5h-1.5zM524 725h1.5v1.5h-1.5zM473 768h1.5v1.5h-1.5zM492 739h1.5v1.5h-1.5zM526 712h1.5v1.5h-1.5zM492 732h1.5v1.5h-1.5zM514 724h1.5v1.5h-1.5zM505 735h1.5v1.5h-1.5zM505 734h1.5v1.5h-1.5zM523 730h1.5v1.5h-1.5zM500 724h1.5v1.5h-1.5zM498 747h1.5v1.5h-1.5zM503 749h1.5v1.5h-1.5zM496 742h1.5v1.5h-1.5zM472 770h1.5v1.5h-1.5zM480 754h1.5v1.5h-1.5zM456 776h1.5v1.5h-1.5zM508 726h1.5v1.5h-1.5zM478 759h1.5v1.5h-1.5zM496 755h1.5v1.5h-1.5zM486 756h1.5v1.5h-1.5zM490 754h1.5v1.5h-1.5zM479 764h1.5v1.5h-1.5zM522 733h1.5v1.5h-1.5zM494 725h1.5v1.5h-1.5zM497 742h1.5v1.5h-1.5zM468 774h1.5v1.5h-1.5zM482 758h1.5v1.5h-1.5zM534 711h1.5v1.5h-1.5zM516 706h1.5v1.5h-1.5zM483 757h1.5v1.5h-1.5zM479 757h1.5v1.5h-1.5zM520 708h1.5v1.5h-1.5zM518 742h1.5v1.5h-1.5zM533 734h1.5v1.5h-1.5zM517 734h1.5v1.5h-1.5zM506 745h1.5v1.5h-1.5zM512 727h1.5v1.5h-1.5zM496 730h1.5v1.5h-1.5zM484 746h1.5v1.5h-1.5zM515 726h1.5v1.5h-1.5zM511 734h1.5v1.5h-1.5zM471 767h1.5v1.5h-1.5zM523 718h1.5v1.5h-1.5zM537 712h1.5v1.5h-1.5zM507 725h1.5v1.5h-1.5zM483 744h1.5v1.5h-1.5zM526 731h1.5v1.5h-1.5zM496 767h1.5v1.5h-1.5zM509 742h1.5v1.5h-1.5zM476 771h1.5v1.5h-1.5zM506 755h1.5v1.5h-1.5zM502 735h1.5v1.5h-1.5zM491 747h1.5v1.5h-1.5zM457 786h1.5v1.5h-1.5zM509 722h1.5v1.5h-1.5zM509 719h1.5v1.5h-1.5zM524 710h1.5v1.5h-1.5zM506 729h1.5v1.5h-1.5zM463 766h1.5v1.5h-1.5zM497 731h1.5v1.5h-1.5zM481 744h1.5v1.5h-1.5zM474 745h1.5v1.5h-1.5zM473 755h1.5v1.5h-1.5zM497 722h1.5v1.5h-1.5zM506 751h1.5v1.5h-1.5zM506 727h1.5v1.5h-1.5zM539 692h1.5v1.5h-1.5zM517 724h1.5v1.5h-1.5zM499 726h1.5v1.5h-1.5zM511 723h1.5v1.5h-1.5zM502 739h1.5v1.5h-1.5zM490 735h1.5v1.5h-1.5zM495 746h1.5v1.5h-1.5zM510 738h1.5v1.5h-1.5zM493 765h1.5v1.5h-1.5zM474 771h1.5v1.5h-1.5zM510 737h1.5v1.5h-1.5zM533 709h1.5v1.5h-1.5zM507 736h1.5v1.5h-1.5zM505 724h1.5v1.5h-1.5zM514 720h1.5v1.5h-1.5zM477 772h1.5v1.5h-1.5zM498 754h1.5v1.5h-1.5zM503 740h1.5v1.5h-1.5zM502 737h1.5v1.5h-1.5zM496 740h1.5v1.5h-1.5zM478 756h1.5v1.5h-1.5zM536 716h1.5v1.5h-1.5zM497 725h1.5v1.5h-1.5zM497 740h1.5v1.5h-1.5zM476 742h1.5v1.5h-1.5zM529 713h1.5v1.5h-1.5zM495 745h1.5v1.5h-1.5zM450 771h1.5v1.5h-1.5zM469 755h1.5v1.5h-1.5zM502 741h1.5v1.5h-1.5zM469 790h1.5v1.5h-1.5zM516 730h1.5v1.5h-1.5zM478 750h1.5v1.5h-1.5zM498 731h1.5v1.5h-1.5zM518 725h1.5v1.5h-1.5zM502 751h1.5v1.5h-1.5zM492 741h1.5v1.5h-1.5zM473 753h1.5v1.5h-1.5zM527 715h1.5v1.5h-1.5zM478 745h1.5v1.5h-1.5zM497 731h1.5v1.5h-1.5zM483 753h1.5v1.5h-1.5zM487 739h1.5v1.5h-1.5zM508 728h1.5v1.5h-1.5zM494 750h1.5v1.5h-1.5zM503 738h1.5v1.5h-1.5zM489 750h1.5v1.5h-1.5zM523 723h1.5v1.5h-1.5zM482 741h1.5v1.5h-1.5zM488 738h1.5v1.5h-1.5zM516 732h1.5v1.5h-1.5zM460 764h1.5v1.5h-1.5zM506 743h1.5v1.5h-1.5zM505 733h1.5v1.5h-1.5zM500 741h1.5v1.5h-1.5zM499 745h1.5v1.5h-1.5zM474 763h1.5v1.5h-1.5zM482 766h1.5v1.5h-1.5zM495 747h1.5v1.5h-1.5zM489 773h1.5v1.5h-1.5zM487 755h1.5v1.5h-1.5zM509 720h1.5v1.5h-1.5zM492 719h1.5v1.5h-1.5zM484 759h1.5v1.5h-1.5zM458 762h1.5v1.5h-1.5zM478 768h1.5v1.5h-1.5zM474 750h1.5v1.5h-1.5zM499 727h1.5v1.5h-1.5zM504 743h1.5v1.5h-1.5zM476 746h1.5v1.5h-1.5zM477 759h1.5v1.5h-1.5zM523 692h1.5v1.5h-1.5zM476 751h1.5v1.5h-1.5zM467 781h1.5v1.5h-1.5zM496 730h1.5v1.5h-1.5zM486 737h1.5v1.5h-1.5zM470 763h1.5v1.5h-1.5zM482 763h1.5v1.5h-1.5zM513 707h1.5v1.5h-1.5zM510 719h1.5v1.5h-1.5zM502 745h1.5v1.5h-1.5zM496 756h1.5v1.5h-1.5zM503 729h1.5v1.5h-1.5zM535 709h1.5v1.5h-1.5zM467 782h1.5v1.5h-1.5zM498 727h1.5v1.5h-1.5zM485 745h1.5v1.5h-1.5zM491 744h1.5v1.5h-1.5zM486 743h1.5v1.5h-1.5zM515 721h1.5v1.5h-1.5zM493 757h1.5v1.5h-1.5zM510 743h1.5v1.5h-1.5zM518 726h1.5v1.5h-1.5zM499 738h1.5v1.5h-1.5zM519 731h1.5v1.5h-1.5zM484 743h1.5v1.5h-1.5zM503 730h1.5v1.5h-1.5zM506 727h1.5v1.5h-1.5zM476 757h1.5v1.5h-1.5zM541 709h1.5v1.5h-1.5zM510 712h1.5v1.5h-1.5zM507 730h1.5v1.5h-1.5zM528 699h1.5v1.5h-1.5zM512 733h1.5v1.5h-1.5zM520 730h1.5v1.5h-1.5zM494 731h1.5v1.5h-1.5zM517 731h1.5v1.5h-1.5zM497 745h1.5v1.5h-1.5zM495 732h1.5v1.5h-1.5zM516 715h1.5v1.5h-1.5zM510 719h1.5v1.5h-1.5zM519 714h1.5v1.5h-1.5zM489 741h1.5v1.5h-1.5zM521 715h1.5v1.5h-1.5zM492 754h1.5v1.5h-1.5zM514 731h1.5v1.5h-1.5zM497 733h1.5v1.5h-1.5zM491 727h1.5v1.5h-1.5zM546 706h1.5v1.5h-1.5zM506 746h1.5v1.5h-1.5zM508 722h1.5v1.5h-1.5zM493 733h1.5v1.5h-1.5zM487 744h1.5v1.5h-1.5zM513 727h1.5v1.5h-1.5zM510 727h1.5v1.5h-1.5zM530 705h1.5v1.5h-1.5zM483 745h1.5v1.5h-1.5zM505 707h1.5v1.5h-1.5zM498 735h1.5v1.5h-1.5zM488 747h1.5v1.5h-1.5zM512 735h1.5v1.5h-1.5zM520 717h1.5v1.5h-1.5zM526 715h1.5v1.5h-1.5zM495 751h1.5v1.5h-1.5zM496 768h1.5v1.5h-1.5zM506 737h1.5v1.5h-1.5zM492 755h1.5v1.5h-1.5zM515 728h1.5v1.5h-1.5zM509 727h1.5v1.5h-1.5zM479 736h1.5v1.5h-1.5zM512 719h1.5v1.5h-1.5zM501 728h1.5v1.5h-1.5zM508 734h1.5v1.5h-1.5zM489 768h1.5v1.5h-1.5zM501 757h1.5v1.5h-1.5zM476 756h1.5v1.5h-1.5zM506 715h1.5v1.5h-1.5zM475 757h1.5v1.5h-1.5zM487 741h1.5v1.5h-1.5zM483 751h1.5v1.5h-1.5zM511 715h1.5v1.5h-1.5zM531 712h1.5v1.5h-1.5zM480 764h1.5v1.5h-1.5zM497 744h1.5v1.5h-1.5zM534 714h1.5v1.5h-1.5zM489 746h1.5v1.5h-1.5zM480 759h1.5v1.5h-1.5zM489 759h1.5v1.5h-1.5zM501 751h1.5v1.5h-1.5zM468 762h1.5v1.5h-1.5zM505 735h1.5v1.5h-1.5zM479 746h1.5v1.5h-1.5zM505 721h1.5v1.5h-1.5zM507 731h1.5v1.5h-1.5zM491 740h1.5v1.5h-1.5zM522 709h1.5v1.5h-1.5zM450 785h1.5v1.5h-1.5zM514 723h1.5v1.5h-1.5zM501 755h1.5v1.5h-1.5zM494 736h1.5v1.5h-1.5zM509 744h1.5v1.5h-1.5zM508 741h1.5v1.5h-1.5zM462 762h1.5v1.5h-1.5zM499 734h1.5v1.5h-1.5zM455 783h1.5v1.5h-1.5zM490 751h1.5v1.5h-1.5zM511 740h1.5v1.5h-1.5zM521 716h1.5v1.5h-1.5zM486 735h1.5v1.5h-1.5zM506 737h1.5v1.5h-1.5zM513 720h1.5v1.5h-1.5zM476 747h1.5v1.5h-1.5zM506 736h1.5v1.5h-1.5zM517 734h1.5v1.5h-1.5zM493 723h1.5v1.5h-1.5zM477 746h1.5v1.5h-1.5zM487 745h1.5v1.5h-1.5zM486 769h1.5v1.5h-1.5zM504 720h1.5v1.5h-1.5zM460 778h1.5v1.5h-1.5zM487 753h1.5v1.5h-1.5zM492 724h1.5v1.5h-1.5zM490 734h1.5v1.5h-1.5zM500 742h1.5v1.5h-1.5zM497 749h1.5v1.5h-1.5zM515 739h1.5v1.5h-1.5zM472 768h1.5v1.5h-1.5zM513 728h1.5v1.5h-1.5zM496 749h1.5v1.5h-1.5zM515 743h1.5v1.5h-1.5zM506 707h1.5v1.5h-1.5zM500 750h1.5v1.5h-1.5zM490 750h1.5v1.5h-1.5zM493 728h1.5v1.5h-1.5zM473 786h1.5v1.5h-1.5zM473 759h1.5v1.5h-1.5zM491 752h1.5v1.5h-1.5zM526 724h1.5v1.5h-1.5zM493 747h1.5v1.5h-1.5zM502 733h1.5v1.5h-1.5zM510 755h1.5v1.5h-1.5zM519 709h1.5v1.5h-1.5zM460 765h1.5v1.5h-1.5zM511 718h1.5v1.5h-1.5zM483 741h1.5v1.5h-1.5zM495 742h1.5v1.5h-1.5zM495 759h1.5v1.5h-1.5zM505 752h1.5v1.5h-1.5zM474 755h1.5v1.5h-1.5zM466 746h1.5v1.5h-1.5zM503 727h1.5v1.5h-1.5zM491 733h1.5v1.5h-1.5zM472 759h1.5v1.5h-1.5zM528 723h1.5v1.5h-1.5zM509 749h1.5v1.5h-1.5zM505 743h1.5v1.5h-1.5zM466 743h1.5v1.5h-1.5zM492 738h1.5v1.5h-1.5zM507 725h1.5v1.5h-1.5zM514 708h1.5v1.5h-1.5zM531 720h1.5v1.5h-1.5zM489 744h1.5v1.5h-1.5zM483 728h1.5v1.5h-1.5zM503 747h1.5v1.5h-1.5zM497 746h1.5v1.5h-1.5zM489 730h1.5v1.5h-1.5zM522 714h1.5v1.5h-1.5zM485 752h1.5v1.5h-1.5zM473 739h1.5v1.5h-1.5zM490 733h1.5v1.5h-1.5zM516 737h1.5v1.5h-1.5zM515 721h1.5v1.5h-1.5zM488 742h1.5v1.5h-1.5zM478 763h1.5v1.5h-1.5zM521 719h1.5v1.5h-1.5zM489 738h1.5v1.5h-1.5zM489 730h1.5v1.5h-1.5zM500 727h1.5v1.5h-1.5zM508 738h1.5v1.5h-1.5zM499 741h1.5v1.5h-1.5zM518 738h1.5v1.5h-1.5zM491 748h1.5v1.5h-1.5zM501 740h1.5v1.5h-1.5zM485 758h1.5v1.5h-1.5zM490 740h1.5v1.5h-1.5zM483 737h1.5v1.5h-1.5zM506 722h1.5v1.5h-1.5zM500 724h1.5v1.5h-1.5zM487 743h1.5v1.5h-1.5zM488 751h1.5v1.5h-1.5zM500 727h1.5v1.5h-1.5zM494 757h1.5v1.5h-1.5zM516 712h1.5v1.5h-1.5zM497 758h1.5v1.5h-1.5zM490 748h1.5v1.5h-1.5zM468 759h1.5v1.5h-1.5zM501 739h1.5v1.5h-1.5zM488 735h1.5v1.5h-1.5zM503 723h1.5v1.5h-1.5zM483 763h1.5v1.5h-1.5zM481 737h1.5v1.5h-1.5zM509 714h1.5v1.5h-1.5zM515 729h1.5v1.5h-1.5zM466 764h1.5v1.5h-1.5zM498 734h1.5v1.5h-1.5zM494 726h1.5v1.5h-1.5zM483 758h1.5v1.5h-1.5zM490 743h1.5v1.5h-1.5zM492 733h1.5v1.5h-1.5zM462 744h1.5v1.5h-1.5zM500 738h1.5v1.5h-1.5zM493 742h1.5v1.5h-1.5zM492 761h1.5v1.5h-1.5zM497 726h1.5v1.5h-1.5zM506 734h1.5v1.5h-1.5zM494 730h1.5v1.5h-1.5zM484 767h1.5v1.5h-1.5zM489 733h1.5v1.5h-1.5zM473 732h1.5v1.5h-1.5zM494 758h1.5v1.5h-1.5zM495 729h1.5v1.5h-1.5zM511 737h1.5v1.5h-1.5zM515 735h1.5v1.5h-1.5zM469 765h1.5v1.5h-1.5zM520 734h1.5v1.5h-1.5zM498 754h1.5v1.5h-1.5zM511 728h1.5v1.5h-1.5zM517 722h1.5v1.5h-1.5zM501 746h1.5v1.5h-1.5zM477 759h1.5v1.5h-1.5zM484 761h1.5v1.5h-1.5zM500 744h1.5v1.5h-1.5zM498 747h1.5v1.5h-1.5zM484 768h1.5v1.5h-1.5zM494 732h1.5v1.5h-1.5zM521 721h1.5v1.5h-1.5zM505 743h1.5v1.5h-1.5zM471 753h1.5v1.5h-1.5zM518 721h1.5v1.5h-1.5zM464 754h1.5v1.5h-1.5zM503 731h1.5v1.5h-1.5zM504 735h1.5v1.5h-1.5zM480 770h1.5v1.5h-1.5zM514 733h1.5v1.5h-1.5zM485 746h1.5v1.5h-1.5zM510 722h1.5v1.5h-1.5zM484 766h1.5v1.5h-1.5zM498 745h1.5v1.5h-1.5zM520 723h1.5v1.5h-1.5zM484 747h1.5v1.5h-1.5zM511 739h1.5v1.5h-1.5zM477 744h1.5v1.5h-1.5zM490 750h1.5v1.5h-1.5zM502 747h1.5v1.5h-1.5zM488 738h1.5v1.5h-1.5zM487 737h1.5v1.5h-1.5zM495 737h1.5v1.5h-1.5zM509 714h1.5v1.5h-1.5zM499 768h1.5v1.5h-1.5zM498 737h1.5v1.5h-1.5zM489 752h1.5v1.5h-1.5zM487 742h1.5v1.5h-1.5zM525 706h1.5v1.5h-1.5zM503 735h1.5v1.5h-1.5zM489 756h1.5v1.5h-1.5zM498 748h1.5v1.5h-1.5zM467 760h1.5v1.5h-1.5zM462 774h1.5v1.5h-1.5zM491 728h1.5v1.5h-1.5zM488 760h1.5v1.5h-1.5zM487 750h1.5v1.5h-1.5zM497 737h1.5v1.5h-1.5zM492 741h1.5v1.5h-1.5zM503 730h1.5v1.5h-1.5zM493 734h1.5v1.5h-1.5zM494 759h1.5v1.5h-1.5zM490 752h1.5v1.5h-1.5zM517 729h1.5v1.5h-1.5zM471 763h1.5v1.5h-1.5zM486 746h1.5v1.5h-1.5zM474 754h1.5v1.5h-1.5zM503 742h1.5v1.5h-1.5zM488 755h1.5v1.5h-1.5zM511 749h1.5v1.5h-1.5zM504 719h1.5v1.5h-1.5zM479 750h1.5v1.5h-1.5zM492 735h1.5v1.5h-1.5zM464 765h1.5v1.5h-1.5zM497 739h1.5v1.5h-1.5zM516 740h1.5v1.5h-1.5zM462 761h1.5v1.5h-1.5zM474 766h1.5v1.5h-1.5zM499 747h1.5v1.5h-1.5zM503 733h1.5v1.5h-1.5zM517 720h1.5v1.5h-1.5zM496 736h1.5v1.5h-1.5zM510 731h1.5v1.5h-1.5zM504 735h1.5v1.5h-1.5zM469 765h1.5v1.5h-1.5zM498 753h1.5v1.5h-1.5zM503 745h1.5v1.5h-1.5zM469 771h1.5v1.5h-1.5zM470 757h1.5v1.5h-1.5zM478 733h1.5v1.5h-1.5zM478 751h1.5v1.5h-1.5zM513 729h1.5v1.5h-1.5zM532 719h1.5v1.5h-1.5zM477 740h1.5v1.5h-1.5zM497 753h1.5v1.5h-1.5zM500 723h1.5v1.5h-1.5zM494 733h1.5v1.5h-1.5zM481 756h1.5v1.5h-1.5zM475 770h1.5v1.5h-1.5zM520 722h1.5v1.5h-1.5zM496 739h1.5v1.5h-1.5zM506 733h1.5v1.5h-1.5zM514 722h1.5v1.5h-1.5zM499 734h1.5v1.5h-1.5zM498 738h1.5v1.5h-1.5zM493 761h1.5v1.5h-1.5zM505 736h1.5v1.5h-1.5zM513 747h1.5v1.5h-1.5zM486 767h1.5v1.5h-1.5zM478 754h1.5v1.5h-1.5zM501 727h1.5v1.5h-1.5zM455 760h1.5v1.5h-1.5zM496 755h1.5v1.5h-1.5zM494 712h1.5v1.5h-1.5zM508 751h1.5v1.5h-1.5zM513 715h1.5v1.5h-1.5zM480 755h1.5v1.5h-1.5zM508 744h1.5v1.5h-1.5zM488 745h1.5v1.5h-1.5zM510 733h1.5v1.5h-1.5zM498 727h1.5v1.5h-1.5zM509 732h1.5v1.5h-1.5zM459 766h1.5v1.5h-1.5zM487 738h1.5v1.5h-1.5zM504 753h1.5v1.5h-1.5zM483 762h1.5v1.5h-1.5zM459 767h1.5v1.5h-1.5zM481 763h1.5v1.5h-1.5zM497 719h1.5v1.5h-1.5zM473 747h1.5v1.5h-1.5zM474 749h1.5v1.5h-1.5zM488 727h1.5v1.5h-1.5zM515 729h1.5v1.5h-1.5zM519 733h1.5v1.5h-1.5zM474 756h1.5v1.5h-1.5zM483 750h1.5v1.5h-1.5zM490 724h1.5v1.5h-1.5zM468 761h1.5v1.5h-1.5zM509 706h1.5v1.5h-1.5zM503 717h1.5v1.5h-1.5zM509 747h1.5v1.5h-1.5zM493 732h1.5v1.5h-1.5zM456 770h1.5v1.5h-1.5zM514 736h1.5v1.5h-1.5zM482 758h1.5v1.5h-1.5zM508 719h1.5v1.5h-1.5zM492 759h1.5v1.5h-1.5zM510 718h1.5v1.5h-1.5zM507 722h1.5v1.5h-1.5zM480 745h1.5v1.5h-1.5zM525 715h1.5v1.5h-1.5zM462 748h1.5v1.5h-1.5zM493 745h1.5v1.5h-1.5zM491 742h1.5v1.5h-1.5zM490 760h1.5v1.5h-1.5zM504 730h1.5v1.5h-1.5zM467 762h1.5v1.5h-1.5zM525 724h1.5v1.5h-1.5zM509 715h1.5v1.5h-1.5zM488 770h1.5v1.5h-1.5zM524 728h1.5v1.5h-1.5zM494 732h1.5v1.5h-1.5zM513 736h1.5v1.5h-1.5zM491 725h1.5v1.5h-1.5zM502 758h1.5v1.5h-1.5zM506 715h1.5v1.5h-1.5zM516 737h1.5v1.5h-1.5zM518 719h1.5v1.5h-1.5zM475 761h1.5v1.5h-1.5zM506 725h1.5v1.5h-1.5zM510 726h1.5v1.5h-1.5zM510 742h1.5v1.5h-1.5zM500 719h1.5v1.5h-1.5zM494 739h1.5v1.5h-1.5zM479 752h1.5v1.5h-1.5zM490 750h1.5v1.5h-1.5zM491 738h1.5v1.5h-1.5zM480 757h1.5v1.5h-1.5zM510 736h1.5v1.5h-1.5zM505 720h1.5v1.5h-1.5zM489 746h1.5v1.5h-1.5zM507 717h1.5v1.5h-1.5zM502 713h1.5v1.5h-1.5zM527 695h1.5v1.5h-1.5zM459 767h1.5v1.5h-1.5zM523 721h1.5v1.5h-1.5zM487 742h1.5v1.5h-1.5zM505 730h1.5v1.5h-1.5zM528 728h1.5v1.5h-1.5zM483 774h1.5v1.5h-1.5zM516 744h1.5v1.5h-1.5zM486 759h1.5v1.5h-1.5zM526 746h1.5v1.5h-1.5zM511 717h1.5v1.5h-1.5zM491 752h1.5v1.5h-1.5zM476 771h1.5v1.5h-1.5zM479 761h1.5v1.5h-1.5zM501 729h1.5v1.5h-1.5zM525 717h1.5v1.5h-1.5zM513 728h1.5v1.5h-1.5zM476 742h1.5v1.5h-1.5zM485 760h1.5v1.5h-1.5zM520 706h1.5v1.5h-1.5zM489 735h1.5v1.5h-1.5zM462 773h1.5v1.5h-1.5zM526 721h1.5v1.5h-1.5zM468 751h1.5v1.5h-1.5zM508 720h1.5v1.5h-1.5zM508 741h1.5v1.5h-1.5zM505 731h1.5v1.5h-1.5zM470 762h1.5v1.5h-1.5zM472 766h1.5v1.5h-1.5zM485 747h1.5v1.5h-1.5zM505 723h1.5v1.5h-1.5zM510 712h1.5v1.5h-1.5zM513 739h1.5v1.5h-1.5zM508 748h1.5v1.5h-1.5zM499 738h1.5v1.5h-1.5zM494 729h1.5v1.5h-1.5zM461 744h1.5v1.5h-1.5zM476 766h1.5v1.5h-1.5zM474 778h1.5v1.5h-1.5zM502 746h1.5v1.5h-1.5zM495 736h1.5v1.5h-1.5zM495 732h1.5v1.5h-1.5zM515 722h1.5v1.5h-1.5zM526 722h1.5v1.5h-1.5zM511 740h1.5v1.5h-1.5zM494 748h1.5v1.5h-1.5zM518 718h1.5v1.5h-1.5zM494 742h1.5v1.5h-1.5zM486 779h1.5v1.5h-1.5zM514 716h1.5v1.5h-1.5zM501 735h1.5v1.5h-1.5zM482 751h1.5v1.5h-1.5zM492 744h1.5v1.5h-1.5zM470 757h1.5v1.5h-1.5zM484 747h1.5v1.5h-1.5zM493 743h1.5v1.5h-1.5zM522 734h1.5v1.5h-1.5zM510 729h1.5v1.5h-1.5zM517 723h1.5v1.5h-1.5zM486 735h1.5v1.5h-1.5zM453 776h1.5v1.5h-1.5zM473 754h1.5v1.5h-1.5zM525 729h1.5v1.5h-1.5zM490 762h1.5v1.5h-1.5zM474 761h1.5v1.5h-1.5zM480 761h1.5v1.5h-1.5zM472 770h1.5v1.5h-1.5zM512 716h1.5v1.5h-1.5zM485 756h1.5v1.5h-1.5zM519 739h1.5v1.5h-1.5zM487 757h1.5v1.5h-1.5zM513 742h1.5v1.5h-1.5zM491 719h1.5v1.5h-1.5zM518 725h1.5v1.5h-1.5zM512 723h1.5v1.5h-1.5zM514 735h1.5v1.5h-1.5zM508 722h1.5v1.5h-1.5zM499 730h1.5v1.5h-1.5zM478 753h1.5v1.5h-1.5zM487 730h1.5v1.5h-1.5zM518 719h1.5v1.5h-1.5zM477 742h1.5v1.5h-1.5zM486 763h1.5v1.5h-1.5zM507 719h1.5v1.5h-1.5zM482 766h1.5v1.5h-1.5zM520 721h1.5v1.5h-1.5zM521 736h1.5v1.5h-1.5zM515 739h1.5v1.5h-1.5zM509 740h1.5v1.5h-1.5zM521 732h1.5v1.5h-1.5zM509 755h1.5v1.5h-1.5zM479 742h1.5v1.5h-1.5zM504 717h1.5v1.5h-1.5zM511 721h1.5v1.5h-1.5zM502 752h1.5v1.5h-1.5zM503 731h1.5v1.5h-1.5zM490 730h1.5v1.5h-1.5zM508 725h1.5v1.5h-1.5zM487 741h1.5v1.5h-1.5zM526 724h1.5v1.5h-1.5zM502 733h1.5v1.5h-1.5zM488 739h1.5v1.5h-1.5zM538 709h1.5v1.5h-1.5zM526 706h1.5v1.5h-1.5zM523 720h1.5v1.5h-1.5zM464 773h1.5v1.5h-1.5zM500 723h1.5v1.5h-1.5zM528 743h1.5v1.5h-1.5zM540 726h1.5v1.5h-1.5zM466 766h1.5v1.5h-1.5zM473 765h1.5v1.5h-1.5zM533 717h1.5v1.5h-1.5zM476 731h1.5v1.5h-1.5zM502 755h1.5v1.5h-1.5zM482 760h1.5v1.5h-1.5zM499 748h1.5v1.5h-1.5zM485 729h1.5v1.5h-1.5zM520 693h1.5v1.5h-1.5zM456 784h1.5v1.5h-1.5zM480 753h1.5v1.5h-1.5zM467 787h1.5v1.5h-1.5zM569 693h1.5v1.5h-1.5zM518 765h1.5v1.5h-1.5zM472 732h1.5v1.5h-1.5zM566 715h1.5v1.5h-1.5zM499 733h1.5v1.5h-1.5zM494 763h1.5v1.5h-1.5zM535 728h1.5v1.5h-1.5zM482 757h1.5v1.5h-1.5zM550 726h1.5v1.5h-1.5zM497 751h1.5v1.5h-1.5zM523 733h1.5v1.5h-1.5zM496 703h1.5v1.5h-1.5zM494 747h1.5v1.5h-1.5zM499 774h1.5v1.5h-1.5zM455 776h1.5v1.5h-1.5zM478 765h1.5v1.5h-1.5zM478 758h1.5v1.5h-1.5zM495 774h1.5v1.5h-1.5zM472 738h1.5v1.5h-1.5zM539 695h1.5v1.5h-1.5zM501 770h1.5v1.5h-1.5zM483 743h1.5v1.5h-1.5zM565 722h1.5v1.5h-1.5zM539 672h1.5v1.5h-1.5zM498 717h1.5v1.5h-1.5zM499 750h1.5v1.5h-1.5zM511 691h1.5v1.5h-1.5zM549 706h1.5v1.5h-1.5zM482 741h1.5v1.5h-1.5zM511 725h1.5v1.5h-1.5zM520 688h1.5v1.5h-1.5zM502 701h1.5v1.5h-1.5zM518 725h1.5v1.5h-1.5zM467 745h1.5v1.5h-1.5zM510 739h1.5v1.5h-1.5zM506 774h1.5v1.5h-1.5zM474 758h1.5v1.5h-1.5zM471 765h1.5v1.5h-1.5zM515 669h1.5v1.5h-1.5zM518 747h1.5v1.5h-1.5zM473 744h1.5v1.5h-1.5zM529 703h1.5v1.5h-1.5zM503 738h1.5v1.5h-1.5zM491 766h1.5v1.5h-1.5zM526 708h1.5v1.5h-1.5zM491 731h1.5v1.5h-1.5zM519 728h1.5v1.5h-1.5zM548 730h1.5v1.5h-1.5zM522 720h1.5v1.5h-1.5zM527 727h1.5v1.5h-1.5zM510 747h1.5v1.5h-1.5zM537 735h1.5v1.5h-1.5zM495 743h1.5v1.5h-1.5zM526 737h1.5v1.5h-1.5zM463 781h1.5v1.5h-1.5zM515 710h1.5v1.5h-1.5zM500 772h1.5v1.5h-1.5zM490 771h1.5v1.5h-1.5zM477 761h1.5v1.5h-1.5zM517 682h1.5v1.5h-1.5zM499 767h1.5v1.5h-1.5zM455 775h1.5v1.5h-1.5zM475 738h1.5v1.5h-1.5zM485 729h1.5v1.5h-1.5zM483 749h1.5v1.5h-1.5zM492 747h1.5v1.5h-1.5zM486 736h1.5v1.5h-1.5zM491 711h1.5v1.5h-1.5zM525 701h1.5v1.5h-1.5zM555 678h1.5v1.5h-1.5zM515 716h1.5v1.5h-1.5zM529 738h1.5v1.5h-1.5zM462 759h1.5v1.5h-1.5zM472 716h1.5v1.5h-1.5zM534 698h1.5v1.5h-1.5zM494 711h1.5v1.5h-1.5zM460 756h1.5v1.5h-1.5zM518 751h1.5v1.5h-1.5zM462 742h1.5v1.5h-1.5zM517 753h1.5v1.5h-1.5zM508 721h1.5v1.5h-1.5zM476 752h1.5v1.5h-1.5zM459 745h1.5v1.5h-1.5zM498 722h1.5v1.5h-1.5zM525 706h1.5v1.5h-1.5zM508 748h1.5v1.5h-1.5zM497 705h1.5v1.5h-1.5zM457 753h1.5v1.5h-1.5zM523 740h1.5v1.5h-1.5zM501 697h1.5v1.5h-1.5zM488 754h1.5v1.5h-1.5zM515 710h1.5v1.5h-1.5zM469 761h1.5v1.5h-1.5zM531 728h1.5v1.5h-1.5zM465 755h1.5v1.5h-1.5zM511 719h1.5v1.5h-1.5zM545 732h1.5v1.5h-1.5zM495 720h1.5v1.5h-1.5zM489 704h1.5v1.5h-1.5zM483 749h1.5v1.5h-1.5zM462 761h1.5v1.5h-1.5zM539 686h1.5v1.5h-1.5zM469 762h1.5v1.5h-1.5zM474 752h1.5v1.5h-1.5zM529 748h1.5v1.5h-1.5zM482 733h1.5v1.5h-1.5zM475 743h1.5v1.5h-1.5zM553 708h1.5v1.5h-1.5zM459 696h1.5v1.5h-1.5zM494 728h1.5v1.5h-1.5zM524 702h1.5v1.5h-1.5zM498 699h1.5v1.5h-1.5zM553 709h1.5v1.5h-1.5zM516 737h1.5v1.5h-1.5zM467 719h1.5v1.5h-1.5zM532 734h1.5v1.5h-1.5zM488 712h1.5v1.5h-1.5zM523 721h1.5v1.5h-1.5zM466 772h1.5v1.5h-1.5zM491 732h1.5v1.5h-1.5zM485 754h1.5v1.5h-1.5zM488 743h1.5v1.5h-1.5zM516 728h1.5v1.5h-1.5zM517 736h1.5v1.5h-1.5zM540 726h1.5v1.5h-1.5zM479 733h1.5v1.5h-1.5zM468 773h1.5v1.5h-1.5zM538 715h1.5v1.5h-1.5zM495 733h1.5v1.5h-1.5zM527 729h1.5v1.5h-1.5zM516 734h1.5v1.5h-1.5zM542 726h1.5v1.5h-1.5zM469 778h1.5v1.5h-1.5zM476 707h1.5v1.5h-1.5zM527 744h1.5v1.5h-1.5zM497 765h1.5v1.5h-1.5zM474 740h1.5v1.5h-1.5zM517 694h1.5v1.5h-1.5zM492 727h1.5v1.5h-1.5zM522 729h1.5v1.5h-1.5zM492 712h1.5v1.5h-1.5zM520 735h1.5v1.5h-1.5zM550 726h1.5v1.5h-1.5zM457 757h1.5v1.5h-1.5zM469 723h1.5v1.5h-1.5zM546 713h1.5v1.5h-1.5zM457 742h1.5v1.5h-1.5zM526 748h1.5v1.5h-1.5zM477 734h1.5v1.5h-1.5zM512 729h1.5v1.5h-1.5zM511 726h1.5v1.5h-1.5zM508 754h1.5v1.5h-1.5zM564 691h1.5v1.5h-1.5zM520 695h1.5v1.5h-1.5zM581 678h1.5v1.5h-1.5zM496 752h1.5v1.5h-1.5zM517 749h1.5v1.5h-1.5zM537 716h1.5v1.5h-1.5zM544 713h1.5v1.5h-1.5zM523 712h1.5v1.5h-1.5zM508 743h1.5v1.5h-1.5zM510 761h1.5v1.5h-1.5zM512 715h1.5v1.5h-1.5zM520 765h1.5v1.5h-1.5zM502 706h1.5v1.5h-1.5zM485 733h1.5v1.5h-1.5zM484 767h1.5v1.5h-1.5zM522 702h1.5v1.5h-1.5zM483 788h1.5v1.5h-1.5zM501 745h1.5v1.5h-1.5zM471 775h1.5v1.5h-1.5zM524 717h1.5v1.5h-1.5zM490 753h1.5v1.5h-1.5zM514 751h1.5v1.5h-1.5zM552 719h1.5v1.5h-1.5zM513 751h1.5v1.5h-1.5zM494 744h1.5v1.5h-1.5zM639 768h1.5v1.5h-1.5zM583 694h1.5v1.5h-1.5zM476 779h1.5v1.5h-1.5zM644 744h1.5v1.5h-1.5zM492 729h1.5v1.5h-1.5zM638 699h1.5v1.5h-1.5zM506 741h1.5v1.5h-1.5zM590 741h1.5v1.5h-1.5zM649 756h1.5v1.5h-1.5zM569 705h1.5v1.5h-1.5zM684 759h1.5v1.5h-1.5zM572 709h1.5v1.5h-1.5zM479 734h1.5v1.5h-1.5zM524 735h1.5v1.5h-1.5zM520 698h1.5v1.5h-1.5zM481 775h1.5v1.5h-1.5zM549 742h1.5v1.5h-1.5zM531 719h1.5v1.5h-1.5zM646 707h1.5v1.5h-1.5zM625 692h1.5v1.5h-1.5zM594 708h1.5v1.5h-1.5zM587 742h1.5v1.5h-1.5zM548 732h1.5v1.5h-1.5zM564 715h1.5v1.5h-1.5zM477 702h1.5v1.5h-1.5zM471 709h1.5v1.5h-1.5zM514 729h1.5v1.5h-1.5zM651 780h1.5v1.5h-1.5zM567 715h1.5v1.5h-1.5zM566 729h1.5v1.5h-1.5zM651 698h1.5v1.5h-1.5zM653 759h1.5v1.5h-1.5zM575 693h1.5v1.5h-1.5zM686 729h1.5v1.5h-1.5zM564 720h1.5v1.5h-1.5zM543 748h1.5v1.5h-1.5zM636 768h1.5v1.5h-1.5zM481 748h1.5v1.5h-1.5zM617 702h1.5v1.5h-1.5zM526 692h1.5v1.5h-1.5zM614 747h1.5v1.5h-1.5zM590 782h1.5v1.5h-1.5zM637 774h1.5v1.5h-1.5zM609 716h1.5v1.5h-1.5zM471 714h1.5v1.5h-1.5zM689 696h1.5v1.5h-1.5zM643 694h1.5v1.5h-1.5zM604 739h1.5v1.5h-1.5zM648 719h1.5v1.5h-1.5zM653 771h1.5v1.5h-1.5zM603 787h1.5v1.5h-1.5zM611 754h1.5v1.5h-1.5zM514 748h1.5v1.5h-1.5zM554 745h1.5v1.5h-1.5zM534 730h1.5v1.5h-1.5zM554 700h1.5v1.5h-1.5zM518 718h1.5v1.5h-1.5zM481 737h1.5v1.5h-1.5zM529 713h1.5v1.5h-1.5zM510 762h1.5v1.5h-1.5zM683 756h1.5v1.5h-1.5zM601 747h1.5v1.5h-1.5zM671 788h1.5v1.5h-1.5zM568 691h1.5v1.5h-1.5zM687 755h1.5v1.5h-1.5zM476 736h1.5v1.5h-1.5zM583 770h1.5v1.5h-1.5zM589 707h1.5v1.5h-1.5zM490 695h1.5v1.5h-1.5zM505 755h1.5v1.5h-1.5zM476 769h1.5v1.5h-1.5zM608 699h1.5v1.5h-1.5zM675 782h1.5v1.5h-1.5zM678 768h1.5v1.5h-1.5zM522 757h1.5v1.5h-1.5zM635 746h1.5v1.5h-1.5zM601 777h1.5v1.5h-1.5zM642 734h1.5v1.5h-1.5zM502 701h1.5v1.5h-1.5zM685 784h1.5v1.5h-1.5zM631 743h1.5v1.5h-1.5zM608 785h1.5v1.5h-1.5zM674 740h1.5v1.5h-1.5zM684 781h1.5v1.5h-1.5zM667 720h1.5v1.5h-1.5zM500 764h1.5v1.5h-1.5zM569 776h1.5v1.5h-1.5zM548 740h1.5v1.5h-1.5zM674 746h1.5v1.5h-1.5zM567 740h1.5v1.5h-1.5zM566 691h1.5v1.5h-1.5zM508 770h1.5v1.5h-1.5zM527 695h1.5v1.5h-1.5zM574 736h1.5v1.5h-1.5zM491 773h1.5v1.5h-1.5zM490 753h1.5v1.5h-1.5zM488 705h1.5v1.5h-1.5zM666 756h1.5v1.5h-1.5zM600 768h1.5v1.5h-1.5zM602 732h1.5v1.5h-1.5zM669 705h1.5v1.5h-1.5zM630 728h1.5v1.5h-1.5zM678 756h1.5v1.5h-1.5zM481 694h1.5v1.5h-1.5zM548 760h1.5v1.5h-1.5zM527 767h1.5v1.5h-1.5zM644 732h1.5v1.5h-1.5zM548 694h1.5v1.5h-1.5zM668 753h1.5v1.5h-1.5zM509 718h1.5v1.5h-1.5zM667 758h1.5v1.5h-1.5zM593 723h1.5v1.5h-1.5zM553 700h1.5v1.5h-1.5zM675 747h1.5v1.5h-1.5zM611 708h1.5v1.5h-1.5zM611 777h1.5v1.5h-1.5zM674 759h1.5v1.5h-1.5zM532 750h1.5v1.5h-1.5zM554 714h1.5v1.5h-1.5zM528 750h1.5v1.5h-1.5zM476 734h1.5v1.5h-1.5zM539 696h1.5v1.5h-1.5zM473 745h1.5v1.5h-1.5zM492 704h1.5v1.5h-1.5zM686 725h1.5v1.5h-1.5zM637 771h1.5v1.5h-1.5zM559 743h1.5v1.5h-1.5zM596 767h1.5v1.5h-1.5zM519 742h1.5v1.5h-1.5zM587 739h1.5v1.5h-1.5zM605 776h1.5v1.5h-1.5zM500 715h1.5v1.5h-1.5zM575 787h1.5v1.5h-1.5zM636 734h1.5v1.5h-1.5zM597 732h1.5v1.5h-1.5zM607 696h1.5v1.5h-1.5zM536 711h1.5v1.5h-1.5zM653 747h1.5v1.5h-1.5zM636 761h1.5v1.5h-1.5zM549 764h1.5v1.5h-1.5zM602 770h1.5v1.5h-1.5zM690 776h1.5v1.5h-1.5zM627 701h1.5v1.5h-1.5zM517 761h1.5v1.5h-1.5zM667 723h1.5v1.5h-1.5zM686 694h1.5v1.5h-1.5zM526 745h1.5v1.5h-1.5zM491 723h1.5v1.5h-1.5zM653 692h1.5v1.5h-1.5zM506 779h1.5v1.5h-1.5zM531 720h1.5v1.5h-1.5zM502 702h1.5v1.5h-1.5zM491 721h1.5v1.5h-1.5zM477 709h1.5v1.5h-1.5zM534 693h1.5v1.5h-1.5zM595 729h1.5v1.5h-1.5zM577 779h1.5v1.5h-1.5zM634 766h1.5v1.5h-1.5zM498 715h1.5v1.5h-1.5zM588 764h1.5v1.5h-1.5zM680 761h1.5v1.5h-1.5zM591 699h1.5v1.5h-1.5zM488 717h1.5v1.5h-1.5zM584 788h1.5v1.5h-1.5zM643 772h1.5v1.5h-1.5zM607 780h1.5v1.5h-1.5zM608 783h1.5v1.5h-1.5zM590 750h1.5v1.5h-1.5zM588 769h1.5v1.5h-1.5zM525 786h1.5v1.5h-1.5zM557 751h1.5v1.5h-1.5zM567 781h1.5v1.5h-1.5zM554 721h1.5v1.5h-1.5zM666 699h1.5v1.5h-1.5zM545 716h1.5v1.5h-1.5zM539 755h1.5v1.5h-1.5zM494 750h1.5v1.5h-1.5zM629 757h1.5v1.5h-1.5zM575 725h1.5v1.5h-1.5zM623 727h1.5v1.5h-1.5zM623 724h1.5v1.5h-1.5zM485 698h1.5v1.5h-1.5zM620 696h1.5v1.5h-1.5zM653 743h1.5v1.5h-1.5zM640 769h1.5v1.5h-1.5zM560 760h1.5v1.5h-1.5zM498 740h1.5v1.5h-1.5zM527 726h1.5v1.5h-1.5zM482 738h1.5v1.5h-1.5zM481 748h1.5v1.5h-1.5zM613 720h1.5v1.5h-1.5zM598 708h1.5v1.5h-1.5zM535 727h1.5v1.5h-1.5zM553 775h1.5v1.5h-1.5zM643 763h1.5v1.5h-1.5zM592 733h1.5v1.5h-1.5zM579 695h1.5v1.5h-1.5zM644 716h1.5v1.5h-1.5zM473 767h1.5v1.5h-1.5zM538 732h1.5v1.5h-1.5zM550 764h1.5v1.5h-1.5zM545 777h1.5v1.5h-1.5zM596 767h1.5v1.5h-1.5zM538 721h1.5v1.5h-1.5zM519 767h1.5v1.5h-1.5zM647 693h1.5v1.5h-1.5zM499 774h1.5v1.5h-1.5zM551 768h1.5v1.5h-1.5zM663 767h1.5v1.5h-1.5zM658 708h1.5v1.5h-1.5zM562 759h1.5v1.5h-1.5zM543 750h1.5v1.5h-1.5zM520 695h1.5v1.5h-1.5zM623 756h1.5v1.5h-1.5zM505 708h1.5v1.5h-1.5zM682 768h1.5v1.5h-1.5zM564 776h1.5v1.5h-1.5zM558 765h1.5v1.5h-1.5zM605 728h1.5v1.5h-1.5zM493 707h1.5v1.5h-1.5zM626 700h1.5v1.5h-1.5zM552 785h1.5v1.5h-1.5zM581 784h1.5v1.5h-1.5zM587 741h1.5v1.5h-1.5zM555 696h1.5v1.5h-1.5zM473 737h1.5v1.5h-1.5zM584 729h1.5v1.5h-1.5zM626 787h1.5v1.5h-1.5zM498 776h1.5v1.5h-1.5zM508 748h1.5v1.5h-1.5zM677 734h1.5v1.5h-1.5zM643 691h1.5v1.5h-1.5zM646 734h1.5v1.5h-1.5zM689 730h1.5v1.5h-1.5zM528 706h1.5v1.5h-1.5zM649 697h1.5v1.5h-1.5zM482 742h1.5v1.5h-1.5zM575 712h1.5v1.5h-1.5zM546 748h1.5v1.5h-1.5zM555 764h1.5v1.5h-1.5zM684 752h1.5v1.5h-1.5zM551 716h1.5v1.5h-1.5zM583 720h1.5v1.5h-1.5zM497 745h1.5v1.5h-1.5zM635 739h1.5v1.5h-1.5zM663 725h1.5v1.5h-1.5zM564 720h1.5v1.5h-1.5zM551 754h1.5v1.5h-1.5zM544 704h1.5v1.5h-1.5zM513 776h1.5v1.5h-1.5zM495 783h1.5v1.5h-1.5zM504 760h1.5v1.5h-1.5zM568 765h1.5v1.5h-1.5zM685 757h1.5v1.5h-1.5zM607 770h1.5v1.5h-1.5zM640 765h1.5v1.5h-1.5zM523 719h1.5v1.5h-1.5zM578 693h1.5v1.5h-1.5zM661 744h1.5v1.5h-1.5zM553 707h1.5v1.5h-1.5zM603 728h1.5v1.5h-1.5zM524 694h1.5v1.5h-1.5zM542 752h1.5v1.5h-1.5zM477 750h1.5v1.5h-1.5zM644 712h1.5v1.5h-1.5zM628 739h1.5v1.5h-1.5zM520 773h1.5v1.5h-1.5zM664 691h1.5v1.5h-1.5zM659 775h1.5v1.5h-1.5zM643 763h1.5v1.5h-1.5zM583 760h1.5v1.5h-1.5zM557 736h1.5v1.5h-1.5zM533 779h1.5v1.5h-1.5zM655 724h1.5v1.5h-1.5zM508 715h1.5v1.5h-1.5zM672 784h1.5v1.5h-1.5zM528 732h1.5v1.5h-1.5zM652 711h1.5v1.5h-1.5zM588 725h1.5v1.5h-1.5zM485 749h1.5v1.5h-1.5zM518 759h1.5v1.5h-1.5zM592 692h1.5v1.5h-1.5zM621 764h1.5v1.5h-1.5zM646 756h1.5v1.5h-1.5zM523 748h1.5v1.5h-1.5zM502 735h1.5v1.5h-1.5zM581 755h1.5v1.5h-1.5zM662 762h1.5v1.5h-1.5zM647 746h1.5v1.5h-1.5zM564 747h1.5v1.5h-1.5zM583 705h1.5v1.5h-1.5zM665 758h1.5v1.5h-1.5zM483 787h1.5v1.5h-1.5zM539 747h1.5v1.5h-1.5zM499 737h1.5v1.5h-1.5zM530 734h1.5v1.5h-1.5zM478 699h1.5v1.5h-1.5zM630 749h1.5v1.5h-1.5zM634 727h1.5v1.5h-1.5zM526 716h1.5v1.5h-1.5zM669 772h1.5v1.5h-1.5zM613 748h1.5v1.5h-1.5zM506 713h1.5v1.5h-1.5zM595 700h1.5v1.5h-1.5zM685 787h1.5v1.5h-1.5zM615 739h1.5v1.5h-1.5zM556 770h1.5v1.5h-1.5zM678 746h1.5v1.5h-1.5zM686 741h1.5v1.5h-1.5zM583 695h1.5v1.5h-1.5zM597 781h1.5v1.5h-1.5zM507 702h1.5v1.5h-1.5zM650 691h1.5v1.5h-1.5zM521 777h1.5v1.5h-1.5zM555 733h1.5v1.5h-1.5zM495 779h1.5v1.5h-1.5zM582 752h1.5v1.5h-1.5zM618 745h1.5v1.5h-1.5zM646 737h1.5v1.5h-1.5zM555 691h1.5v1.5h-1.5zM488 719h1.5v1.5h-1.5zM552 768h1.5v1.5h-1.5zM534 780h1.5v1.5h-1.5zM522 744h1.5v1.5h-1.5zM611 698h1.5v1.5h-1.5zM582 695h1.5v1.5h-1.5zM576 731h1.5v1.5h-1.5zM635 774h1.5v1.5h-1.5zM611 709h1.5v1.5h-1.5zM538 775h1.5v1.5h-1.5zM600 772h1.5v1.5h-1.5zM644 693h1.5v1.5h-1.5zM514 766h1.5v1.5h-1.5zM474 772h1.5v1.5h-1.5zM559 708h1.5v1.5h-1.5zM551 770h1.5v1.5h-1.5zM678 783h1.5v1.5h-1.5zM599 733h1.5v1.5h-1.5zM486 692h1.5v1.5h-1.5zM622 733h1.5v1.5h-1.5zM684 756h1.5v1.5h-1.5zM563 699h1.5v1.5h-1.5zM672 719h1.5v1.5h-1.5zM489 699h1.5v1.5h-1.5zM655 787h1.5v1.5h-1.5zM519 718h1.5v1.5h-1.5zM648 743h1.5v1.5h-1.5zM492 750h1.5v1.5h-1.5zM640 736h1.5v1.5h-1.5zM585 691h1.5v1.5h-1.5zM565 744h1.5v1.5h-1.5zM535 704h1.5v1.5h-1.5zM588 746h1.5v1.5h-1.5zM607 706h1.5v1.5h-1.5zM604 767h1.5v1.5h-1.5zM586 743h1.5v1.5h-1.5zM593 741h1.5v1.5h-1.5zM610 702h1.5v1.5h-1.5zM586 757h1.5v1.5h-1.5zM611 767h1.5v1.5h-1.5zM486 693h1.5v1.5h-1.5zM647 732h1.5v1.5h-1.5zM550 773h1.5v1.5h-1.5zM595 778h1.5v1.5h-1.5zM475 748h1.5v1.5h-1.5zM498 782h1.5v1.5h-1.5zM499 776h1.5v1.5h-1.5zM638 725h1.5v1.5h-1.5zM657 752h1.5v1.5h-1.5zM597 771h1.5v1.5h-1.5zM511 691h1.5v1.5h-1.5zM685 744h1.5v1.5h-1.5zM471 782h1.5v1.5h-1.5zM667 726h1.5v1.5h-1.5zM501 697h1.5v1.5h-1.5zM571 723h1.5v1.5h-1.5zM530 784h1.5v1.5h-1.5zM567 709h1.5v1.5h-1.5zM630 741h1.5v1.5h-1.5zM485 685h1.5v1.5h-1.5zM475 741h1.5v1.5h-1.5zM663 723h1.5v1.5h-1.5zM521 731h1.5v1.5h-1.5zM601 781h1.5v1.5h-1.5zM561 667h1.5v1.5h-1.5zM486 781h1.5v1.5h-1.5zM565 762h1.5v1.5h-1.5zM675 777h1.5v1.5h-1.5zM517 750h1.5v1.5h-1.5zM518 660h1.5v1.5h-1.5zM660 692h1.5v1.5h-1.5zM525 713h1.5v1.5h-1.5zM663 688h1.5v1.5h-1.5zM649 659h1.5v1.5h-1.5zM665 661h1.5v1.5h-1.5zM665 695h1.5v1.5h-1.5zM455 750h1.5v1.5h-1.5zM466 700h1.5v1.5h-1.5zM686 775h1.5v1.5h-1.5zM555 783h1.5v1.5h-1.5zM567 672h1.5v1.5h-1.5zM485 767h1.5v1.5h-1.5zM570 667h1.5v1.5h-1.5zM492 724h1.5v1.5h-1.5zM534 748h1.5v1.5h-1.5zM651 641h1.5v1.5h-1.5zM473 718h1.5v1.5h-1.5zM691 763h1.5v1.5h-1.5zM633 676h1.5v1.5h-1.5zM485 703h1.5v1.5h-1.5zM549 780h1.5v1.5h-1.5zM686 759h1.5v1.5h-1.5zM465 693h1.5v1.5h-1.5zM593 745h1.5v1.5h-1.5zM692 654h1.5v1.5h-1.5zM596 786h1.5v1.5h-1.5zM606 767h1.5v1.5h-1.5zM676 656h1.5v1.5h-1.5zM658 653h1.5v1.5h-1.5zM497 652h1.5v1.5h-1.5zM674 752h1.5v1.5h-1.5z" fill="#000"/><path d="M446.2 777.2h2.5M463.5 793.3v-2.5M446.2 767.7h2.5M473.6 793.3v-2.5M446.2 761.0h2.5M480.7 793.3v-2.5M446.2 755.8h2.5M486.3 793.3v-2.5M446.2 751.6h2.5M490.8 793.3v-2.5M446.2 748.0h2.5M494.6 793.3v-2.5M446.2 744.9h2.5M498.0 793.3v-2.5M446.2 742.1h2.5M500.9 793.3v-2.5M446.2 739.7h4M503.5 793.3v-4M446.2 723.5h2.5M520.8 793.3v-2.5M446.2 714.1h2.5M530.9 793.3v-2.5M446.2 707.4h2.5M538.0 793.3v-2.5M446.2 702.2h2.5M543.6 793.3v-2.5M446.2 697.9h2.5M548.1 793.3v-2.5M446.2 694.3h2.5M552.0 793.3v-2.5M446.2 691.2h2.5M555.3 793.3v-2.5M446.2 688.5h2.5M558.2 793.3v-2.5M446.2 686.0h4M560.9 793.3v-4M446.2 669.9h2.5M578.1 793.3v-2.5M446.2 660.5h2.5M588.2 793.3v-2.5M446.2 653.8h2.5M595.4 793.3v-2.5M446.2 648.6h2.5M600.9 793.3v-2.5M446.2 644.3h2.5M605.5 793.3v-2.5M446.2 640.7h2.5M609.3 793.3v-2.5M446.2 637.6h2.5M612.6 793.3v-2.5M446.2 634.9h2.5M615.6 793.3v-2.5M446.2 632.4h4M618.2 793.3v-4M446.2 616.3h2.5M635.4 793.3v-2.5M446.2 606.8h2.5M645.5 793.3v-2.5M446.2 600.1h2.5M652.7 793.3v-2.5M446.2 594.9h2.5M658.2 793.3v-2.5M446.2 590.7h2.5M662.8 793.3v-2.5M446.2 587.1h2.5M666.6 793.3v-2.5M446.2 584.0h2.5M669.9 793.3v-2.5M446.2 581.2h2.5M672.9 793.3v-2.5M446.2 578.8h4M675.5 793.3v-4M446.2 562.6h2.5M692.8 793.3v-2.5M446.2 553.2h2.5M702.9 793.3v-2.5" stroke="#000" stroke-width="1" fill="none"/>
<rect x="446.2" y="546.6" width="263.7" height="246.7" fill="none" stroke="#000" stroke-width="1.6"/>
<polygon points="528.2,784.4 624.6,663.4 700.5,663.4 700.5,784.4" fill="none" stroke="#000" stroke-width="2"/>
<path d="M426.7,790.3 V560" stroke="#000" stroke-width="2.2"/>
<path d="M426.7,556.5 L417.5,573 L426.7,569 L436,573 Z" fill="#000"/>
<path d="M442,809.8 H696" stroke="#000" stroke-width="2.2"/>
<path d="M700.5,809.8 L683.5,800.8 L687.5,809.8 L683.5,818.8 Z" fill="#000"/>
<text transform="translate(606.23,622.70) scale(1.0313,1)" font-family="'Liberation Sans', sans-serif" font-size="31.57" fill="#000">91.2%</text>
<text transform="translate(451.07,849.80) scale(1.0055,1)" font-family="'Liberation Sans', sans-serif" font-size="32.75" fill="#000">MF20-FITC</text>
<text transform="translate(406.70,810.62) rotate(-90) scale(1.0122,1)" font-family="'Liberation Sans', sans-serif" font-size="32.32" fill="#000">Empty-APC</text>
<path d="M845,517.6 V802.9 M836.3,802.9 H1020.1 M845,802.9 V811.5 M931.9,802.9 V811.5 M1020.1,802.9 V811.5" stroke="#000" stroke-width="2.4" fill="none"/>
<path d="M836.3,517.6 H845 M836.3,575.3 H845 M836.3,632.4 H845 M836.3,688.1 H845 M836.3,745.8 H845 M836.3,802.9 H845 " stroke="#000" stroke-width="2.4"/>
<text transform="translate(772.41,527.20) scale(1.0783,1)" font-family="'Liberation Sans', sans-serif" font-size="24.57" fill="#505050">100</text>
<text transform="translate(787.12,584.90) scale(1.0783,1)" font-family="'Liberation Sans', sans-serif" font-size="24.57" fill="#505050">80</text>
<text transform="translate(787.12,642.00) scale(1.0783,1)" font-family="'Liberation Sans', sans-serif" font-size="24.57" fill="#505050">60</text>
<text transform="translate(787.12,697.70) scale(1.0783,1)" font-family="'Liberation Sans', sans-serif" font-size="24.57" fill="#505050">40</text>
<text transform="translate(787.12,755.40) scale(1.0783,1)" font-family="'Liberation Sans', sans-serif" font-size="24.57" fill="#505050">20</text>
<text transform="translate(801.82,812.50) scale(1.0783,1)" font-family="'Liberation Sans', sans-serif" font-size="24.57" fill="#505050">0</text>
<rect x="875.7" y="546.8" width="25.7" height="256" fill="#fff" stroke="#000" stroke-width="2.2"/>
<rect x="963.9" y="542.9" width="25.4" height="260" fill="#fff" stroke="#000" stroke-width="2.2"/>
<path d="M888.5,538.2 V552.3 M881.5,538.2 H895.5 M881.5,552.3 H895.5 M976.6,537.3 V547.2 M969.6,537.3 H983.6 M969.6,547.2 H983.6" stroke="#404040" stroke-width="1.6"/>
<text transform="translate(779.80,746.90) rotate(-90) scale(0.8516,1)" font-family="'Liberation Sans', sans-serif" font-size="36.81" fill="#000">%MF20</text>
<text transform="translate(871.78,849.80) scale(0.9839,1)" font-family="'Liberation Sans', sans-serif" font-size="26.96" fill="#505050">H9</text>
<text transform="translate(936.76,849.80) scale(0.9096,1)" font-family="'Liberation Sans', sans-serif" font-size="26.96" fill="#505050">UCLA4</text>
<text transform="translate(857.40,885.50) scale(0.9887,1)" font-family="'Liberation Sans', sans-serif" font-size="26.96" fill="#505050">(n=8)</text>
<text transform="translate(945.20,885.50) scale(0.9887,1)" font-family="'Liberation Sans', sans-serif" font-size="26.96" fill="#505050">(n=3)</text>
<g clip-path="url(#cG1)"><rect x="50.4" y="961.7" width="471.6" height="352.3" fill="#1E9A2C"/><g filter="url(#b8)" fill="#020E04"><polygon points="262.0,955.0 470.0,955.0 463.0,962.0 450.0,968.0 437.0,981.0 411.0,994.0 372.0,1004.0 320.0,1001.0 290.0,996.0 272.0,985.0"/><polygon points="485.0,1028.0 525.0,1028.0 525.0,1070.0 490.0,1068.0"/><polygon points="84.0,1050.0 130.0,1052.0 140.0,1080.0 135.0,1106.0 100.0,1104.0 84.0,1080.0"/><polygon points="50.0,1022.0 86.0,1022.0 88.0,1046.0 50.0,1048.0"/><polygon points="339.0,1066.0 378.0,1066.0 380.0,1098.0 340.0,1098.0"/><polygon points="430.0,1222.0 525.0,1220.0 525.0,1262.0 440.0,1262.0"/><polygon points="355.0,1255.0 425.0,1250.0 430.0,1320.0 350.0,1320.0"/><polygon points="50.0,1255.0 96.0,1255.0 98.0,1320.0 50.0,1320.0"/><polygon points="260.0,961.0 290.0,961.0 295.0,995.0 270.0,1000.0"/><polygon points="240.0,1140.0 270.0,1150.0 300.0,1175.0 300.0,1190.0 265.0,1190.0 240.0,1170.0"/><polygon points="245.0,1200.0 305.0,1205.0 300.0,1230.0 250.0,1235.0"/></g><rect x="50.4" y="961.7" width="471.6" height="352.3" fill="#001400" filter="url(#fibG)" opacity="0.9"/><g filter="url(#b2)"><ellipse cx="136.7" cy="1005.7" rx="21.0" ry="18.4" fill="#2050C0" opacity="0.75"/><ellipse cx="328.6" cy="979.4" rx="20.0" ry="17.0" fill="#1834E0" opacity="0.9"/><ellipse cx="487.7" cy="978.1" rx="19.0" ry="16.0" fill="#2050C0" opacity="0.75"/><ellipse cx="290.5" cy="1030.7" rx="20.0" ry="19.0" fill="#3088C0" opacity="0.75"/><ellipse cx="381.2" cy="1034.6" rx="21.0" ry="16.0" fill="#2050C0" opacity="0.75"/><ellipse cx="189.3" cy="1063.5" rx="23.7" ry="23.7" fill="#2050C0" opacity="0.75"/><ellipse cx="64.5" cy="1066.2" rx="17.0" ry="20.0" fill="#1834E0" opacity="0.9"/><ellipse cx="299.7" cy="1087.2" rx="21.0" ry="20.0" fill="#3088C0" opacity="0.75"/><ellipse cx="418.0" cy="1089.8" rx="25.0" ry="22.0" fill="#2050C0" opacity="0.75"/><ellipse cx="335.2" cy="1125.3" rx="24.0" ry="17.0" fill="#3088C0" opacity="0.75"/><ellipse cx="486.4" cy="1124.0" rx="21.0" ry="15.0" fill="#2050C0" opacity="0.75"/><ellipse cx="286.0" cy="1161.0" rx="19.0" ry="17.0" fill="#1834E0" opacity="0.9"/><ellipse cx="69.0" cy="1181.0" rx="20.0" ry="21.0" fill="#2050C0" opacity="0.75"/><ellipse cx="112.0" cy="1188.0" rx="21.0" ry="21.0" fill="#2050C0" opacity="0.75"/><ellipse cx="471.0" cy="1183.0" rx="21.0" ry="20.0" fill="#2050C0" opacity="0.75"/><ellipse cx="109.0" cy="1233.7" rx="19.0" ry="19.0" fill="#2050C0" opacity="0.75"/><ellipse cx="155.0" cy="1223.0" rx="23.0" ry="17.0" fill="#2050C0" opacity="0.75"/><ellipse cx="334.0" cy="1225.6" rx="24.0" ry="17.0" fill="#2050C0" opacity="0.75"/><ellipse cx="208.5" cy="1268.5" rx="27.0" ry="23.0" fill="#2050C0" opacity="0.75"/><ellipse cx="271.4" cy="1287.0" rx="29.0" ry="27.0" fill="#2050C0" opacity="0.75"/><ellipse cx="441.6" cy="1279.0" rx="17.0" ry="29.0" fill="#1834E0" opacity="0.9"/></g><rect x="50.4" y="961.7" width="471.6" height="352.3" fill="#003000" filter="url(#fibG2)" opacity="0.45"/></g><g clip-path="url(#cG2)"><rect x="539" y="961.7" width="472.2" height="352.3" fill="#0E5A1C"/><g filter="url(#b8)" stroke="#28B038" fill="none" stroke-linecap="round"><polyline points="539.0,1010.0 620.0,1035.0 700.0,1065.0 780.0,1125.0 860.0,1175.0 940.0,1225.0 1011.0,1260.0" stroke-width="20"/><polyline points="620.0,961.0 700.0,985.0 780.0,1013.0 840.0,1040.0" stroke-width="16"/><polyline points="760.0,1130.0 820.0,1160.0 900.0,1200.0 980.0,1240.0" stroke-width="30"/><polyline points="790.0,1190.0 860.0,1230.0 930.0,1280.0 980.0,1314.0" stroke-width="22"/><polyline points="955.0,955.0 985.0,980.0 1015.0,1008.0" stroke-width="26"/><polyline points="700.0,1140.0 760.0,1160.0" stroke-width="22"/><polyline points="770.0,1000.0 810.0,1030.0 845.0,1070.0 870.0,1110.0" stroke-width="26"/><polyline points="775.0,1060.0 800.0,1100.0 830.0,1130.0" stroke-width="22"/></g><g filter="url(#b8)" fill="#020A04"><polygon points="849.0,955.0 962.0,955.0 982.0,982.0 1002.0,1002.0 1018.0,1016.0 1018.0,1128.0 980.0,1119.0 941.0,1106.0 908.0,1093.0 895.0,1073.0 882.0,1053.0 862.0,1027.0 851.0,1000.0"/><polygon points="651.0,1200.0 700.0,1196.0 710.0,1230.0 712.0,1320.0 648.0,1320.0 640.0,1250.0"/><polygon points="559.0,981.0 618.0,990.0 615.0,1004.0 560.0,995.0"/><polygon points="539.0,1053.0 590.0,1055.0 592.0,1090.0 539.0,1092.0"/><polygon points="710.0,1011.0 736.0,1015.0 736.0,1034.0 712.0,1032.0"/><polygon points="770.0,1258.0 796.0,1262.0 796.0,1288.0 770.0,1288.0"/><polygon points="1000.0,1198.0 1018.0,1198.0 1018.0,1255.0 1000.0,1255.0"/><g opacity="0.55"><polygon points="539.0,1120.0 600.0,1125.0 612.0,1170.0 605.0,1320.0 539.0,1320.0"/><polygon points="588.0,1183.0 640.0,1190.0 655.0,1225.0 650.0,1260.0 600.0,1258.0"/></g></g><ellipse cx="868" cy="1035" rx="16" ry="30" fill="#0c1890" opacity="0.6" filter="url(#b8)"/><rect x="539" y="961.7" width="472.2" height="352.3" fill="#001400" filter="url(#fibG)" opacity="0.75"/><g filter="url(#b2)"><ellipse cx="549.5" cy="993.9" rx="13.0" ry="20.0" fill="#3088C0" opacity="0.85"/><ellipse cx="625.7" cy="978.0" rx="13.0" ry="13.0" fill="#2050C0" opacity="0.85"/><ellipse cx="629.7" cy="1003.0" rx="12.0" ry="14.5" fill="#2050C0" opacity="0.85"/><ellipse cx="600.8" cy="1017.5" rx="16.0" ry="14.5" fill="#3088C0" opacity="0.85"/><ellipse cx="661.2" cy="1012.2" rx="20.0" ry="15.0" fill="#2050C0" opacity="0.85" transform="rotate(25 661.2 1012.2)"/><ellipse cx="696.7" cy="991.2" rx="20.0" ry="13.0" fill="#3088C0" opacity="0.85" transform="rotate(25 696.7 991.2)"/><ellipse cx="754.5" cy="983.3" rx="22.0" ry="20.0" fill="#3088C0" opacity="0.85"/><ellipse cx="767.6" cy="1039.8" rx="13.0" ry="17.0" fill="#2050C0" opacity="0.85"/><ellipse cx="772.9" cy="1085.8" rx="10.0" ry="20.0" fill="#3088C0" opacity="0.85"/><ellipse cx="670.4" cy="1050.4" rx="17.0" ry="16.0" fill="#2A9080" opacity="0.85"/><ellipse cx="683.5" cy="1068.8" rx="26.0" ry="12.0" fill="#2050C0" opacity="0.85" transform="rotate(25 683.5 1068.8)"/><ellipse cx="600.8" cy="1087.1" rx="22.0" ry="14.0" fill="#2050C0" opacity="0.85" transform="rotate(15 600.8 1087.1)"/><ellipse cx="629.7" cy="1084.5" rx="14.0" ry="16.0" fill="#2050C0" opacity="0.85"/><ellipse cx="552.1" cy="1109.5" rx="14.0" ry="18.0" fill="#2050C0" opacity="0.85"/><ellipse cx="645.4" cy="1130.5" rx="17.0" ry="13.0" fill="#2050C0" opacity="0.85"/><ellipse cx="686.2" cy="1125.3" rx="17.0" ry="13.0" fill="#3088C0" opacity="0.85"/><ellipse cx="749.2" cy="1131.8" rx="14.0" ry="9.0" fill="#2050C0" opacity="0.85"/><ellipse cx="552.0" cy="1042.5" rx="13.0" ry="10.0" fill="#101C90" opacity="0.85"/><ellipse cx="580.0" cy="1050.0" rx="12.0" ry="10.0" fill="#101C90" opacity="0.85"/><ellipse cx="894.9" cy="978.1" rx="21.0" ry="17.0" fill="#1420A8" opacity="0.85"/><ellipse cx="892.3" cy="1000.4" rx="14.0" ry="12.0" fill="#1420A8" opacity="0.85"/><ellipse cx="921.2" cy="1084.6" rx="14.0" ry="12.0" fill="#1420A8" opacity="0.85"/><ellipse cx="1001.4" cy="1066.2" rx="11.0" ry="16.0" fill="#1420A8" opacity="0.85"/><ellipse cx="1004.0" cy="1092.5" rx="10.0" ry="14.0" fill="#1420A8" opacity="0.85"/><ellipse cx="868.6" cy="1033.3" rx="10.0" ry="14.0" fill="#101C90" opacity="0.85"/><ellipse cx="825.2" cy="1017.5" rx="18.0" ry="14.0" fill="#3088C0" opacity="0.85"/><ellipse cx="848.9" cy="1057.0" rx="30.0" ry="15.0" fill="#3088C0" opacity="0.85" transform="rotate(30 848.9 1057.0)"/><ellipse cx="775.3" cy="1039.9" rx="13.0" ry="16.0" fill="#2050C0" opacity="0.85"/><ellipse cx="792.3" cy="1082.0" rx="21.0" ry="17.0" fill="#3088C0" opacity="0.85"/><ellipse cx="835.7" cy="1112.2" rx="13.0" ry="16.0" fill="#2050C0" opacity="0.85"/><ellipse cx="871.2" cy="1122.7" rx="12.0" ry="16.0" fill="#3088C0" opacity="0.85"/><ellipse cx="897.5" cy="1109.5" rx="14.0" ry="12.0" fill="#3088C0" opacity="0.85"/><ellipse cx="813.4" cy="1129.3" rx="13.0" ry="11.0" fill="#3088C0" opacity="0.85"/><ellipse cx="965.9" cy="1134.5" rx="13.0" ry="8.0" fill="#3088C0" opacity="0.85"/><ellipse cx="772.6" cy="984.7" rx="8.0" ry="13.0" fill="#3088C0" opacity="0.85"/><ellipse cx="1005.0" cy="970.0" rx="7.0" ry="12.0" fill="#3088C0" opacity="0.85"/><ellipse cx="569.2" cy="1173.1" rx="18.0" ry="17.0" fill="#2050C0" opacity="0.85"/><ellipse cx="623.1" cy="1157.3" rx="14.0" ry="17.0" fill="#101C90" opacity="0.85"/><ellipse cx="663.8" cy="1160.0" rx="24.0" ry="20.0" fill="#2050C0" opacity="0.85"/><ellipse cx="708.5" cy="1190.2" rx="21.0" ry="17.0" fill="#2050C0" opacity="0.85"/><ellipse cx="749.2" cy="1142.9" rx="14.0" ry="10.0" fill="#3088C0" opacity="0.85"/><ellipse cx="637.6" cy="1211.2" rx="17.0" ry="16.0" fill="#101C90" opacity="0.85"/><ellipse cx="571.9" cy="1241.4" rx="17.0" ry="17.0" fill="#2050C0" opacity="0.85"/><ellipse cx="627.0" cy="1258.5" rx="18.0" ry="16.0" fill="#2050C0" opacity="0.85"/><ellipse cx="617.8" cy="1288.7" rx="13.0" ry="14.0" fill="#3088C0" opacity="0.85"/><ellipse cx="725.6" cy="1263.8" rx="22.0" ry="26.0" fill="#1834E0" opacity="0.85"/><ellipse cx="755.8" cy="1299.3" rx="20.0" ry="13.0" fill="#3088C0" opacity="0.85"/><ellipse cx="745.0" cy="1235.0" rx="20.0" ry="10.0" fill="#101C90" opacity="0.85" transform="rotate(35 745.0 1235.0)"/><ellipse cx="817.3" cy="1138.9" rx="16.0" ry="9.0" fill="#3088C0" opacity="0.85"/><ellipse cx="967.2" cy="1145.5" rx="16.0" ry="13.0" fill="#3088C0" opacity="0.85"/><ellipse cx="834.4" cy="1191.5" rx="13.0" ry="12.0" fill="#2050C0" opacity="0.85"/><ellipse cx="869.9" cy="1187.6" rx="16.0" ry="13.0" fill="#2050C0" opacity="0.85" transform="rotate(25 869.9 1187.6)"/><ellipse cx="810.8" cy="1206.0" rx="14.0" ry="11.0" fill="#2050C0" opacity="0.85"/><ellipse cx="946.2" cy="1169.2" rx="14.0" ry="13.0" fill="#2A9080" opacity="0.85"/><ellipse cx="977.7" cy="1181.0" rx="14.0" ry="16.0" fill="#2050C0" opacity="0.85"/><ellipse cx="990.8" cy="1206.0" rx="12.0" ry="12.0" fill="#2050C0" opacity="0.85"/><ellipse cx="964.6" cy="1240.2" rx="20.0" ry="24.0" fill="#3088C0" opacity="0.85" transform="rotate(20 964.6 1240.2)"/><ellipse cx="993.5" cy="1253.3" rx="13.0" ry="13.0" fill="#3088C0" opacity="0.85"/><ellipse cx="804.2" cy="1252.0" rx="12.0" ry="13.0" fill="#2050C0" opacity="0.85"/><ellipse cx="855.4" cy="1249.4" rx="17.0" ry="13.0" fill="#2050C0" opacity="0.85" transform="rotate(20 855.4 1249.4)"/><ellipse cx="881.7" cy="1257.3" rx="13.0" ry="13.0" fill="#2050C0" opacity="0.85"/><ellipse cx="884.4" cy="1279.6" rx="14.0" ry="13.0" fill="#2050C0" opacity="0.85"/><ellipse cx="958.0" cy="1283.5" rx="20.0" ry="14.0" fill="#2050C0" opacity="0.85" transform="rotate(20 958.0 1283.5)"/><ellipse cx="826.5" cy="1305.9" rx="16.0" ry="9.0" fill="#2050C0" opacity="0.85"/><ellipse cx="770.0" cy="1253.0" rx="7.0" ry="13.0" fill="#2050C0" opacity="0.85"/></g><rect x="539" y="961.7" width="472.2" height="352.3" fill="#003000" filter="url(#fibG2)" opacity="0.3"/></g>
<rect x="459.4" y="1259.6" width="141.6" height="56" fill="#fff"/>
<rect x="59" y="1285" width="49.5" height="3" fill="#fff"/>
<text transform="translate(251.64,944.60) scale(0.9644,1)" font-family="'Liberation Sans', sans-serif" font-size="35.80" fill="#000">Day20</text>
<text transform="translate(742.46,943.70) scale(0.9728,1)" font-family="'Liberation Sans', sans-serif" font-size="35.22" fill="#000">Day35</text>
<text transform="translate(483.19,1296.60) scale(1.0000,1)" font-family="'Liberation Serif', serif" font-size="25.30" fill="#17984C">αActinin</text>
<rect x="1263.6" y="300.9" width="22.7" height="0.5" fill="#fff" stroke="#000" stroke-width="2.2"/>
<rect x="1340.1" y="300.7" width="22.8" height="0.5" fill="#fff" stroke="#000" stroke-width="2.2"/>
<rect x="1417.6" y="270.9" width="22.8" height="30.1" fill="#fff" stroke="#000" stroke-width="2.2"/>
<path d="M1429.0,270.8 V265.7 M1422.0,265.7 H1436.0" stroke="#404040" stroke-width="1.7" fill="none"/>
<rect x="1495.1" y="108.4" width="22.2" height="192.6" fill="#fff" stroke="#000" stroke-width="2.2"/>
<path d="M1506.2,108.3 V89.6 M1499.2,89.6 H1513.2" stroke="#404040" stroke-width="1.7" fill="none"/>
<rect x="1571.9" y="123.9" width="22.2" height="177.1" fill="#fff" stroke="#000" stroke-width="2.2"/>
<path d="M1583.0,123.8 V113.0 M1576.0,113.0 H1590.0" stroke="#404040" stroke-width="1.7" fill="none"/>
<path d="M1236.0,64.2 V301.0 M1227.5,301.0 H1621.6 M1227.5,64.2 H1236.0 M1227.5,111.4 H1236.0 M1227.5,158.9 H1236.0 M1227.5,206.5 H1236.0 M1227.5,253.5 H1236.0 M1227.5,301.0 H1236.0 " stroke="#000" stroke-width="2.6" fill="none"/>
<text transform="translate(1164.76,73.20) scale(1.0000,1)" font-family="'Liberation Sans', sans-serif" font-size="26.71" fill="#505050">250</text>
<text transform="translate(1164.76,120.40) scale(1.0000,1)" font-family="'Liberation Sans', sans-serif" font-size="26.71" fill="#505050">200</text>
<text transform="translate(1164.76,167.90) scale(1.0000,1)" font-family="'Liberation Sans', sans-serif" font-size="26.71" fill="#505050">150</text>
<text transform="translate(1164.76,215.50) scale(1.0000,1)" font-family="'Liberation Sans', sans-serif" font-size="26.71" fill="#505050">100</text>
<text transform="translate(1179.58,262.50) scale(1.0000,1)" font-family="'Liberation Sans', sans-serif" font-size="26.71" fill="#505050">50</text>
<text transform="translate(1194.41,310.00) scale(1.0000,1)" font-family="'Liberation Sans', sans-serif" font-size="26.71" fill="#505050">0</text>
<text transform="translate(1354.13,91.00) scale(0.9218,1)" font-family="'Liberation Sans', sans-serif" font-size="36.23" fill="#505050">TNNT2</text>
<text transform="translate(1287.74,165.50) scale(0.9483,1)" font-family="'Liberation Sans', sans-serif" font-size="36.71" fill="#000">p &lt; 0.01</text>
<text transform="translate(1246.07,348.10) scale(0.9750,1)" font-family="'Liberation Sans', sans-serif" font-size="27.30" fill="#505050">day0</text>
<text transform="translate(1322.82,348.10) scale(0.9750,1)" font-family="'Liberation Sans', sans-serif" font-size="27.30" fill="#505050">day2</text>
<text transform="translate(1400.19,348.10) scale(0.9750,1)" font-family="'Liberation Sans', sans-serif" font-size="27.30" fill="#505050">day5</text>
<text transform="translate(1469.93,348.10) scale(0.9750,1)" font-family="'Liberation Sans', sans-serif" font-size="27.30" fill="#505050">day15</text>
<text transform="translate(1546.67,348.10) scale(0.9750,1)" font-family="'Liberation Sans', sans-serif" font-size="27.30" fill="#505050">day30</text>
<rect x="1747.7" y="244.1" width="21.7" height="57.5" fill="#fff" stroke="#000" stroke-width="2.2"/>
<rect x="1822.1" y="219.1" width="21.5" height="82.5" fill="#fff" stroke="#000" stroke-width="2.2"/>
<path d="M1832.8,219.0 V204.0 M1825.8,204.0 H1839.8" stroke="#404040" stroke-width="1.7" fill="none"/>
<rect x="1895.7" y="249.8" width="22.0" height="51.8" fill="#fff" stroke="#000" stroke-width="2.2"/>
<path d="M1906.7,249.7 V242.7 M1899.7,242.7 H1913.7" stroke="#404040" stroke-width="1.7" fill="none"/>
<rect x="1970.6" y="137.1" width="22.0" height="164.5" fill="#fff" stroke="#000" stroke-width="2.2"/>
<path d="M1981.6,137.0 V104.4 M1974.6,104.4 H1988.6" stroke="#404040" stroke-width="1.7" fill="none"/>
<rect x="2044.7" y="171.6" width="21.8" height="130.0" fill="#fff" stroke="#000" stroke-width="2.2"/>
<path d="M2055.6,171.5 V114.1 M2048.6,114.1 H2062.6" stroke="#404040" stroke-width="1.7" fill="none"/>
<path d="M1721.1,66.7 V301.6 M1712.4,301.6 H2092.5 M1712.4,66.7 H1721.1 M1712.4,125.4 H1721.1 M1712.4,184.3 H1721.1 M1712.4,242.9 H1721.1 M1712.4,301.6 H1721.1 " stroke="#000" stroke-width="2.6" fill="none"/>
<text transform="translate(1678.88,75.70) scale(1.0000,1)" font-family="'Liberation Sans', sans-serif" font-size="26.71" fill="#505050">4</text>
<text transform="translate(1679.14,134.40) scale(1.0000,1)" font-family="'Liberation Sans', sans-serif" font-size="26.71" fill="#505050">3</text>
<text transform="translate(1679.41,193.30) scale(1.0000,1)" font-family="'Liberation Sans', sans-serif" font-size="26.71" fill="#505050">2</text>
<text transform="translate(1679.28,251.90) scale(1.0000,1)" font-family="'Liberation Sans', sans-serif" font-size="26.71" fill="#505050">1</text>
<text transform="translate(1679.01,310.60) scale(1.0000,1)" font-family="'Liberation Sans', sans-serif" font-size="26.71" fill="#505050">0</text>
<text transform="translate(1842.32,94.40) scale(0.9411,1)" font-family="'Liberation Sans', sans-serif" font-size="36.23" fill="#505050">TNNI3</text>
<text transform="translate(1758.73,164.80) scale(0.9523,1)" font-family="'Liberation Sans', sans-serif" font-size="36.71" fill="#000">p &lt; 0.05</text>
<text transform="translate(1729.67,348.30) scale(0.9750,1)" font-family="'Liberation Sans', sans-serif" font-size="27.30" fill="#505050">day0</text>
<text transform="translate(1804.17,348.30) scale(0.9750,1)" font-family="'Liberation Sans', sans-serif" font-size="27.30" fill="#505050">day2</text>
<text transform="translate(1877.89,348.30) scale(0.9750,1)" font-family="'Liberation Sans', sans-serif" font-size="27.30" fill="#505050">day5</text>
<text transform="translate(1945.33,348.30) scale(0.9750,1)" font-family="'Liberation Sans', sans-serif" font-size="27.30" fill="#505050">day15</text>
<text transform="translate(2019.27,348.30) scale(0.9750,1)" font-family="'Liberation Sans', sans-serif" font-size="27.30" fill="#505050">day30</text>
<rect x="1259.7" y="643.4" width="22.0" height="0.5" fill="#fff" stroke="#000" stroke-width="2.2"/>
<rect x="1334.6" y="642.9" width="21.5" height="0.5" fill="#fff" stroke="#000" stroke-width="2.2"/>
<rect x="1409.4" y="641.9" width="22.1" height="1.4" fill="#fff" stroke="#000" stroke-width="2.2"/>
<rect x="1484.3" y="458.5" width="22.0" height="184.8" fill="#fff" stroke="#000" stroke-width="2.2"/>
<path d="M1495.3,458.4 V442.9 M1488.3,442.9 H1502.3" stroke="#404040" stroke-width="1.7" fill="none"/>
<rect x="1559.2" y="436.0" width="21.5" height="207.3" fill="#fff" stroke="#000" stroke-width="2.2"/>
<path d="M1569.9,435.9 V424.4 M1562.9,424.4 H1576.9" stroke="#404040" stroke-width="1.7" fill="none"/>
<path d="M1234.1,396.2 V643.3 M1224.4,643.3 H1607.5 M1224.4,396.2 H1234.1 M1224.4,445.6 H1234.1 M1224.4,495.6 H1234.1 M1224.4,544.7 H1234.1 M1224.4,594.2 H1234.1 M1224.4,643.3 H1234.1 " stroke="#000" stroke-width="2.6" fill="none"/>
<text transform="translate(1161.86,405.20) scale(1.0000,1)" font-family="'Liberation Sans', sans-serif" font-size="26.71" fill="#505050">250</text>
<text transform="translate(1161.86,454.60) scale(1.0000,1)" font-family="'Liberation Sans', sans-serif" font-size="26.71" fill="#505050">200</text>
<text transform="translate(1161.86,504.60) scale(1.0000,1)" font-family="'Liberation Sans', sans-serif" font-size="26.71" fill="#505050">150</text>
<text transform="translate(1161.86,553.70) scale(1.0000,1)" font-family="'Liberation Sans', sans-serif" font-size="26.71" fill="#505050">100</text>
<text transform="translate(1176.68,603.20) scale(1.0000,1)" font-family="'Liberation Sans', sans-serif" font-size="26.71" fill="#505050">50</text>
<text transform="translate(1191.51,652.30) scale(1.0000,1)" font-family="'Liberation Sans', sans-serif" font-size="26.71" fill="#505050">0</text>
<text transform="translate(1335.51,410.40) scale(0.9312,1)" font-family="'Liberation Sans', sans-serif" font-size="36.23" fill="#505050">CKM/CKB</text>
<text transform="translate(1287.54,518.50) scale(0.9491,1)" font-family="'Liberation Sans', sans-serif" font-size="36.71" fill="#000">p &lt; 0.01</text>
<text transform="translate(1241.82,689.50) scale(0.9750,1)" font-family="'Liberation Sans', sans-serif" font-size="27.30" fill="#505050">day0</text>
<text transform="translate(1316.67,689.50) scale(0.9750,1)" font-family="'Liberation Sans', sans-serif" font-size="27.30" fill="#505050">day2</text>
<text transform="translate(1391.64,689.50) scale(0.9750,1)" font-family="'Liberation Sans', sans-serif" font-size="27.30" fill="#505050">day5</text>
<text transform="translate(1459.03,689.50) scale(0.9750,1)" font-family="'Liberation Sans', sans-serif" font-size="27.30" fill="#505050">day15</text>
<text transform="translate(1533.62,689.50) scale(0.9750,1)" font-family="'Liberation Sans', sans-serif" font-size="27.30" fill="#505050">day30</text>
<rect x="1747.1" y="610.2" width="27.1" height="29.4" fill="#fff" stroke="#000" stroke-width="2.2"/>
<rect x="1820.8" y="625.2" width="27.8" height="14.4" fill="#fff" stroke="#000" stroke-width="2.2"/>
<path d="M1834.7,625.1 V622.5 M1827.7,622.5 H1841.7" stroke="#404040" stroke-width="1.7" fill="none"/>
<rect x="1895.7" y="605.7" width="27.7" height="33.9" fill="#fff" stroke="#000" stroke-width="2.2"/>
<rect x="1970.1" y="512.9" width="27.5" height="126.7" fill="#fff" stroke="#000" stroke-width="2.2"/>
<path d="M1983.8,512.8 V485.3 M1976.8,485.3 H1990.8" stroke="#404040" stroke-width="1.7" fill="none"/>
<rect x="2043.7" y="465.9" width="28.2" height="173.7" fill="#fff" stroke="#000" stroke-width="2.2"/>
<path d="M2057.8,465.8 V439.4 M2050.8,439.4 H2064.8" stroke="#404040" stroke-width="1.7" fill="none"/>
<path d="M1723.1,393.2 V639.6 M1714.1,639.6 H2094.3 M1714.1,393.2 H1723.1 M1714.1,454.9 H1723.1 M1714.1,516.5 H1723.1 M1714.1,577.9 H1723.1 M1714.1,639.6 H1723.1 " stroke="#000" stroke-width="2.6" fill="none"/>
<text transform="translate(1681.14,402.20) scale(1.0000,1)" font-family="'Liberation Sans', sans-serif" font-size="26.71" fill="#505050">8</text>
<text transform="translate(1681.14,463.90) scale(1.0000,1)" font-family="'Liberation Sans', sans-serif" font-size="26.71" fill="#505050">6</text>
<text transform="translate(1680.88,525.50) scale(1.0000,1)" font-family="'Liberation Sans', sans-serif" font-size="26.71" fill="#505050">4</text>
<text transform="translate(1681.41,586.90) scale(1.0000,1)" font-family="'Liberation Sans', sans-serif" font-size="26.71" fill="#505050">2</text>
<text transform="translate(1681.01,648.60) scale(1.0000,1)" font-family="'Liberation Sans', sans-serif" font-size="26.71" fill="#505050">0</text>
<text transform="translate(1835.98,414.40) scale(0.9500,1)" font-family="'Liberation Sans', sans-serif" font-size="36.23" fill="#505050">GLUT4/1</text>
<text transform="translate(1759.34,518.50) scale(0.9477,1)" font-family="'Liberation Sans', sans-serif" font-size="36.71" fill="#000">p &lt; 0.05</text>
<text transform="translate(1731.77,686.50) scale(0.9750,1)" font-family="'Liberation Sans', sans-serif" font-size="27.30" fill="#505050">day0</text>
<text transform="translate(1806.02,686.50) scale(0.9750,1)" font-family="'Liberation Sans', sans-serif" font-size="27.30" fill="#505050">day2</text>
<text transform="translate(1880.74,686.50) scale(0.9750,1)" font-family="'Liberation Sans', sans-serif" font-size="27.30" fill="#505050">day5</text>
<text transform="translate(1947.58,686.50) scale(0.9750,1)" font-family="'Liberation Sans', sans-serif" font-size="27.30" fill="#505050">day15</text>
<text transform="translate(2021.47,686.50) scale(0.9750,1)" font-family="'Liberation Sans', sans-serif" font-size="27.30" fill="#505050">day30</text>
<rect x="1262.9" y="971.9" width="22.8" height="3.4" fill="#fff" stroke="#000" stroke-width="2.2"/>
<rect x="1340.8" y="969.4" width="22.3" height="5.9" fill="#fff" stroke="#000" stroke-width="2.2"/>
<rect x="1418.7" y="973.1" width="22.2" height="2.2" fill="#fff" stroke="#000" stroke-width="2.2"/>
<rect x="1495.6" y="760.5" width="22.7" height="214.8" fill="#fff" stroke="#000" stroke-width="2.2"/>
<path d="M1507.0,760.4 V745.4 M1500.0,745.4 H1514.0" stroke="#404040" stroke-width="1.7" fill="none"/>
<rect x="1573.5" y="786.5" width="22.2" height="188.8" fill="#fff" stroke="#000" stroke-width="2.2"/>
<path d="M1584.6,786.4 V774.1 M1577.6,774.1 H1591.6" stroke="#404040" stroke-width="1.7" fill="none"/>
<path d="M1234.9,718.2 V975.3 M1226.1,975.3 H1623.0 M1226.1,718.2 H1234.9 M1226.1,804.3 H1234.9 M1226.1,889.7 H1234.9 M1226.1,975.3 H1234.9 " stroke="#000" stroke-width="2.6" fill="none"/>
<text transform="translate(1178.68,727.20) scale(1.0000,1)" font-family="'Liberation Sans', sans-serif" font-size="26.71" fill="#505050">60</text>
<text transform="translate(1178.68,813.30) scale(1.0000,1)" font-family="'Liberation Sans', sans-serif" font-size="26.71" fill="#505050">40</text>
<text transform="translate(1178.68,898.70) scale(1.0000,1)" font-family="'Liberation Sans', sans-serif" font-size="26.71" fill="#505050">20</text>
<text transform="translate(1193.51,984.30) scale(1.0000,1)" font-family="'Liberation Sans', sans-serif" font-size="26.71" fill="#505050">0</text>
<text transform="translate(1360.61,767.90) scale(0.8772,1)" font-family="'Liberation Sans', sans-serif" font-size="36.23" fill="#505050">GJA3</text>
<text transform="translate(1286.72,852.30) scale(0.9552,1)" font-family="'Liberation Sans', sans-serif" font-size="36.71" fill="#000">p &lt; 0.01</text>
<text transform="translate(1245.42,1022.00) scale(0.9750,1)" font-family="'Liberation Sans', sans-serif" font-size="27.30" fill="#505050">day0</text>
<text transform="translate(1323.27,1022.00) scale(0.9750,1)" font-family="'Liberation Sans', sans-serif" font-size="27.30" fill="#505050">day2</text>
<text transform="translate(1400.99,1022.00) scale(0.9750,1)" font-family="'Liberation Sans', sans-serif" font-size="27.30" fill="#505050">day5</text>
<text transform="translate(1470.68,1022.00) scale(0.9750,1)" font-family="'Liberation Sans', sans-serif" font-size="27.30" fill="#505050">day15</text>
<text transform="translate(1548.27,1022.00) scale(0.9750,1)" font-family="'Liberation Sans', sans-serif" font-size="27.30" fill="#505050">day30</text>
<rect x="1747.7" y="929.5" width="21.5" height="40.1" fill="#fff" stroke="#000" stroke-width="2.2"/>
<rect x="1822.1" y="921.5" width="21.5" height="48.1" fill="#fff" stroke="#000" stroke-width="2.2"/>
<path d="M1832.8,921.4 V914.2 M1825.8,914.2 H1839.8" stroke="#404040" stroke-width="1.7" fill="none"/>
<rect x="1896.1" y="920.0" width="21.8" height="49.6" fill="#fff" stroke="#000" stroke-width="2.2"/>
<path d="M1907.0,919.9 V917.1 M1900.0,917.1 H1914.0" stroke="#404040" stroke-width="1.7" fill="none"/>
<rect x="1970.6" y="787.2" width="22.0" height="182.4" fill="#fff" stroke="#000" stroke-width="2.2"/>
<path d="M1981.6,787.1 V749.9 M1974.6,749.9 H1988.6" stroke="#404040" stroke-width="1.7" fill="none"/>
<rect x="2045.4" y="857.1" width="20.8" height="112.5" fill="#fff" stroke="#000" stroke-width="2.2"/>
<path d="M2055.8,857.0 V819.8 M2048.8,819.8 H2062.8" stroke="#404040" stroke-width="1.7" fill="none"/>
<path d="M1721.1,723.2 V969.6 M1712.4,969.6 H2093.0 M1712.4,723.2 H1721.1 M1712.4,764.4 H1721.1 M1712.4,805.3 H1721.1 M1712.4,846.5 H1721.1 M1712.4,887.2 H1721.1 M1712.4,928.4 H1721.1 M1712.4,969.6 H1721.1 " stroke="#000" stroke-width="2.6" fill="none"/>
<text transform="translate(1679.94,732.20) scale(1.0000,1)" font-family="'Liberation Sans', sans-serif" font-size="26.71" fill="#505050">6</text>
<text transform="translate(1679.94,773.40) scale(1.0000,1)" font-family="'Liberation Sans', sans-serif" font-size="26.71" fill="#505050">5</text>
<text transform="translate(1679.67,814.30) scale(1.0000,1)" font-family="'Liberation Sans', sans-serif" font-size="26.71" fill="#505050">4</text>
<text transform="translate(1679.94,855.50) scale(1.0000,1)" font-family="'Liberation Sans', sans-serif" font-size="26.71" fill="#505050">3</text>
<text transform="translate(1680.21,896.20) scale(1.0000,1)" font-family="'Liberation Sans', sans-serif" font-size="26.71" fill="#505050">2</text>
<text transform="translate(1680.08,937.40) scale(1.0000,1)" font-family="'Liberation Sans', sans-serif" font-size="26.71" fill="#505050">1</text>
<text transform="translate(1679.81,978.60) scale(1.0000,1)" font-family="'Liberation Sans', sans-serif" font-size="26.71" fill="#505050">0</text>
<text transform="translate(1845.74,768.60) scale(0.9189,1)" font-family="'Liberation Sans', sans-serif" font-size="36.23" fill="#505050">HCN4</text>
<text transform="translate(1759.34,851.50) scale(0.9477,1)" font-family="'Liberation Sans', sans-serif" font-size="36.71" fill="#000">p &lt; 0.05</text>
<text transform="translate(1729.57,1015.70) scale(0.9750,1)" font-family="'Liberation Sans', sans-serif" font-size="27.30" fill="#505050">day0</text>
<text transform="translate(1804.17,1015.70) scale(0.9750,1)" font-family="'Liberation Sans', sans-serif" font-size="27.30" fill="#505050">day2</text>
<text transform="translate(1878.19,1015.70) scale(0.9750,1)" font-family="'Liberation Sans', sans-serif" font-size="27.30" fill="#505050">day5</text>
<text transform="translate(1945.33,1015.70) scale(0.9750,1)" font-family="'Liberation Sans', sans-serif" font-size="27.30" fill="#505050">day15</text>
<text transform="translate(2019.47,1015.70) scale(0.9750,1)" font-family="'Liberation Sans', sans-serif" font-size="27.30" fill="#505050">day30</text>
<rect x="1265.9" y="1303.9" width="22.2" height="0.8" fill="#fff" stroke="#000" stroke-width="2.2"/>
<rect x="1341.5" y="1300.5" width="21.7" height="4.2" fill="#fff" stroke="#000" stroke-width="2.2"/>
<rect x="1417.1" y="1290.2" width="21.7" height="14.5" fill="#fff" stroke="#000" stroke-width="2.2"/>
<path d="M1428.0,1290.1 V1280.4 M1421.0,1280.4 H1435.0" stroke="#404040" stroke-width="1.7" fill="none"/>
<rect x="1492.6" y="1173.2" width="21.3" height="131.5" fill="#fff" stroke="#000" stroke-width="2.2"/>
<path d="M1503.2,1173.1 V1125.6 M1496.2,1125.6 H1510.2" stroke="#404040" stroke-width="1.7" fill="none"/>
<rect x="1568.2" y="1171.8" width="21.2" height="132.9" fill="#fff" stroke="#000" stroke-width="2.2"/>
<path d="M1578.8,1171.7 V1116.0 M1571.8,1116.0 H1585.8" stroke="#404040" stroke-width="1.7" fill="none"/>
<path d="M1239.2,1058.5 V1304.7 M1230.2,1304.7 H1616.6 M1230.2,1058.5 H1239.2 M1230.2,1107.5 H1239.2 M1230.2,1156.8 H1239.2 M1230.2,1206 H1239.2 M1230.2,1255 H1239.2 M1230.2,1304.7 H1239.2 M1239.2,1304.7 V1313.5 M1314.3,1304.7 V1313.5 M1389.9,1304.7 V1313.5 M1465.5,1304.7 V1313.5 M1540.5,1304.7 V1313.5 M1616.6,1304.7 V1313.5 " stroke="#000" stroke-width="2.6" fill="none"/>
<text transform="translate(1167.86,1067.50) scale(1.0000,1)" font-family="'Liberation Sans', sans-serif" font-size="26.71" fill="#505050">100</text>
<text transform="translate(1182.68,1116.50) scale(1.0000,1)" font-family="'Liberation Sans', sans-serif" font-size="26.71" fill="#505050">80</text>
<text transform="translate(1182.68,1165.80) scale(1.0000,1)" font-family="'Liberation Sans', sans-serif" font-size="26.71" fill="#505050">60</text>
<text transform="translate(1182.68,1215.00) scale(1.0000,1)" font-family="'Liberation Sans', sans-serif" font-size="26.71" fill="#505050">40</text>
<text transform="translate(1182.68,1264.00) scale(1.0000,1)" font-family="'Liberation Sans', sans-serif" font-size="26.71" fill="#505050">20</text>
<text transform="translate(1197.51,1313.70) scale(1.0000,1)" font-family="'Liberation Sans', sans-serif" font-size="26.71" fill="#505050">0</text>
<text transform="translate(1329.28,1079.50) scale(0.8921,1)" font-family="'Liberation Sans', sans-serif" font-size="36.23" fill="#505050">CACNA1C</text>
<text transform="translate(1287.75,1147.70) scale(0.9439,1)" font-family="'Liberation Sans', sans-serif" font-size="36.71" fill="#000">p &lt; 0.05</text>
<text transform="translate(1248.12,1350.60) scale(0.9750,1)" font-family="'Liberation Sans', sans-serif" font-size="27.30" fill="#505050">day0</text>
<text transform="translate(1323.67,1350.60) scale(0.9750,1)" font-family="'Liberation Sans', sans-serif" font-size="27.30" fill="#505050">day2</text>
<text transform="translate(1399.14,1350.60) scale(0.9750,1)" font-family="'Liberation Sans', sans-serif" font-size="27.30" fill="#505050">day5</text>
<text transform="translate(1466.98,1350.60) scale(0.9750,1)" font-family="'Liberation Sans', sans-serif" font-size="27.30" fill="#505050">day15</text>
<text transform="translate(1542.47,1350.60) scale(0.9750,1)" font-family="'Liberation Sans', sans-serif" font-size="27.30" fill="#505050">day30</text>
<rect x="1749.6" y="1277.8" width="21.4" height="22.8" fill="#fff" stroke="#000" stroke-width="2.2"/>
<path d="M1760.3,1277.7 V1266.0 M1753.3,1266.0 H1767.3" stroke="#404040" stroke-width="1.7" fill="none"/>
<rect x="1823.4" y="1204.7" width="21.5" height="95.9" fill="#fff" stroke="#000" stroke-width="2.2"/>
<path d="M1834.2,1204.6 V1173.8 M1827.2,1173.8 H1841.2" stroke="#404040" stroke-width="1.7" fill="none"/>
<rect x="1897.8" y="1190.3" width="21.9" height="110.3" fill="#fff" stroke="#000" stroke-width="2.2"/>
<path d="M1908.8,1190.2 V1166.5 M1901.8,1166.5 H1915.8" stroke="#404040" stroke-width="1.7" fill="none"/>
<rect x="1972.6" y="1156.6" width="21.0" height="144.0" fill="#fff" stroke="#000" stroke-width="2.2"/>
<path d="M1983.1,1156.5 V1108.5 M1976.1,1108.5 H1990.1" stroke="#404040" stroke-width="1.7" fill="none"/>
<rect x="2046.5" y="1151.1" width="21.4" height="149.5" fill="#fff" stroke="#000" stroke-width="2.2"/>
<path d="M2057.2,1151.0 V1113.4 M2050.2,1113.4 H2064.2" stroke="#404040" stroke-width="1.7" fill="none"/>
<path d="M1722.2,1053.9 V1300.6 M1713.6,1300.6 H2094.7 M1713.6,1053.9 H1722.2 M1713.6,1103.6 H1722.2 M1713.6,1153.1 H1722.2 M1713.6,1202.6 H1722.2 M1713.6,1251.8 H1722.2 M1713.6,1300.6 H1722.2 M1722.2,1300.6 V1309.9 M1796.8,1300.6 V1309.9 M1871.6,1300.6 V1309.9 M1946,1300.6 V1309.9 M2020.3,1300.6 V1309.9 M2094.7,1300.6 V1309.9 " stroke="#000" stroke-width="2.6" fill="none"/>
<text transform="translate(1666.18,1062.90) scale(1.0000,1)" font-family="'Liberation Sans', sans-serif" font-size="26.71" fill="#505050">10</text>
<text transform="translate(1681.14,1112.60) scale(1.0000,1)" font-family="'Liberation Sans', sans-serif" font-size="26.71" fill="#505050">8</text>
<text transform="translate(1681.14,1162.10) scale(1.0000,1)" font-family="'Liberation Sans', sans-serif" font-size="26.71" fill="#505050">6</text>
<text transform="translate(1680.88,1211.60) scale(1.0000,1)" font-family="'Liberation Sans', sans-serif" font-size="26.71" fill="#505050">4</text>
<text transform="translate(1681.41,1260.80) scale(1.0000,1)" font-family="'Liberation Sans', sans-serif" font-size="26.71" fill="#505050">2</text>
<text transform="translate(1681.01,1309.60) scale(1.0000,1)" font-family="'Liberation Sans', sans-serif" font-size="26.71" fill="#505050">0</text>
<text transform="translate(1842.73,1081.90) scale(0.8873,1)" font-family="'Liberation Sans', sans-serif" font-size="36.23" fill="#505050">KCNH2</text>
<text transform="translate(1759.15,1147.70) scale(0.9431,1)" font-family="'Liberation Sans', sans-serif" font-size="36.71" fill="#000">p &lt; 0.05</text>
<text transform="translate(1731.42,1346.90) scale(0.9750,1)" font-family="'Liberation Sans', sans-serif" font-size="27.30" fill="#505050">day0</text>
<text transform="translate(1805.47,1346.90) scale(0.9750,1)" font-family="'Liberation Sans', sans-serif" font-size="27.30" fill="#505050">day2</text>
<text transform="translate(1879.94,1346.90) scale(0.9750,1)" font-family="'Liberation Sans', sans-serif" font-size="27.30" fill="#505050">day5</text>
<text transform="translate(1946.83,1346.90) scale(0.9750,1)" font-family="'Liberation Sans', sans-serif" font-size="27.30" fill="#505050">day15</text>
<text transform="translate(2020.87,1346.90) scale(0.9750,1)" font-family="'Liberation Sans', sans-serif" font-size="27.30" fill="#505050">day30</text>
</svg>
</body></html>
